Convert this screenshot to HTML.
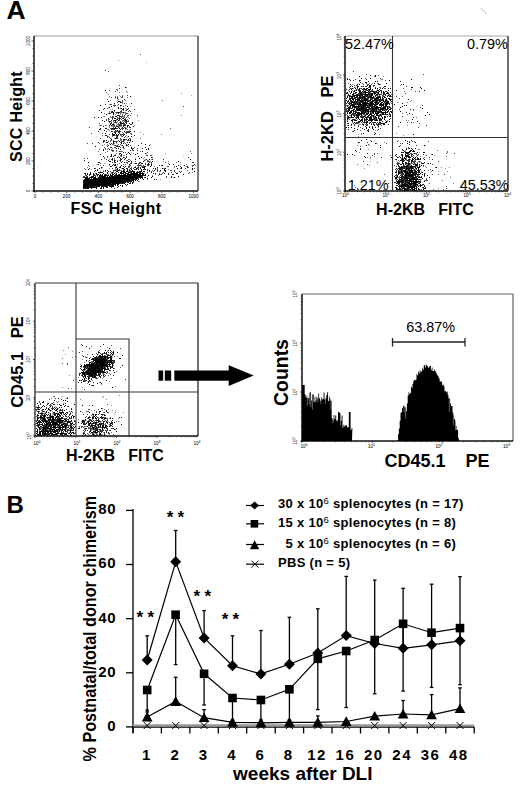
<!DOCTYPE html>
<html><head><meta charset="utf-8"><style>
html,body{margin:0;padding:0;background:#fff;width:520px;height:785px;overflow:hidden}
svg{display:block}
text{font-family:"Liberation Sans", sans-serif;fill:#000}
</style></head><body>
<svg width="520" height="785" viewBox="0 0 520 785" font-family='"Liberation Sans", sans-serif'><rect width="520" height="785" fill="#fff"/><line x1="481" y1="8" x2="486.5" y2="14" stroke="#bbb" stroke-width="1"/><defs><filter id="bl" x="0" y="0" width="1" height="1"><feGaussianBlur stdDeviation="0.45"/></filter></defs><g filter="url(#bl)"><g transform="translate(0.5 0.5)" stroke-linecap="square" stroke-width="1" fill="none"><path stroke="#bbb" d="M183 156h0M146 62h0"/><path stroke="#aaa" d="M131 152h0M119 95h0M165 153h0M191 95h0"/><path stroke="#999" d="M143 134h0M108 94h0M118 60h0"/><path stroke="#888" d="M127 171h0M87 167h0M130 160h0M121 168h0M116 145h0M145 160h0M95 170h0M87 176h0M142 166h0M138 163h0M116 170h0M120 167h0M118 170h0M94 174h0M102 167h0M114 158h0M140 165h0M135 158h0M101 168h0M135 166h0M109 168h0M129 167h0M133 153h0M110 173h0M100 171h0M138 168h0M103 173h0M99 173h0M91 169h0M134 163h0M111 172h0M144 157h0M151 159h0M125 164h0M119 169h0M106 175h0M109 159h0M119 169h0M151 163h0M109 168h0M131 167h0M150 144h0M124 155h0M134 167h0M131 167h0M102 174h0M115 169h0M98 164h0M115 154h0M85 175h0M103 173h0M107 173h0M93 165h0M137 167h0M89 166h0M93 174h0M104 163h0M140 165h0M114 164h0M148 160h0M121 170h0M113 171h0M103 170h0M102 175h0M111 173h0M90 172h0M85 169h0M111 172h0M99 176h0M84 177h0M148 160h0M129 130h0M147 162h0M85 175h0M149 161h0M109 165h0M117 160h0M115 167h0M119 160h0M98 164h0M100 165h0M85 169h0M94 174h0M115 160h0M83 176h0M127 170h0M131 168h0M144 157h0M97 176h0M154 166h0M191 153h0M142 178h0M174 166h0M140 164h0M144 173h0M139 165h0M160 174h0M163 168h0M147 173h0M180 164h0M155 174h0M160 171h0M163 161h0M174 167h0M195 165h0M173 177h0M141 171h0M152 175h0M160 179h0M168 161h0M147 179h0M157 168h0M139 181h0M187 166h0M139 174h0M180 162h0M121 136h0M120 140h0M128 117h0M118 131h0M115 135h0M124 142h0M114 124h0M121 126h0M110 116h0M121 139h0M109 143h0M113 151h0M124 116h0M120 96h0M118 108h0M121 116h0M111 138h0M110 140h0M119 127h0M117 89h0M121 136h0M113 120h0M129 126h0M123 112h0M117 100h0M120 142h0M113 126h0M124 148h0M112 126h0M125 110h0M117 105h0M123 113h0M132 150h0M118 127h0M107 129h0M117 96h0M117 117h0M124 115h0M116 116h0M108 121h0M109 122h0M118 107h0M125 121h0M110 138h0M119 141h0M117 124h0M127 153h0M125 121h0M106 125h0M123 124h0M120 106h0M123 117h0M120 126h0M113 124h0M116 146h0M128 115h0M130 106h0M111 126h0M120 102h0M119 141h0M120 111h0M123 118h0M116 143h0M125 124h0M126 109h0M119 153h0M127 92h0M132 122h0M130 141h0M117 115h0M127 142h0M116 120h0M117 135h0M125 119h0M112 119h0M113 121h0M107 144h0M123 112h0M122 102h0M122 127h0M118 135h0M115 112h0M126 135h0M120 142h0M116 123h0M115 120h0M103 116h0M121 145h0M125 125h0M104 144h0M117 121h0M130 138h0M108 107h0M109 104h0M115 114h0M119 122h0M127 119h0M112 125h0M111 121h0M111 125h0M122 121h0M113 125h0M123 155h0M110 109h0M111 117h0M109 126h0M112 151h0M122 118h0M122 147h0M126 103h0M114 155h0M123 109h0M116 130h0M125 118h0M109 119h0M121 156h0M121 140h0M122 151h0M115 138h0M109 127h0M118 127h0M114 104h0M124 112h0M115 98h0M118 135h0M113 141h0M120 156h0M114 143h0M120 112h0M125 129h0M123 128h0M114 120h0M116 153h0M108 121h0M101 125h0M131 124h0M115 96h0M105 149h0M109 125h0M126 135h0M108 120h0M109 130h0M120 114h0M120 105h0M130 115h0M120 123h0M122 103h0M131 133h0M107 145h0M99 125h0M119 126h0M124 155h0M105 152h0M117 141h0M143 158h0M138 120h0M107 157h0M112 109h0M119 141h0M120 135h0M129 140h0M140 132h0M127 163h0M104 157h0M120 118h0M119 124h0M127 137h0M131 133h0M123 116h0M116 151h0M120 129h0M161 134h0M181 93h0M126 87h0M181 115h0M349 102h0M370 106h0M377 111h0M380 120h0M375 106h0M349 106h0M367 118h0M365 116h0M359 115h0M381 106h0M360 105h0M363 91h0M364 123h0M372 101h0M365 108h0M377 106h0M357 87h0M372 99h0M354 96h0M358 105h0M383 76h0M376 105h0M375 88h0M381 103h0M353 88h0M378 97h0M368 117h0M355 104h0M356 103h0M365 104h0M351 88h0M379 114h0M359 103h0M374 117h0M371 101h0M364 103h0M370 106h0M378 110h0M362 110h0M371 102h0M369 83h0M368 99h0M388 92h0M368 90h0M381 79h0M361 92h0M357 101h0M385 108h0M381 113h0M370 99h0M365 111h0M349 110h0M373 111h0M377 101h0M374 108h0M378 110h0M375 110h0M356 117h0M367 97h0M363 101h0M357 89h0M359 107h0M352 90h0M367 99h0M383 95h0M384 116h0M359 90h0M388 110h0M372 98h0M376 105h0M349 99h0M348 111h0M352 121h0M377 130h0M375 99h0M366 99h0M356 110h0M377 107h0M360 94h0M370 101h0M376 110h0M378 94h0M370 105h0M348 83h0M357 101h0M379 102h0M347 101h0M371 117h0M369 91h0M357 102h0M369 108h0M360 108h0M380 110h0M389 98h0M371 98h0M380 100h0M379 134h0M385 120h0M363 104h0M377 106h0M353 102h0M370 93h0M367 96h0M359 107h0M385 117h0M350 104h0M371 107h0M369 122h0M350 102h0M364 113h0M375 104h0M369 85h0M364 107h0M372 97h0M366 103h0M363 109h0M366 124h0M376 110h0M376 115h0M372 122h0M386 104h0M373 93h0M371 98h0M369 101h0M388 107h0M358 136h0M376 91h0M370 116h0M363 92h0M387 120h0M389 95h0M365 106h0M373 103h0M371 108h0M384 97h0M367 106h0M368 112h0M363 105h0M370 98h0M364 94h0M367 104h0M357 112h0M380 87h0M376 90h0M368 93h0M374 93h0M374 94h0M360 100h0M388 115h0M384 103h0M376 91h0M372 89h0M362 109h0M372 119h0M368 99h0M380 108h0M355 90h0M362 99h0M357 100h0M360 104h0M375 130h0M372 99h0M367 112h0M357 119h0M363 89h0M358 116h0M369 114h0M364 101h0M375 92h0M390 115h0M356 117h0M358 105h0M362 108h0M361 95h0M356 99h0M376 112h0M352 84h0M358 101h0M371 102h0M360 106h0M366 125h0M384 104h0M381 111h0M390 96h0M349 99h0M384 117h0M364 106h0M383 103h0M360 111h0M360 101h0M374 106h0M378 112h0M360 106h0M379 123h0M380 104h0M356 107h0M357 112h0M353 91h0M374 101h0M378 92h0M364 99h0M357 106h0M375 118h0M376 101h0M366 114h0M347 95h0M366 111h0M363 98h0M351 85h0M382 99h0M371 95h0M372 97h0M348 127h0M346 92h0M365 103h0M372 89h0M377 89h0M374 115h0M364 93h0M380 105h0M362 101h0M369 107h0M375 102h0M350 106h0M364 95h0M368 95h0M355 106h0M374 132h0M389 114h0M370 104h0M364 96h0M382 113h0M356 105h0M363 102h0M362 100h0M358 83h0M358 100h0M365 94h0M366 108h0M351 101h0M359 89h0M357 97h0M388 101h0M371 106h0M353 107h0M368 107h0M347 111h0M362 97h0M368 104h0M359 113h0M351 108h0M369 107h0M353 92h0M352 122h0M378 96h0M364 107h0M361 94h0M377 110h0M350 107h0M366 102h0M367 98h0M376 101h0M368 99h0M366 114h0M366 117h0M375 118h0M374 117h0M387 95h0M373 97h0M362 97h0M369 109h0M370 105h0M359 81h0M354 111h0M363 100h0M372 111h0M363 109h0M361 96h0M353 113h0M368 107h0M356 114h0M381 111h0M352 94h0M360 117h0M354 120h0M364 120h0M348 103h0M358 134h0M360 96h0M364 92h0M377 83h0M367 114h0M370 112h0M357 85h0M359 88h0M362 97h0M355 87h0M358 115h0M361 100h0M358 90h0M381 111h0M381 107h0M372 83h0M374 97h0M357 89h0M349 107h0M378 127h0M354 97h0M388 94h0M362 100h0M353 101h0M346 105h0M347 125h0M364 98h0M372 91h0M360 94h0M355 101h0M371 91h0M408 172h0M420 181h0M409 177h0M404 177h0M406 177h0M409 182h0M402 166h0M401 175h0M415 188h0M398 177h0M408 171h0M414 163h0M407 174h0M406 176h0M412 184h0M409 186h0M403 188h0M410 159h0M405 171h0M409 184h0M401 188h0M414 185h0M401 184h0M411 162h0M415 165h0M413 184h0M399 161h0M420 166h0M400 179h0M415 188h0M413 153h0M418 180h0M406 170h0M409 167h0M399 170h0M410 189h0M405 186h0M400 184h0M415 171h0M398 172h0M406 160h0M409 174h0M415 142h0M407 178h0M407 166h0M405 150h0M408 185h0M412 186h0M397 179h0M412 181h0M417 174h0M414 164h0M410 164h0M415 163h0M415 180h0M418 189h0M414 182h0M419 152h0M411 170h0M413 167h0M415 177h0M420 184h0M400 170h0M407 171h0M407 182h0M408 156h0M408 168h0M405 172h0M412 189h0M410 176h0M408 180h0M412 183h0M411 165h0M397 163h0M418 190h0M395 179h0M411 188h0M416 188h0M407 173h0M409 172h0M403 183h0M418 159h0M408 189h0M403 180h0M397 179h0M412 174h0M404 175h0M409 184h0M398 140h0M406 170h0M403 180h0M400 181h0M408 188h0M407 172h0M412 177h0M405 164h0M411 178h0M406 181h0M421 179h0M412 176h0M399 179h0M400 189h0M407 188h0M407 155h0M417 187h0M403 186h0M419 149h0M402 174h0M410 189h0M402 178h0M420 180h0M395 172h0M408 164h0M403 173h0M415 177h0M404 181h0M419 185h0M405 172h0M412 172h0M414 188h0M414 167h0M403 173h0M402 178h0M408 182h0M401 164h0M409 178h0M402 150h0M419 162h0M409 184h0M404 172h0M396 163h0M396 161h0M407 160h0M419 161h0M407 178h0M419 152h0M409 172h0M409 179h0M404 174h0M406 158h0M404 165h0M404 183h0M412 173h0M413 169h0M403 158h0M420 156h0M413 182h0M412 182h0M407 176h0M404 182h0M404 181h0M411 177h0M414 184h0M400 173h0M409 188h0M406 171h0M409 177h0M416 185h0M418 175h0M407 179h0M399 172h0M410 180h0M409 165h0M409 177h0M409 175h0M410 163h0M416 183h0M399 177h0M409 174h0M399 168h0M421 165h0M408 174h0M410 165h0M403 163h0M425 180h0M400 145h0M427 163h0M407 164h0M410 175h0M411 169h0M397 162h0M399 169h0M401 186h0M404 190h0M425 145h0M398 177h0M411 186h0M422 163h0M429 159h0M399 177h0M423 166h0M415 158h0M412 182h0M402 178h0M424 180h0M420 161h0M402 170h0M415 160h0M425 173h0M418 185h0M398 162h0M401 171h0M404 187h0M410 101h0M411 100h0M408 120h0M400 85h0M397 102h0M396 133h0M407 125h0M403 135h0M370 158h0M359 152h0M377 153h0M367 157h0M374 156h0M370 161h0M384 142h0M370 140h0M357 145h0M368 149h0M364 168h0M354 185h0M352 182h0M369 165h0M352 182h0M426 167h0M433 189h0M447 171h0M449 167h0M441 167h0M438 188h0M426 178h0M421 171h0M453 183h0M438 171h0M425 166h0M434 155h0M431 171h0M446 156h0M445 168h0M94 370h0M95 369h0M99 367h0M102 359h0M102 359h0M94 371h0M104 359h0M104 358h0M97 367h0M100 368h0M94 364h0M97 369h0M87 369h0M88 373h0M102 368h0M92 368h0M99 368h0M95 363h0M84 362h0M109 357h0M102 363h0M99 361h0M111 355h0M96 358h0M99 366h0M89 363h0M100 360h0M101 370h0M90 373h0M97 364h0M94 364h0M99 366h0M93 364h0M92 371h0M85 378h0M89 370h0M100 364h0M112 357h0M80 380h0M100 374h0M101 365h0M98 367h0M95 359h0M107 361h0M106 358h0M113 365h0M101 361h0M105 365h0M99 357h0M103 365h0M106 366h0M83 381h0M94 365h0M95 368h0M88 377h0M107 347h0M100 368h0M98 357h0M96 367h0M92 366h0M106 363h0M93 368h0M92 368h0M93 368h0M86 370h0M104 358h0M107 355h0M93 366h0M97 368h0M88 370h0M100 369h0M104 369h0M98 365h0M99 362h0M84 372h0M107 371h0M94 360h0M89 374h0M101 358h0M96 377h0M78 377h0M99 369h0M94 366h0M97 364h0M82 376h0M96 371h0M91 373h0M85 372h0M103 372h0M98 374h0M91 361h0M102 360h0M105 355h0M87 367h0M81 367h0M98 362h0M102 371h0M100 362h0M90 372h0M95 364h0M91 368h0M95 369h0M90 369h0M92 367h0M91 363h0M89 374h0M108 360h0M99 362h0M103 362h0M100 364h0M101 370h0M94 371h0M96 371h0M96 368h0M89 376h0M90 368h0M87 374h0M99 362h0M100 363h0M95 370h0M95 364h0M105 360h0M109 362h0M94 371h0M98 377h0M101 359h0M98 371h0M107 366h0M95 369h0M88 361h0M88 370h0M92 371h0M89 365h0M110 374h0M91 368h0M100 362h0M101 363h0M104 368h0M93 362h0M96 361h0M88 370h0M108 361h0M110 355h0M95 366h0M97 369h0M92 362h0M103 372h0M94 374h0M103 365h0M111 366h0M97 355h0M92 380h0M102 373h0M100 368h0M91 376h0M89 377h0M93 364h0M100 364h0M109 366h0M101 361h0M98 365h0M106 361h0M101 372h0M99 366h0M91 365h0M100 371h0M98 366h0M99 358h0M100 364h0M107 362h0M93 368h0M88 377h0M102 373h0M102 362h0M101 363h0M106 362h0M97 362h0M100 364h0M91 374h0M111 353h0M91 366h0M98 371h0M92 367h0M99 363h0M98 370h0M102 365h0M109 373h0M106 357h0M97 365h0M85 357h0M93 374h0M98 373h0M100 371h0M111 378h0M92 363h0M101 358h0M117 356h0M82 387h0M99 382h0M87 383h0M98 366h0M91 346h0M85 356h0M111 366h0M94 364h0M80 364h0M87 369h0M82 359h0M115 386h0M101 384h0M95 378h0M93 374h0M109 381h0M95 361h0M83 370h0M99 376h0M103 376h0M87 357h0M105 356h0M85 368h0M86 361h0M95 377h0M96 375h0M105 357h0M102 378h0M107 356h0M106 371h0M63 420h0M47 422h0M68 425h0M65 431h0M60 430h0M58 428h0M36 420h0M53 424h0M64 422h0M45 416h0M53 429h0M41 431h0M48 425h0M57 427h0M37 434h0M45 426h0M58 426h0M58 430h0M45 420h0M55 421h0M53 423h0M61 434h0M49 413h0M41 419h0M55 417h0M50 426h0M56 425h0M38 425h0M54 425h0M67 417h0M49 410h0M45 412h0M64 425h0M47 426h0M57 411h0M63 421h0M51 426h0M65 421h0M49 428h0M42 423h0M62 435h0M63 421h0M59 431h0M57 431h0M41 419h0M69 418h0M59 416h0M61 423h0M57 430h0M62 423h0M51 428h0M41 427h0M45 427h0M65 430h0M58 408h0M37 423h0M47 421h0M44 428h0M52 434h0M42 414h0M42 430h0M60 426h0M63 418h0M61 429h0M70 413h0M73 418h0M54 427h0M55 406h0M43 409h0M37 408h0M60 422h0M48 423h0M44 421h0M62 432h0M42 433h0M52 425h0M48 424h0M47 417h0M51 430h0M74 433h0M42 430h0M53 414h0M55 431h0M43 421h0M54 413h0M50 433h0M38 421h0M43 411h0M71 432h0M44 424h0M59 429h0M36 420h0M52 425h0M46 429h0M52 411h0M50 422h0M47 410h0M47 423h0M60 425h0M38 426h0M62 415h0M65 416h0M51 419h0M36 425h0M61 410h0M61 419h0M66 419h0M50 411h0M46 424h0M50 425h0M63 414h0M59 427h0M57 423h0M49 434h0M42 412h0M53 430h0M44 428h0M49 425h0M52 423h0M51 432h0M57 427h0M66 429h0M46 433h0M43 422h0M59 426h0M47 423h0M58 417h0M68 433h0M52 413h0M51 410h0M62 426h0M43 426h0M38 425h0M48 425h0M42 402h0M56 421h0M47 417h0M52 429h0M53 423h0M49 425h0M58 420h0M58 435h0M59 411h0M53 412h0M69 432h0M75 426h0M71 424h0M101 430h0M98 427h0M86 426h0M93 420h0M100 425h0M85 420h0M82 421h0M103 429h0M85 423h0M89 425h0M103 432h0M93 432h0M102 424h0M92 421h0M93 431h0M99 431h0M94 427h0M104 427h0M105 424h0M99 418h0M101 427h0M89 428h0M92 419h0M107 419h0M92 413h0M98 417h0M103 430h0M87 418h0M109 418h0M86 426h0M92 416h0M87 414h0M110 417h0M101 431h0M97 427h0M99 430h0M88 420h0M100 433h0M99 427h0M111 405h0M102 426h0M79 427h0M84 429h0M89 427h0M99 434h0M93 430h0M93 433h0M101 421h0M88 424h0M99 424h0M94 431h0M83 432h0M109 422h0M98 427h0M85 426h0M95 424h0M101 424h0M91 430h0M98 419h0M90 430h0M109 426h0M81 421h0M92 416h0M102 434h0M101 423h0M107 421h0M86 428h0M92 423h0M95 424h0M91 429h0M115 412h0M109 425h0M104 434h0M102 424h0M114 414h0M98 419h0M109 434h0M98 429h0M110 426h0M109 422h0M92 424h0M104 424h0M82 412h0M88 420h0M107 426h0M108 433h0M86 422h0M96 421h0M101 434h0M114 435h0M107 430h0M100 422h0M92 425h0M102 418h0M103 412h0M95 432h0M93 418h0M56 401h0M53 396h0M63 403h0M57 413h0M67 397h0M41 412h0M58 401h0M63 429h0M62 396h0M56 417h0M40 427h0M70 414h0M46 405h0M71 433h0M53 413h0M43 409h0M66 398h0M50 430h0M48 429h0M50 429h0M37 433h0M115 410h0M82 426h0M118 418h0M119 395h0M80 399h0M100 421h0M123 412h0M112 410h0M89 405h0M103 396h0M106 399h0M102 397h0M91 410h0M102 410h0M72 351h0M71 388h0M72 357h0M65 354h0M75 356h0M69 375h0M63 350h0M62 387h0"/><path stroke="#666" d="M93 177h0M118 172h0M124 157h0M147 164h0M111 149h0M97 176h0M141 166h0M128 171h0M85 175h0M135 169h0M95 173h0M114 155h0M129 159h0M84 168h0M97 164h0M129 165h0M116 169h0M120 166h0M84 176h0M140 165h0M146 153h0M115 174h0M140 151h0M124 171h0M100 176h0M147 161h0M145 159h0M112 173h0M120 161h0M95 175h0M88 165h0M87 176h0M106 174h0M145 163h0M129 171h0M123 169h0M111 150h0M133 168h0M147 165h0M112 160h0M137 165h0M90 172h0M126 160h0M108 160h0M131 168h0M84 158h0M130 170h0M123 164h0M138 167h0M141 177h0M193 165h0M152 170h0M142 166h0M159 173h0M168 173h0M141 175h0M179 171h0M159 171h0M192 166h0M175 172h0M187 170h0M154 170h0M168 163h0M141 165h0M176 162h0M151 171h0M168 169h0M142 174h0M192 172h0M144 177h0M186 166h0M138 181h0M186 164h0M180 168h0M158 175h0M140 174h0M164 168h0M143 171h0M147 176h0M121 97h0M113 125h0M123 126h0M117 146h0M120 108h0M125 108h0M119 153h0M115 168h0M106 131h0M113 144h0M109 96h0M123 148h0M122 158h0M120 118h0M125 113h0M118 123h0M120 144h0M107 146h0M114 147h0M122 132h0M117 121h0M113 120h0M121 135h0M127 113h0M122 95h0M127 126h0M124 140h0M107 99h0M125 100h0M103 140h0M119 120h0M113 140h0M113 150h0M126 91h0M110 141h0M110 121h0M109 90h0M112 118h0M115 147h0M116 136h0M122 112h0M120 139h0M121 102h0M118 115h0M113 127h0M127 140h0M115 130h0M121 122h0M118 156h0M119 92h0M113 116h0M114 111h0M122 141h0M121 110h0M114 138h0M117 118h0M120 170h0M127 116h0M112 144h0M122 115h0M118 144h0M111 120h0M110 100h0M126 128h0M121 123h0M114 111h0M113 117h0M125 112h0M116 119h0M123 147h0M109 112h0M124 120h0M110 128h0M104 113h0M123 134h0M121 128h0M125 129h0M110 117h0M115 121h0M110 113h0M114 138h0M131 113h0M120 101h0M108 141h0M114 105h0M114 106h0M109 111h0M123 110h0M128 146h0M128 120h0M108 148h0M112 129h0M121 134h0M116 113h0M112 134h0M123 126h0M120 144h0M125 127h0M118 115h0M125 136h0M125 121h0M117 100h0M118 118h0M126 144h0M122 120h0M104 116h0M117 112h0M111 111h0M108 113h0M118 126h0M102 135h0M127 115h0M121 145h0M127 127h0M118 125h0M127 97h0M114 118h0M128 121h0M114 159h0M120 101h0M120 151h0M129 138h0M105 125h0M116 131h0M132 148h0M125 121h0M125 105h0M112 148h0M98 151h0M134 125h0M104 147h0M140 138h0M127 131h0M112 136h0M129 132h0M128 159h0M117 126h0M108 136h0M103 142h0M99 143h0M116 166h0M128 111h0M107 149h0M102 133h0M119 112h0M127 129h0M134 147h0M120 155h0M190 151h0M162 100h0M170 128h0M108 71h0M140 54h0M363 99h0M357 99h0M347 116h0M367 109h0M350 115h0M363 88h0M356 105h0M350 106h0M362 111h0M352 119h0M375 107h0M366 104h0M365 124h0M357 110h0M370 98h0M375 109h0M359 99h0M363 109h0M365 98h0M359 80h0M365 116h0M375 110h0M374 117h0M358 108h0M382 96h0M363 100h0M370 104h0M370 118h0M376 117h0M353 99h0M370 95h0M363 99h0M378 116h0M364 95h0M358 103h0M362 86h0M380 115h0M363 112h0M347 112h0M374 100h0M358 116h0M375 104h0M357 104h0M356 90h0M388 106h0M356 103h0M349 99h0M369 109h0M382 105h0M382 102h0M382 118h0M359 103h0M373 100h0M363 94h0M369 120h0M374 116h0M356 111h0M371 98h0M368 90h0M364 94h0M372 110h0M365 117h0M348 94h0M351 96h0M363 114h0M355 106h0M372 113h0M362 119h0M364 103h0M379 109h0M363 93h0M350 115h0M359 107h0M374 97h0M361 115h0M361 106h0M359 104h0M384 110h0M369 114h0M369 126h0M379 121h0M366 114h0M368 103h0M365 111h0M376 104h0M369 92h0M354 106h0M363 111h0M367 121h0M384 92h0M370 118h0M363 106h0M376 107h0M375 120h0M371 97h0M389 112h0M383 110h0M369 103h0M391 103h0M367 102h0M377 103h0M364 107h0M372 91h0M385 110h0M377 119h0M362 111h0M368 96h0M350 106h0M356 120h0M348 90h0M362 99h0M362 91h0M347 105h0M359 100h0M352 113h0M369 103h0M364 115h0M366 112h0M375 109h0M371 112h0M362 108h0M380 88h0M361 109h0M354 124h0M384 93h0M372 102h0M367 95h0M372 100h0M387 100h0M361 102h0M354 108h0M363 104h0M385 95h0M367 125h0M358 123h0M359 95h0M384 94h0M365 93h0M375 103h0M354 107h0M364 92h0M385 100h0M377 98h0M370 93h0M380 90h0M371 110h0M354 101h0M387 92h0M370 92h0M363 110h0M371 123h0M354 113h0M368 108h0M362 102h0M378 75h0M365 111h0M373 123h0M368 89h0M351 112h0M352 113h0M366 79h0M372 109h0M372 110h0M362 117h0M365 96h0M379 114h0M362 116h0M370 122h0M365 97h0M387 109h0M366 107h0M375 113h0M369 126h0M362 123h0M372 116h0M365 105h0M352 131h0M380 98h0M347 120h0M386 110h0M387 103h0M383 105h0M369 90h0M353 110h0M362 97h0M363 101h0M350 101h0M355 114h0M352 95h0M362 99h0M373 92h0M387 121h0M379 95h0M379 102h0M379 118h0M364 94h0M363 99h0M357 99h0M346 114h0M367 119h0M348 109h0M384 88h0M365 126h0M360 88h0M357 110h0M360 97h0M358 97h0M362 117h0M388 95h0M368 90h0M356 111h0M365 103h0M372 101h0M385 110h0M377 109h0M359 101h0M366 95h0M369 95h0M384 109h0M366 120h0M358 110h0M371 112h0M371 105h0M379 121h0M349 87h0M364 100h0M362 93h0M382 107h0M358 105h0M360 124h0M361 112h0M368 107h0M360 104h0M359 124h0M356 102h0M370 100h0M375 107h0M360 114h0M383 100h0M362 115h0M351 108h0M357 113h0M373 98h0M383 110h0M377 95h0M353 110h0M367 121h0M346 110h0M362 92h0M369 102h0M368 129h0M387 114h0M356 111h0M376 101h0M364 108h0M367 98h0M371 116h0M373 96h0M360 107h0M368 87h0M361 133h0M375 87h0M365 92h0M357 112h0M359 108h0M365 114h0M355 115h0M348 105h0M377 99h0M349 115h0M359 90h0M367 111h0M366 95h0M352 114h0M384 94h0M383 99h0M355 114h0M356 112h0M369 96h0M371 102h0M353 100h0M363 97h0M358 93h0M391 94h0M362 111h0M360 105h0M364 97h0M347 110h0M376 117h0M376 104h0M371 115h0M374 114h0M374 108h0M390 102h0M368 98h0M354 114h0M387 109h0M346 108h0M365 89h0M356 104h0M374 116h0M374 76h0M360 98h0M383 95h0M357 88h0M371 103h0M353 93h0M380 84h0M375 108h0M360 102h0M363 112h0M382 104h0M349 96h0M378 83h0M365 78h0M379 87h0M352 108h0M368 99h0M372 105h0M349 98h0M362 97h0M358 86h0M376 99h0M361 134h0M381 93h0M366 107h0M382 79h0M375 88h0M365 90h0M364 121h0M360 130h0M366 117h0M360 80h0M382 95h0M349 104h0M400 182h0M409 171h0M409 167h0M402 183h0M407 173h0M411 182h0M400 185h0M405 163h0M407 185h0M412 184h0M414 178h0M401 183h0M413 184h0M419 177h0M408 181h0M400 170h0M407 171h0M408 176h0M403 150h0M404 181h0M396 179h0M407 176h0M407 169h0M418 174h0M411 148h0M404 190h0M403 163h0M410 180h0M408 189h0M417 172h0M415 181h0M406 189h0M397 188h0M413 174h0M412 163h0M407 189h0M399 184h0M399 188h0M416 154h0M403 184h0M396 175h0M413 170h0M423 188h0M412 180h0M413 176h0M416 179h0M417 182h0M415 167h0M402 187h0M401 186h0M410 181h0M403 164h0M398 164h0M413 161h0M405 183h0M415 167h0M402 166h0M403 186h0M411 176h0M418 176h0M412 166h0M405 178h0M406 173h0M408 183h0M413 183h0M406 186h0M406 189h0M414 182h0M410 183h0M407 186h0M408 154h0M414 187h0M409 154h0M412 184h0M411 181h0M409 179h0M402 170h0M409 189h0M400 173h0M411 169h0M407 163h0M409 173h0M414 141h0M411 175h0M397 182h0M419 171h0M419 165h0M396 176h0M399 176h0M406 174h0M407 189h0M405 170h0M412 167h0M408 184h0M404 185h0M405 151h0M400 177h0M406 186h0M399 186h0M404 187h0M399 187h0M413 172h0M407 182h0M416 166h0M397 162h0M409 185h0M405 176h0M409 172h0M411 160h0M412 176h0M399 187h0M418 182h0M406 165h0M410 169h0M398 160h0M408 167h0M406 188h0M409 178h0M404 187h0M400 175h0M408 186h0M407 180h0M399 176h0M405 173h0M413 175h0M406 176h0M403 185h0M396 180h0M407 186h0M409 176h0M417 162h0M413 173h0M407 154h0M408 184h0M419 182h0M414 173h0M409 176h0M407 176h0M416 153h0M406 180h0M408 185h0M411 183h0M409 165h0M416 156h0M416 159h0M406 190h0M412 173h0M399 163h0M402 187h0M414 160h0M411 174h0M406 159h0M409 181h0M401 173h0M416 168h0M418 179h0M421 189h0M406 170h0M409 158h0M414 181h0M400 175h0M412 183h0M418 173h0M412 171h0M405 184h0M402 187h0M411 189h0M401 189h0M408 170h0M401 168h0M408 147h0M408 185h0M422 185h0M418 161h0M432 174h0M409 141h0M413 178h0M410 167h0M409 167h0M417 182h0M411 150h0M404 189h0M414 164h0M412 141h0M417 158h0M418 174h0M419 172h0M409 164h0M414 167h0M409 175h0M406 187h0M405 186h0M411 180h0M418 149h0M404 171h0M402 96h0M413 110h0M407 114h0M406 120h0M413 122h0M402 113h0M407 102h0M404 91h0M403 88h0M419 123h0M416 117h0M407 122h0M368 144h0M369 145h0M377 153h0M374 153h0M354 155h0M390 155h0M370 157h0M384 174h0M377 162h0M357 164h0M436 167h0M438 174h0M450 177h0M435 167h0M429 183h0M437 150h0M427 180h0M442 180h0M447 151h0M431 154h0M424 157h0M447 152h0M100 367h0M100 364h0M98 366h0M111 359h0M95 370h0M101 363h0M99 365h0M105 360h0M98 374h0M96 370h0M93 367h0M97 358h0M105 362h0M92 363h0M88 374h0M113 361h0M93 371h0M98 360h0M89 384h0M101 363h0M89 370h0M91 367h0M103 353h0M101 371h0M103 363h0M104 374h0M103 362h0M93 373h0M102 370h0M108 366h0M87 374h0M98 365h0M105 362h0M103 365h0M94 369h0M86 380h0M89 381h0M101 361h0M100 364h0M97 370h0M88 377h0M94 364h0M94 374h0M98 361h0M100 358h0M100 372h0M103 368h0M103 360h0M92 374h0M103 366h0M112 363h0M88 379h0M99 366h0M92 369h0M93 366h0M102 368h0M96 365h0M110 360h0M91 363h0M105 362h0M88 368h0M96 360h0M95 367h0M102 361h0M87 369h0M101 365h0M95 361h0M93 372h0M105 358h0M83 380h0M101 366h0M89 366h0M112 361h0M98 362h0M97 367h0M92 373h0M108 354h0M95 367h0M85 377h0M97 367h0M97 365h0M106 361h0M98 371h0M96 367h0M90 367h0M89 366h0M88 372h0M95 369h0M94 364h0M90 364h0M103 365h0M98 362h0M97 369h0M90 374h0M89 376h0M95 366h0M97 378h0M103 361h0M88 370h0M84 373h0M94 371h0M92 374h0M85 366h0M98 372h0M101 368h0M104 358h0M112 355h0M88 375h0M101 368h0M104 359h0M100 363h0M97 363h0M106 358h0M97 367h0M102 366h0M107 357h0M98 366h0M86 365h0M97 362h0M91 372h0M97 367h0M107 364h0M96 368h0M92 372h0M92 370h0M103 377h0M96 362h0M96 357h0M92 370h0M90 362h0M91 367h0M87 376h0M105 367h0M96 365h0M86 378h0M103 362h0M95 371h0M104 364h0M101 370h0M85 381h0M91 369h0M101 367h0M88 370h0M92 362h0M83 372h0M95 364h0M100 371h0M92 362h0M102 365h0M103 362h0M96 365h0M100 365h0M88 367h0M86 373h0M94 374h0M104 359h0M90 371h0M97 366h0M109 361h0M85 375h0M99 367h0M96 364h0M94 365h0M99 350h0M99 366h0M93 372h0M98 367h0M90 366h0M85 381h0M101 369h0M83 367h0M89 371h0M86 374h0M96 367h0M107 354h0M104 360h0M93 367h0M107 358h0M94 366h0M98 369h0M95 364h0M92 367h0M94 371h0M91 378h0M106 364h0M104 358h0M97 375h0M92 375h0M92 364h0M96 372h0M89 370h0M99 362h0M89 371h0M101 368h0M96 363h0M108 375h0M95 365h0M120 367h0M82 355h0M99 371h0M110 374h0M91 375h0M100 357h0M105 372h0M88 369h0M87 354h0M98 366h0M112 352h0M116 371h0M109 373h0M107 351h0M96 369h0M87 368h0M96 374h0M95 361h0M86 357h0M110 366h0M96 364h0M103 373h0M99 373h0M95 366h0M90 362h0M101 372h0M99 374h0M98 353h0M94 370h0M92 359h0M111 345h0M95 363h0M86 371h0M66 427h0M41 410h0M41 424h0M49 416h0M67 413h0M44 426h0M48 427h0M47 429h0M59 426h0M45 422h0M57 417h0M72 425h0M57 420h0M53 416h0M37 420h0M41 414h0M38 406h0M49 407h0M43 405h0M63 422h0M50 424h0M51 398h0M69 422h0M38 426h0M37 426h0M42 423h0M50 424h0M54 415h0M43 413h0M51 421h0M64 418h0M49 405h0M54 432h0M41 428h0M57 431h0M52 415h0M54 428h0M49 416h0M38 421h0M73 430h0M45 418h0M52 424h0M48 430h0M40 427h0M42 409h0M58 428h0M36 416h0M57 434h0M50 419h0M38 408h0M61 421h0M52 418h0M71 418h0M55 424h0M57 433h0M70 428h0M55 419h0M43 434h0M38 413h0M40 408h0M50 415h0M41 430h0M50 428h0M45 434h0M39 413h0M51 434h0M74 420h0M43 428h0M53 420h0M58 422h0M40 427h0M52 424h0M55 419h0M68 426h0M44 429h0M48 428h0M48 418h0M67 406h0M38 425h0M49 418h0M47 435h0M53 420h0M42 430h0M40 417h0M47 422h0M56 433h0M42 428h0M47 428h0M47 421h0M37 435h0M47 420h0M49 431h0M59 420h0M43 435h0M37 426h0M54 430h0M53 414h0M40 431h0M57 435h0M39 401h0M49 435h0M68 425h0M47 433h0M46 430h0M42 414h0M50 424h0M57 402h0M57 427h0M48 430h0M60 429h0M45 421h0M57 404h0M44 432h0M43 425h0M45 420h0M59 424h0M39 430h0M54 430h0M47 417h0M45 433h0M51 425h0M41 416h0M38 420h0M59 428h0M52 433h0M64 427h0M51 433h0M71 425h0M58 426h0M68 420h0M47 434h0M53 424h0M50 432h0M44 413h0M43 433h0M58 417h0M116 421h0M91 424h0M93 432h0M84 435h0M103 419h0M91 421h0M89 428h0M90 420h0M106 430h0M96 430h0M89 432h0M107 420h0M89 424h0M93 414h0M87 422h0M98 417h0M97 427h0M105 430h0M102 408h0M88 420h0M92 427h0M95 415h0M93 435h0M92 423h0M90 425h0M98 417h0M85 429h0M95 435h0M103 427h0M86 426h0M88 422h0M109 424h0M86 411h0M97 424h0M93 422h0M100 424h0M98 431h0M99 426h0M90 417h0M83 430h0M91 415h0M96 430h0M90 425h0M94 427h0M90 423h0M89 431h0M101 427h0M86 416h0M94 428h0M91 428h0M88 422h0M91 423h0M98 418h0M97 429h0M92 429h0M92 426h0M83 432h0M93 433h0M111 432h0M95 427h0M101 430h0M83 424h0M98 418h0M95 433h0M84 428h0M94 421h0M87 422h0M87 422h0M104 409h0M91 423h0M102 429h0M83 427h0M92 421h0M115 429h0M87 418h0M100 434h0M87 411h0M97 429h0M95 432h0M94 410h0M96 432h0M88 427h0M105 423h0M82 422h0M111 423h0M96 412h0M96 432h0M99 429h0M98 420h0M108 433h0M82 435h0M89 420h0M108 409h0M105 415h0M98 427h0M94 434h0M98 427h0M47 403h0M75 423h0M39 402h0M53 416h0M57 430h0M67 412h0M70 412h0M118 421h0M81 426h0M110 417h0M84 432h0M102 415h0M81 427h0M108 412h0M78 419h0M62 358h0M68 347h0M73 380h0M62 363h0"/><path stroke="#444" d="M151 162h0M130 165h0M137 167h0M87 143h0M90 173h0M85 169h0M134 169h0M147 164h0M131 168h0M143 166h0M99 172h0M117 170h0M119 157h0M141 166h0M104 176h0M147 160h0M124 171h0M94 175h0M130 168h0M146 155h0M114 145h0M113 172h0M120 159h0M86 176h0M99 149h0M147 155h0M127 160h0M105 175h0M128 166h0M143 166h0M138 164h0M95 173h0M97 169h0M86 176h0M107 170h0M142 151h0M119 154h0M142 163h0M99 168h0M99 168h0M131 167h0M108 174h0M136 168h0M130 171h0M93 176h0M123 152h0M115 165h0M103 171h0M150 155h0M151 163h0M124 170h0M111 172h0M103 165h0M148 161h0M124 167h0M149 164h0M147 152h0M119 169h0M111 166h0M95 168h0M104 158h0M144 166h0M115 167h0M131 162h0M122 161h0M89 168h0M133 168h0M87 173h0M85 174h0M150 161h0M135 161h0M89 175h0M152 157h0M139 163h0M127 168h0M95 176h0M180 166h0M194 168h0M167 166h0M192 165h0M143 173h0M187 167h0M174 170h0M138 166h0M188 173h0M174 171h0M181 171h0M188 167h0M157 171h0M165 162h0M187 167h0M173 164h0M163 159h0M166 177h0M180 166h0M171 172h0M170 170h0M142 176h0M168 166h0M192 162h0M144 160h0M142 177h0M120 108h0M111 104h0M130 145h0M114 131h0M127 125h0M111 111h0M119 153h0M122 118h0M123 122h0M124 137h0M108 129h0M130 124h0M124 124h0M124 117h0M117 138h0M116 146h0M115 121h0M115 127h0M128 131h0M118 99h0M127 95h0M125 132h0M120 124h0M123 146h0M118 146h0M113 105h0M117 131h0M114 125h0M124 115h0M107 136h0M117 102h0M122 100h0M116 135h0M116 89h0M121 162h0M125 114h0M113 164h0M124 121h0M121 112h0M117 98h0M115 91h0M121 139h0M112 131h0M113 123h0M123 110h0M109 134h0M130 133h0M107 151h0M120 123h0M128 140h0M108 141h0M119 163h0M110 147h0M112 135h0M111 156h0M131 134h0M116 128h0M120 149h0M123 133h0M118 134h0M119 125h0M124 124h0M109 125h0M116 125h0M121 111h0M121 151h0M116 134h0M137 148h0M118 140h0M119 115h0M121 105h0M116 150h0M128 121h0M124 103h0M120 147h0M122 128h0M112 117h0M125 122h0M126 139h0M126 117h0M123 106h0M121 141h0M120 125h0M110 104h0M122 116h0M113 129h0M129 127h0M126 113h0M119 85h0M130 129h0M123 120h0M121 119h0M111 143h0M127 132h0M121 116h0M125 152h0M111 140h0M126 131h0M124 125h0M119 116h0M126 121h0M129 110h0M119 133h0M118 127h0M124 123h0M112 135h0M125 143h0M120 113h0M111 128h0M123 135h0M122 101h0M114 132h0M119 130h0M106 119h0M116 138h0M119 124h0M118 131h0M111 123h0M114 125h0M120 138h0M118 104h0M128 115h0M129 161h0M122 97h0M127 131h0M121 124h0M120 118h0M113 135h0M113 143h0M116 112h0M106 92h0M121 122h0M120 144h0M128 167h0M127 121h0M127 113h0M125 128h0M118 124h0M122 114h0M107 137h0M117 90h0M117 128h0M111 122h0M129 118h0M113 121h0M101 159h0M120 113h0M116 122h0M103 109h0M104 140h0M116 142h0M108 160h0M98 142h0M126 156h0M105 148h0M116 141h0M126 133h0M99 123h0M87 158h0M101 117h0M110 171h0M91 133h0M104 141h0M125 139h0M117 145h0M89 127h0M118 132h0M100 129h0M107 108h0M100 163h0M106 159h0M108 119h0M130 139h0M102 145h0M105 70h0M92 143h0M183 106h0M376 100h0M377 102h0M366 103h0M350 101h0M373 101h0M357 97h0M358 89h0M347 78h0M388 108h0M376 109h0M376 124h0M371 113h0M377 114h0M369 97h0M365 114h0M369 111h0M363 98h0M369 94h0M371 111h0M377 93h0M358 94h0M354 106h0M390 118h0M364 107h0M354 93h0M380 100h0M370 100h0M372 97h0M364 116h0M370 98h0M381 105h0M380 104h0M379 110h0M361 122h0M350 101h0M362 124h0M368 100h0M362 108h0M371 84h0M352 106h0M373 117h0M383 99h0M373 108h0M372 115h0M375 100h0M378 125h0M359 90h0M364 110h0M378 91h0M359 102h0M354 101h0M372 90h0M373 103h0M381 114h0M359 107h0M378 112h0M352 119h0M377 99h0M378 99h0M371 98h0M376 95h0M359 106h0M356 114h0M360 102h0M379 95h0M376 104h0M370 95h0M369 105h0M380 124h0M361 95h0M363 101h0M368 92h0M375 107h0M377 104h0M367 100h0M353 80h0M360 90h0M380 99h0M362 118h0M367 95h0M368 106h0M357 106h0M358 106h0M359 99h0M364 122h0M384 118h0M354 91h0M360 102h0M358 109h0M379 100h0M363 105h0M362 94h0M384 112h0M383 109h0M347 117h0M363 102h0M357 102h0M390 108h0M365 108h0M351 102h0M382 105h0M370 94h0M365 110h0M351 104h0M367 106h0M376 107h0M361 116h0M378 94h0M350 108h0M366 96h0M383 107h0M354 104h0M351 103h0M375 111h0M385 88h0M361 97h0M354 108h0M381 90h0M356 101h0M368 116h0M391 96h0M362 102h0M373 86h0M370 110h0M379 110h0M355 99h0M381 115h0M346 105h0M358 103h0M350 95h0M356 116h0M371 113h0M352 117h0M357 104h0M371 109h0M356 101h0M358 95h0M356 116h0M352 106h0M353 105h0M354 103h0M372 115h0M375 95h0M369 109h0M370 102h0M364 105h0M358 126h0M369 111h0M385 102h0M357 107h0M381 120h0M360 121h0M367 84h0M358 98h0M372 104h0M351 100h0M371 107h0M374 122h0M364 114h0M375 110h0M374 108h0M361 113h0M374 111h0M352 98h0M381 99h0M349 119h0M361 107h0M364 109h0M378 100h0M370 117h0M362 113h0M378 96h0M368 81h0M361 92h0M359 101h0M367 121h0M364 107h0M369 87h0M359 104h0M371 90h0M355 104h0M351 125h0M353 112h0M390 107h0M354 111h0M365 111h0M348 103h0M362 112h0M364 105h0M385 116h0M369 100h0M360 97h0M372 102h0M371 97h0M367 119h0M366 104h0M357 109h0M360 106h0M370 110h0M367 110h0M370 117h0M382 109h0M386 102h0M352 120h0M368 89h0M365 119h0M362 104h0M377 95h0M383 104h0M375 119h0M363 100h0M369 115h0M356 112h0M380 112h0M389 114h0M361 102h0M391 101h0M374 120h0M387 104h0M372 91h0M350 101h0M361 105h0M364 114h0M365 120h0M347 101h0M380 101h0M360 120h0M374 124h0M376 108h0M356 103h0M361 100h0M373 107h0M368 104h0M375 107h0M386 100h0M383 107h0M360 127h0M382 98h0M386 105h0M359 105h0M365 124h0M377 112h0M362 109h0M362 124h0M356 117h0M364 110h0M369 104h0M358 125h0M371 106h0M355 119h0M375 118h0M349 99h0M380 96h0M357 112h0M364 114h0M366 123h0M378 109h0M371 110h0M374 107h0M379 116h0M353 91h0M378 115h0M350 106h0M365 86h0M370 95h0M359 105h0M357 101h0M361 101h0M350 111h0M370 87h0M369 91h0M353 71h0M356 118h0M376 104h0M376 101h0M352 120h0M355 79h0M373 85h0M352 98h0M371 93h0M365 117h0M354 115h0M356 123h0M359 105h0M371 95h0M358 95h0M351 104h0M373 118h0M369 100h0M363 89h0M383 87h0M355 117h0M389 94h0M385 80h0M363 89h0M362 108h0M370 109h0M376 114h0M371 99h0M378 108h0M367 103h0M366 112h0M351 98h0M366 83h0M359 93h0M365 109h0M349 97h0M362 83h0M380 128h0M403 168h0M413 162h0M410 179h0M410 153h0M407 188h0M399 182h0M411 179h0M416 189h0M411 178h0M406 162h0M411 163h0M398 183h0M424 176h0M405 178h0M412 190h0M405 168h0M406 186h0M409 160h0M410 173h0M406 176h0M411 187h0M411 177h0M407 164h0M413 155h0M410 180h0M407 185h0M418 179h0M400 180h0M404 179h0M405 172h0M412 185h0M401 183h0M411 184h0M404 170h0M419 164h0M419 185h0M407 183h0M399 168h0M409 172h0M415 175h0M408 173h0M415 161h0M405 156h0M407 166h0M404 188h0M404 184h0M414 187h0M412 186h0M406 183h0M412 185h0M408 157h0M414 182h0M415 178h0M408 190h0M417 182h0M396 183h0M408 181h0M412 185h0M403 160h0M411 168h0M404 184h0M407 186h0M407 176h0M399 171h0M402 181h0M410 170h0M412 156h0M396 156h0M408 174h0M398 184h0M406 175h0M409 167h0M409 161h0M421 172h0M406 184h0M404 176h0M407 171h0M405 175h0M416 188h0M405 171h0M411 156h0M408 180h0M409 176h0M411 171h0M417 176h0M411 182h0M416 174h0M401 184h0M397 183h0M416 173h0M410 179h0M407 171h0M414 166h0M420 179h0M403 179h0M401 187h0M414 182h0M421 163h0M417 184h0M411 188h0M413 180h0M404 170h0M412 174h0M409 166h0M405 175h0M411 169h0M408 180h0M407 170h0M403 178h0M407 174h0M402 181h0M412 186h0M403 186h0M414 186h0M412 177h0M406 157h0M406 155h0M408 161h0M403 186h0M400 182h0M397 141h0M413 176h0M402 159h0M419 179h0M397 163h0M403 150h0M404 181h0M401 168h0M395 159h0M414 175h0M410 181h0M401 158h0M409 177h0M414 151h0M394 182h0M402 179h0M403 164h0M406 184h0M405 153h0M406 179h0M409 167h0M417 175h0M403 179h0M410 177h0M401 154h0M400 143h0M400 181h0M416 188h0M413 174h0M406 162h0M424 185h0M412 186h0M430 163h0M417 157h0M406 180h0M405 184h0M419 161h0M428 163h0M414 174h0M414 171h0M415 153h0M395 175h0M417 166h0M405 152h0M402 171h0M398 180h0M407 171h0M398 166h0M399 186h0M408 165h0M420 185h0M424 173h0M428 170h0M399 171h0M397 179h0M428 141h0M406 155h0M419 179h0M420 186h0M400 171h0M430 169h0M416 183h0M422 187h0M403 167h0M415 171h0M419 159h0M421 162h0M412 114h0M405 93h0M402 116h0M418 127h0M415 91h0M396 96h0M413 109h0M411 89h0M423 74h0M420 107h0M411 122h0M356 151h0M386 143h0M367 153h0M381 157h0M372 155h0M374 154h0M360 146h0M376 143h0M359 142h0M367 164h0M363 161h0M355 187h0M388 183h0M352 181h0M432 164h0M436 190h0M438 161h0M443 189h0M423 154h0M446 188h0M444 174h0M432 159h0M429 157h0M446 186h0M446 153h0M426 155h0M454 153h0M93 365h0M94 365h0M105 366h0M102 362h0M98 367h0M98 358h0M93 367h0M99 360h0M83 372h0M89 371h0M88 371h0M105 356h0M106 366h0M95 366h0M85 376h0M89 369h0M93 372h0M102 363h0M101 368h0M93 373h0M83 376h0M104 368h0M100 362h0M99 371h0M93 371h0M89 371h0M97 364h0M111 363h0M99 360h0M93 369h0M90 369h0M89 372h0M93 366h0M99 364h0M106 354h0M113 354h0M100 353h0M101 368h0M99 368h0M102 369h0M99 355h0M97 375h0M101 359h0M113 362h0M91 369h0M104 362h0M105 364h0M99 369h0M91 370h0M103 367h0M92 363h0M97 371h0M86 367h0M100 367h0M96 371h0M82 374h0M99 360h0M99 367h0M101 364h0M96 368h0M93 372h0M96 372h0M101 363h0M99 360h0M87 368h0M101 364h0M95 363h0M83 369h0M104 355h0M93 369h0M102 371h0M85 369h0M95 363h0M102 367h0M97 364h0M91 370h0M106 360h0M103 364h0M112 366h0M102 367h0M87 371h0M103 362h0M106 365h0M109 355h0M89 366h0M85 373h0M100 361h0M93 373h0M99 361h0M91 362h0M89 374h0M92 361h0M89 364h0M99 361h0M96 368h0M111 351h0M95 370h0M93 364h0M97 365h0M93 371h0M90 374h0M106 363h0M114 368h0M97 372h0M104 367h0M96 364h0M97 368h0M102 364h0M104 358h0M103 371h0M97 364h0M90 364h0M95 362h0M96 371h0M94 362h0M97 372h0M112 362h0M104 363h0M102 360h0M95 376h0M110 362h0M97 360h0M103 365h0M98 369h0M91 371h0M114 356h0M94 374h0M101 364h0M97 364h0M84 374h0M106 357h0M89 368h0M99 362h0M110 357h0M89 369h0M85 369h0M102 372h0M98 366h0M102 366h0M98 373h0M90 369h0M93 375h0M108 361h0M96 366h0M97 359h0M99 363h0M99 363h0M104 371h0M83 371h0M98 370h0M83 377h0M95 366h0M93 372h0M108 358h0M102 371h0M104 355h0M98 352h0M101 370h0M84 375h0M94 358h0M85 380h0M94 365h0M89 377h0M86 370h0M94 363h0M112 367h0M105 363h0M93 373h0M92 367h0M98 363h0M93 369h0M106 365h0M92 377h0M96 359h0M98 365h0M92 368h0M107 368h0M101 361h0M84 380h0M89 376h0M94 366h0M94 367h0M85 375h0M79 374h0M90 374h0M110 370h0M100 376h0M100 360h0M86 366h0M106 362h0M101 383h0M82 351h0M92 376h0M109 364h0M81 344h0M96 353h0M114 361h0M81 375h0M90 357h0M102 353h0M98 351h0M84 381h0M109 366h0M108 368h0M94 369h0M91 385h0M101 358h0M92 370h0M85 367h0M84 364h0M107 372h0M107 365h0M87 374h0M92 385h0M89 364h0M94 374h0M86 346h0M97 368h0M105 375h0M67 431h0M39 433h0M36 421h0M61 399h0M72 428h0M56 422h0M60 420h0M70 431h0M46 424h0M37 414h0M40 426h0M46 433h0M70 424h0M64 433h0M49 431h0M62 426h0M37 415h0M64 426h0M39 411h0M44 415h0M51 405h0M61 429h0M50 429h0M42 410h0M65 421h0M42 429h0M43 421h0M44 428h0M38 421h0M52 407h0M66 421h0M56 419h0M70 429h0M50 432h0M42 421h0M40 435h0M70 422h0M47 432h0M66 420h0M41 424h0M50 422h0M45 424h0M62 411h0M39 422h0M53 426h0M61 410h0M67 423h0M41 420h0M57 421h0M74 421h0M38 418h0M40 434h0M53 429h0M51 427h0M63 432h0M49 399h0M46 422h0M50 429h0M59 433h0M50 435h0M40 418h0M45 427h0M57 427h0M50 429h0M58 420h0M41 415h0M70 422h0M59 424h0M72 412h0M56 424h0M45 434h0M38 422h0M60 421h0M61 420h0M59 417h0M61 432h0M70 429h0M49 434h0M57 427h0M68 420h0M39 428h0M54 421h0M58 422h0M66 412h0M51 405h0M45 428h0M40 435h0M37 423h0M43 422h0M67 427h0M46 407h0M55 427h0M42 432h0M68 420h0M60 426h0M54 424h0M44 411h0M75 430h0M44 429h0M39 435h0M52 422h0M53 402h0M43 433h0M61 421h0M36 425h0M47 434h0M66 433h0M43 430h0M55 408h0M58 418h0M47 433h0M42 433h0M40 403h0M38 417h0M52 409h0M42 420h0M48 421h0M47 415h0M61 435h0M66 428h0M48 433h0M49 429h0M62 420h0M59 426h0M39 435h0M37 416h0M55 414h0M41 422h0M40 404h0M42 421h0M43 430h0M62 409h0M51 408h0M69 415h0M57 409h0M46 430h0M43 417h0M55 423h0M39 422h0M57 413h0M50 419h0M55 433h0M67 429h0M42 424h0M49 423h0M36 428h0M47 428h0M53 435h0M46 425h0M46 427h0M56 427h0M63 413h0M46 428h0M39 431h0M51 403h0M58 431h0M45 421h0M57 423h0M40 429h0M56 407h0M49 428h0M46 420h0M48 422h0M49 429h0M54 425h0M51 432h0M50 405h0M68 430h0M47 420h0M67 430h0M57 425h0M55 419h0M62 430h0M46 421h0M46 428h0M58 432h0M46 428h0M56 424h0M40 432h0M49 429h0M65 418h0M100 423h0M94 421h0M97 425h0M112 426h0M96 412h0M83 434h0M104 419h0M93 416h0M113 428h0M91 426h0M94 427h0M101 418h0M103 422h0M99 426h0M101 424h0M103 424h0M102 420h0M94 423h0M94 431h0M96 434h0M93 427h0M92 428h0M84 420h0M105 417h0M90 433h0M112 428h0M96 424h0M104 432h0M94 426h0M97 435h0M99 413h0M95 424h0M104 433h0M93 418h0M107 418h0M106 418h0M101 418h0M98 422h0M96 416h0M99 420h0M84 421h0M106 426h0M98 425h0M98 431h0M95 429h0M90 427h0M79 426h0M94 435h0M96 433h0M104 412h0M104 414h0M96 419h0M100 417h0M107 428h0M94 422h0M91 435h0M85 417h0M101 432h0M89 409h0M96 411h0M99 435h0M103 430h0M96 429h0M88 421h0M94 428h0M93 418h0M87 421h0M90 433h0M95 420h0M94 426h0M113 434h0M102 425h0M95 424h0M99 432h0M98 409h0M107 430h0M105 420h0M100 421h0M98 420h0M107 426h0M88 428h0M104 417h0M95 431h0M109 430h0M103 414h0M88 411h0M112 423h0M101 427h0M92 421h0M88 422h0M104 435h0M89 416h0M99 412h0M106 427h0M91 420h0M98 431h0M99 433h0M98 414h0M104 428h0M91 426h0M107 423h0M85 424h0M71 428h0M44 432h0M51 425h0M51 419h0M49 415h0M71 430h0M50 404h0M55 418h0M67 401h0M52 403h0M43 420h0M71 421h0M107 404h0M89 419h0M102 414h0M87 414h0M87 433h0M106 410h0M88 409h0M88 434h0M67 364h0M68 388h0M67 363h0"/><path stroke="#333" d="M103 181h0M89 182h0M96 180h0M109 178h0M94 181h0M95 181h0M98 181h0M92 186h0M101 180h0M121 182h0M111 184h0M132 175h0M110 180h0M121 179h0M113 178h0M129 181h0M113 176h0M113 178h0M94 185h0M96 181h0M103 182h0M105 180h0M118 182h0M95 181h0M97 180h0M122 179h0M110 179h0M99 184h0M86 185h0M126 175h0M133 174h0M106 182h0M124 176h0M120 177h0M84 182h0M100 183h0M101 175h0M136 178h0M110 181h0M121 180h0M124 174h0M124 177h0M110 181h0M91 182h0M83 176h0M98 184h0M90 185h0M118 180h0M102 182h0M116 178h0M100 183h0M127 180h0M97 181h0M142 172h0M103 179h0M128 179h0M142 174h0M134 175h0M121 178h0M121 178h0M98 184h0M95 182h0M97 184h0M120 179h0M112 183h0M133 176h0M86 178h0M134 176h0M98 183h0M124 177h0M122 178h0M101 183h0M95 182h0M139 174h0M117 180h0M110 179h0M115 185h0M84 181h0M86 185h0M111 178h0M92 180h0M123 175h0M86 183h0M110 179h0M99 182h0M103 184h0M116 178h0M107 180h0M129 176h0M130 179h0M87 182h0M130 178h0M122 181h0M105 183h0M114 175h0M99 180h0M116 175h0M114 181h0M105 183h0M85 184h0M84 179h0M108 183h0M124 180h0M115 183h0M108 179h0M131 176h0M96 179h0M121 178h0M126 179h0M103 181h0M122 180h0M104 186h0M103 182h0M143 175h0M121 179h0M89 187h0M107 177h0M101 186h0M102 183h0M100 177h0M87 181h0M131 172h0M119 183h0M89 185h0M89 187h0M99 183h0M106 181h0M97 182h0M86 185h0M125 178h0M139 175h0M139 176h0M83 182h0M84 180h0M89 183h0M115 177h0M101 186h0M98 181h0M84 187h0M95 180h0M108 180h0M90 182h0M121 177h0M85 184h0M105 174h0M130 180h0M91 187h0M90 183h0M101 180h0M107 183h0M111 180h0M118 183h0M121 176h0M128 176h0M105 181h0M87 180h0M110 183h0M109 181h0M94 178h0M85 186h0M113 176h0M92 182h0M89 183h0M144 171h0M97 179h0M101 185h0M93 184h0M102 184h0M125 179h0M101 181h0M96 183h0M110 180h0M86 183h0M93 180h0M84 180h0M101 182h0M116 179h0M98 181h0M115 178h0M113 179h0M85 185h0M99 184h0M117 176h0M115 180h0M109 177h0M93 180h0M117 184h0M98 186h0M142 172h0M111 178h0M98 179h0M87 181h0M129 175h0M127 175h0M96 182h0M119 178h0M119 177h0M135 177h0M98 185h0M88 182h0M96 185h0M116 176h0M119 178h0M123 174h0M116 179h0M118 184h0M96 183h0M119 174h0M83 183h0M117 180h0M122 171h0M126 178h0M98 182h0M121 177h0M120 180h0M94 186h0M101 184h0M99 185h0M140 178h0M130 181h0M110 180h0M130 177h0M86 184h0M88 182h0M92 181h0M116 182h0M102 180h0M96 185h0M84 182h0M120 181h0M111 183h0M109 180h0M109 186h0M91 178h0M104 184h0M104 181h0M112 181h0M88 180h0M93 184h0M138 177h0M120 177h0M88 184h0M85 182h0M122 179h0M91 187h0M112 178h0M120 181h0M102 178h0M98 184h0M98 185h0M104 178h0M105 183h0M102 185h0M91 182h0M105 180h0M133 174h0M114 181h0M92 187h0M122 181h0M85 182h0M123 179h0M105 186h0M133 175h0M100 184h0M86 179h0M86 181h0M137 180h0M93 181h0M122 179h0M119 179h0M91 181h0M107 180h0M97 182h0M87 180h0M97 183h0M85 182h0M123 172h0M121 181h0M95 182h0M109 178h0M118 178h0M134 178h0M107 183h0M84 181h0M111 176h0M93 187h0M121 176h0M83 183h0M117 176h0M121 178h0M96 183h0M96 187h0M131 177h0M111 178h0M93 181h0M93 183h0M124 183h0M127 182h0M110 185h0M123 178h0M123 176h0M107 178h0M94 181h0M135 179h0M106 180h0M87 185h0M90 182h0M87 181h0M84 183h0M126 175h0M124 179h0M105 183h0M114 181h0M85 179h0M93 180h0M118 174h0M116 181h0M124 180h0M107 175h0M107 178h0M106 175h0M99 178h0M86 180h0M114 176h0M86 182h0M133 174h0M91 180h0M90 183h0M113 183h0M111 183h0M106 180h0M118 178h0M129 180h0M108 177h0M111 185h0M101 185h0M133 171h0M102 184h0M130 182h0M137 173h0M102 179h0M112 183h0M105 174h0M96 178h0M118 184h0M110 180h0M101 182h0M106 177h0M103 176h0M128 174h0M94 178h0M114 182h0M89 180h0M96 181h0M112 183h0M95 180h0M101 184h0M108 179h0M112 181h0M83 182h0M93 180h0M92 185h0M110 182h0M99 180h0M92 184h0M90 183h0M85 181h0M107 184h0M86 186h0M107 182h0M104 186h0M115 178h0M107 186h0M104 180h0M103 181h0M92 177h0M121 180h0M87 183h0M109 179h0M130 178h0M112 178h0M137 173h0M113 181h0M117 178h0M95 180h0M98 182h0M87 183h0M143 171h0M84 188h0M122 181h0M99 183h0M114 177h0M87 182h0M104 181h0M89 185h0M93 175h0M126 179h0M98 181h0M83 182h0M103 186h0M124 178h0M115 178h0M110 181h0M90 180h0M90 180h0M95 183h0M106 179h0M127 180h0M97 184h0M138 172h0M124 177h0M124 179h0M114 179h0M105 181h0M118 179h0M106 178h0M108 182h0M126 177h0M101 178h0M113 182h0M95 184h0M123 178h0M84 183h0M113 182h0M114 177h0M101 181h0M97 185h0M110 183h0M127 177h0M110 180h0M130 177h0M106 182h0M135 175h0M89 181h0M100 181h0M115 182h0M114 182h0M121 182h0M84 183h0M124 174h0M107 178h0M95 186h0M94 186h0M107 178h0M96 182h0M91 186h0M89 185h0M122 182h0M125 175h0M106 179h0M94 183h0M111 186h0M122 181h0M117 179h0M112 177h0M119 179h0M86 180h0M98 183h0M102 180h0M111 176h0M96 184h0M91 188h0M95 183h0M99 184h0M123 174h0M134 175h0M113 184h0M114 184h0M106 175h0M90 183h0M90 183h0M128 174h0M110 183h0M107 183h0M130 175h0M84 186h0M106 178h0M88 179h0M117 177h0M103 181h0M110 179h0M84 183h0M118 181h0M99 183h0M92 183h0M106 182h0M106 183h0M138 172h0M106 178h0M122 180h0M90 181h0M84 181h0M120 180h0M128 177h0M88 181h0M125 184h0M88 182h0M86 180h0M96 182h0M110 182h0M88 181h0M113 181h0M137 171h0M96 184h0M90 181h0M119 182h0M122 179h0M108 182h0M139 172h0M136 169h0M124 182h0M128 179h0M121 176h0M91 183h0M115 182h0M131 179h0M86 185h0M137 175h0M88 186h0M115 179h0M137 175h0M115 181h0M85 183h0M93 184h0M106 184h0M106 178h0M143 171h0M106 181h0M119 178h0M101 177h0M107 184h0M108 183h0M103 181h0M94 182h0M112 180h0M116 180h0M88 182h0M119 179h0M116 178h0M131 180h0M110 179h0M138 178h0M95 177h0M93 181h0M114 184h0M95 183h0M105 183h0M135 175h0M129 177h0M92 182h0M127 173h0M116 181h0M84 185h0M126 179h0M89 179h0M91 182h0M113 177h0M123 176h0M132 177h0M93 183h0M96 183h0M103 180h0M124 175h0M91 180h0M90 181h0M109 178h0M109 184h0M130 172h0M108 178h0M133 182h0M97 184h0M104 184h0M108 181h0M120 176h0M93 184h0M86 185h0M134 173h0M126 180h0M121 178h0M105 179h0M139 173h0M110 181h0M84 182h0M99 177h0M87 187h0M125 175h0M96 186h0M113 181h0M120 183h0M131 180h0M83 185h0M114 178h0M86 180h0M126 176h0M112 185h0M124 177h0M110 184h0M100 188h0M97 180h0M126 180h0M128 177h0M102 182h0M103 179h0M123 179h0M95 185h0M117 181h0M103 182h0M124 180h0M86 187h0M90 182h0M136 173h0M95 180h0M94 184h0M116 179h0M113 179h0M118 181h0M101 180h0M110 176h0M137 174h0M87 181h0M105 178h0M118 186h0M101 177h0M120 179h0M127 176h0M125 181h0M104 179h0M98 182h0M94 183h0M140 176h0M97 184h0M102 177h0M87 182h0M118 182h0M100 180h0M135 173h0M87 184h0M113 181h0M130 176h0M138 175h0M115 181h0M106 184h0M84 182h0M99 183h0M125 176h0M91 187h0M124 178h0M132 174h0M119 176h0M130 174h0M90 180h0M121 176h0M91 186h0M115 182h0M86 182h0M113 183h0M115 176h0M96 178h0M129 176h0M114 180h0M135 173h0M117 179h0M133 177h0M120 181h0M123 183h0M105 181h0M85 183h0M93 185h0M108 180h0M108 181h0M109 181h0M122 178h0M92 184h0M95 185h0M131 174h0M99 182h0M129 176h0M89 186h0M85 180h0M122 182h0M118 178h0M124 183h0M140 172h0M133 176h0M109 180h0M144 177h0M109 178h0M99 179h0M121 180h0M128 179h0M116 183h0M84 186h0M116 176h0M134 179h0M130 174h0M128 181h0M107 181h0M92 179h0M123 179h0M130 182h0M132 170h0M109 185h0M134 174h0M133 172h0M119 175h0M130 171h0M109 184h0M133 174h0M130 171h0M103 181h0M85 179h0M121 183h0M132 174h0M86 180h0M119 176h0M88 187h0M98 184h0M116 175h0M118 179h0M104 180h0M133 175h0M87 186h0M88 183h0M124 177h0M117 177h0M103 180h0M136 174h0M114 176h0M88 184h0M126 185h0M101 177h0M128 178h0M116 179h0M121 174h0M92 177h0M114 188h0M107 184h0M86 180h0M99 178h0M109 181h0M88 181h0M113 182h0M106 184h0M100 178h0M112 177h0M130 179h0M85 185h0M137 175h0M133 175h0M103 183h0M108 179h0M132 174h0M112 181h0M83 180h0M89 177h0M110 180h0M93 174h0M103 181h0M103 180h0M85 185h0M137 174h0M95 183h0M130 177h0M88 184h0M110 176h0M86 184h0M85 184h0M103 176h0M100 181h0M115 178h0M104 177h0M107 183h0M118 178h0M129 176h0M97 179h0M130 173h0M84 180h0M108 179h0M105 180h0M120 183h0M96 180h0M136 177h0M92 182h0M106 183h0M86 185h0M129 177h0M123 177h0M104 181h0M112 182h0M123 178h0M94 182h0M105 182h0M127 179h0M120 176h0M84 182h0M109 178h0M95 182h0M87 180h0M130 178h0M123 180h0M106 183h0M86 184h0M139 176h0M103 178h0M117 178h0M130 176h0M83 183h0M103 188h0M131 178h0M118 176h0M126 178h0M125 178h0M107 180h0M89 182h0M109 183h0M120 182h0M134 175h0M110 179h0M116 178h0M112 177h0M142 175h0M91 181h0M87 184h0M101 182h0M131 175h0M98 186h0M97 182h0M103 178h0M123 180h0M126 179h0M84 186h0M114 179h0M125 175h0M90 185h0M121 176h0M106 180h0M117 182h0M84 182h0M84 176h0M121 177h0M137 180h0M128 180h0M107 178h0M111 178h0M89 181h0M93 182h0M125 177h0M101 186h0M98 181h0M95 183h0M92 184h0M120 179h0M104 180h0M94 178h0M89 184h0M133 175h0M114 184h0M114 179h0M118 178h0M117 180h0M87 181h0M83 184h0M100 181h0M106 178h0M104 179h0M104 181h0M117 187h0M119 176h0M97 184h0M118 181h0M101 183h0M135 173h0M84 182h0M113 179h0M98 179h0M92 182h0M98 181h0M131 176h0M142 175h0M124 179h0M93 183h0M83 185h0M107 184h0M92 182h0M134 177h0M112 178h0M89 185h0M107 184h0M117 175h0M95 181h0M99 180h0M98 183h0M127 178h0M105 175h0M111 180h0M110 179h0M125 175h0M98 182h0M111 179h0M107 185h0M141 171h0M118 176h0M95 182h0M117 183h0M117 176h0M85 181h0M93 181h0M84 183h0M116 182h0M133 180h0M122 181h0M97 186h0M112 177h0M115 178h0M103 181h0M125 176h0M120 177h0M131 176h0M92 176h0M103 185h0M101 179h0M107 182h0M95 184h0M118 180h0M97 182h0M112 176h0M92 185h0M104 177h0M120 178h0M103 185h0M116 181h0M85 184h0M101 188h0M84 181h0M117 184h0M126 178h0M89 183h0M124 175h0M97 178h0M86 180h0M121 176h0M131 175h0M91 181h0M113 179h0M93 184h0M91 180h0M89 182h0M94 182h0M98 184h0M125 182h0M83 184h0M122 181h0M94 184h0M111 178h0M84 182h0M128 182h0M88 184h0M88 183h0M131 178h0M114 182h0M124 180h0M117 178h0M138 174h0M95 185h0M92 186h0M94 182h0M129 175h0M89 182h0M115 175h0M103 184h0M106 181h0M124 175h0M86 188h0M88 182h0M121 177h0M91 182h0M105 185h0M93 178h0M115 177h0M97 181h0M89 183h0M114 182h0M101 181h0M128 180h0M111 159h0M95 176h0M136 163h0M123 168h0M104 175h0M112 168h0M115 170h0M94 168h0M119 170h0M99 168h0M115 172h0M126 162h0M130 163h0M94 171h0M99 175h0M136 169h0M126 144h0M91 176h0M123 170h0M123 172h0M130 163h0M139 162h0M114 162h0M131 163h0M138 165h0M115 145h0M87 173h0M90 174h0M149 162h0M119 167h0M87 176h0M129 166h0M151 155h0M130 154h0M114 170h0M118 170h0M83 177h0M110 156h0M138 167h0M112 162h0M87 176h0M147 165h0M146 159h0M98 164h0M97 174h0M135 154h0M110 174h0M127 170h0M133 148h0M121 171h0M134 167h0M120 166h0M148 165h0M104 174h0M106 175h0M84 173h0M108 175h0M107 170h0M105 171h0M142 148h0M126 157h0M109 161h0M91 176h0M85 177h0M137 168h0M110 161h0M143 165h0M134 169h0M89 174h0M145 153h0M147 169h0M185 168h0M161 174h0M149 171h0M180 172h0M156 179h0M168 173h0M153 173h0M194 164h0M147 178h0M159 165h0M172 174h0M178 165h0M189 172h0M171 176h0M162 173h0M157 170h0M171 170h0M142 177h0M188 157h0M166 176h0M157 169h0M147 172h0M163 172h0M176 166h0M145 169h0M161 165h0M173 174h0M155 169h0M153 168h0M153 171h0M168 174h0M193 162h0M129 131h0M117 115h0M117 119h0M118 112h0M112 116h0M115 130h0M119 132h0M129 131h0M114 126h0M121 125h0M123 126h0M115 141h0M122 136h0M123 152h0M115 133h0M118 120h0M102 120h0M112 134h0M125 120h0M114 135h0M118 131h0M117 117h0M122 109h0M124 127h0M114 122h0M127 162h0M124 99h0M112 112h0M119 151h0M112 165h0M130 111h0M117 137h0M123 123h0M127 145h0M110 123h0M114 129h0M122 96h0M134 109h0M131 103h0M126 122h0M122 129h0M119 124h0M107 156h0M115 105h0M123 112h0M115 131h0M129 123h0M118 120h0M121 122h0M117 164h0M119 88h0M137 153h0M114 103h0M121 117h0M120 121h0M120 111h0M115 147h0M111 120h0M131 124h0M123 128h0M119 117h0M115 121h0M105 104h0M130 127h0M120 116h0M135 159h0M111 97h0M126 110h0M132 149h0M117 135h0M134 135h0M100 125h0M114 155h0M123 140h0M99 110h0M111 147h0M100 138h0M126 154h0M126 132h0M114 141h0M106 120h0M132 141h0M120 131h0M137 115h0M108 145h0M100 154h0M122 134h0M114 120h0M117 136h0M138 145h0M109 137h0M359 108h0M373 103h0M353 113h0M364 88h0M383 98h0M349 102h0M360 107h0M360 97h0M365 104h0M349 102h0M359 95h0M374 108h0M347 115h0M365 104h0M378 111h0M362 98h0M372 112h0M350 103h0M348 100h0M361 109h0M370 122h0M355 111h0M359 119h0M382 110h0M373 104h0M367 95h0M366 107h0M377 103h0M355 110h0M359 94h0M372 122h0M356 101h0M378 90h0M358 122h0M364 113h0M362 95h0M349 95h0M367 100h0M356 99h0M368 117h0M388 124h0M352 114h0M385 97h0M349 103h0M347 108h0M365 119h0M382 97h0M364 112h0M359 112h0M362 107h0M346 98h0M349 98h0M376 114h0M347 106h0M362 108h0M358 90h0M346 103h0M365 108h0M367 102h0M360 92h0M390 92h0M364 100h0M389 96h0M385 104h0M364 94h0M361 108h0M359 105h0M386 100h0M375 87h0M348 95h0M366 79h0M356 109h0M371 118h0M354 111h0M369 96h0M373 109h0M373 103h0M377 115h0M348 107h0M369 107h0M360 90h0M362 96h0M388 93h0M356 114h0M349 106h0M354 103h0M360 98h0M367 102h0M384 116h0M381 100h0M369 115h0M391 99h0M356 118h0M368 115h0M380 124h0M360 90h0M355 106h0M376 117h0M386 114h0M385 101h0M386 112h0M380 107h0M369 115h0M370 97h0M366 94h0M386 106h0M384 118h0M359 100h0M366 102h0M359 98h0M349 117h0M374 91h0M377 96h0M389 103h0M351 100h0M385 91h0M377 104h0M373 97h0M354 108h0M369 103h0M383 96h0M370 103h0M364 94h0M364 111h0M357 114h0M367 99h0M369 105h0M355 99h0M357 106h0M383 104h0M362 110h0M361 98h0M362 120h0M375 101h0M357 103h0M387 116h0M360 120h0M358 115h0M371 101h0M376 117h0M373 111h0M374 98h0M379 99h0M360 104h0M356 99h0M367 121h0M371 106h0M365 108h0M353 114h0M368 84h0M353 100h0M368 116h0M377 122h0M356 89h0M373 107h0M354 95h0M378 100h0M369 118h0M384 96h0M389 96h0M381 99h0M366 110h0M374 119h0M366 98h0M390 108h0M382 99h0M347 112h0M378 91h0M365 107h0M363 100h0M367 117h0M377 111h0M373 101h0M360 114h0M377 97h0M379 104h0M361 106h0M360 95h0M380 118h0M371 95h0M362 113h0M379 110h0M388 103h0M363 92h0M376 99h0M362 128h0M376 111h0M363 99h0M369 107h0M369 106h0M348 100h0M351 117h0M380 110h0M357 99h0M351 97h0M381 99h0M374 100h0M382 114h0M379 112h0M367 96h0M372 89h0M359 102h0M369 93h0M372 98h0M348 108h0M367 98h0M372 106h0M361 117h0M370 94h0M386 101h0M358 102h0M387 107h0M376 107h0M379 104h0M358 112h0M375 91h0M375 109h0M354 119h0M359 104h0M351 103h0M373 106h0M375 91h0M368 103h0M367 106h0M360 101h0M369 108h0M378 108h0M363 103h0M382 123h0M369 101h0M377 108h0M367 106h0M355 98h0M384 106h0M364 107h0M372 95h0M363 104h0M353 103h0M369 108h0M364 104h0M363 112h0M372 115h0M361 98h0M384 101h0M384 102h0M363 94h0M378 117h0M367 107h0M362 97h0M376 123h0M373 107h0M382 110h0M347 123h0M378 124h0M350 107h0M371 98h0M385 95h0M370 96h0M373 85h0M371 105h0M377 125h0M371 91h0M360 114h0M353 94h0M358 93h0M348 108h0M366 90h0M368 96h0M366 74h0M363 114h0M374 106h0M354 104h0M363 84h0M370 89h0M365 104h0M346 109h0M363 102h0M382 113h0M391 111h0M350 80h0M357 100h0M382 117h0M378 117h0M367 97h0M363 103h0M351 117h0M364 113h0M371 116h0M380 112h0M354 119h0M363 92h0M363 89h0M364 89h0M376 103h0M368 98h0M362 112h0M376 104h0M381 103h0M370 93h0M379 84h0M385 111h0M370 99h0M385 86h0M358 112h0M379 109h0M366 105h0M359 106h0M388 90h0M362 118h0M385 94h0M378 98h0M365 96h0M372 109h0M353 98h0M359 122h0M360 106h0M350 100h0M362 97h0M360 114h0M381 94h0M358 97h0M356 107h0M369 119h0M362 102h0M347 93h0M380 111h0M356 122h0M380 78h0M363 103h0M364 105h0M386 109h0M382 95h0M356 95h0M367 98h0M364 102h0M370 75h0M361 101h0M356 112h0M357 123h0M353 114h0M356 114h0M378 115h0M372 119h0M365 122h0M351 114h0M375 92h0M377 115h0M366 98h0M372 105h0M378 103h0M366 119h0M365 115h0M369 109h0M357 116h0M356 94h0M384 114h0M375 104h0M355 92h0M373 113h0M362 111h0M384 96h0M385 105h0M358 100h0M361 114h0M364 99h0M355 101h0M366 105h0M368 120h0M381 104h0M369 103h0M371 104h0M374 105h0M372 126h0M375 116h0M364 110h0M360 103h0M363 88h0M361 100h0M348 110h0M355 120h0M364 107h0M357 112h0M368 130h0M355 93h0M363 109h0M356 111h0M365 92h0M368 112h0M378 91h0M358 97h0M356 101h0M367 100h0M360 98h0M371 108h0M390 109h0M357 122h0M356 111h0M358 100h0M372 109h0M377 108h0M374 111h0M367 110h0M386 102h0M381 105h0M364 118h0M382 114h0M383 94h0M378 84h0M370 110h0M358 90h0M384 102h0M346 98h0M360 98h0M367 95h0M362 94h0M366 95h0M368 105h0M347 105h0M384 92h0M346 109h0M365 98h0M365 93h0M373 101h0M351 104h0M372 103h0M351 110h0M385 122h0M372 111h0M363 125h0M379 115h0M355 102h0M352 114h0M359 101h0M373 92h0M369 90h0M377 124h0M360 98h0M358 102h0M355 103h0M386 99h0M372 101h0M378 111h0M354 85h0M379 124h0M391 108h0M368 115h0M366 118h0M381 125h0M369 91h0M349 89h0M376 106h0M374 107h0M354 97h0M361 88h0M387 104h0M361 97h0M369 94h0M384 110h0M366 104h0M367 124h0M385 99h0M375 93h0M367 109h0M362 121h0M380 97h0M352 99h0M361 107h0M348 94h0M367 103h0M369 107h0M388 111h0M388 102h0M355 110h0M349 91h0M366 88h0M359 101h0M358 109h0M352 113h0M354 111h0M363 125h0M350 88h0M389 116h0M364 99h0M362 104h0M363 112h0M352 96h0M361 110h0M389 103h0M362 95h0M370 114h0M369 109h0M356 97h0M380 94h0M347 111h0M361 94h0M358 108h0M350 99h0M361 93h0M390 114h0M356 85h0M364 106h0M361 98h0M359 104h0M361 102h0M366 111h0M360 97h0M375 104h0M388 101h0M353 115h0M368 129h0M359 106h0M365 92h0M375 99h0M359 115h0M364 104h0M359 88h0M354 87h0M363 100h0M376 104h0M351 97h0M361 107h0M383 106h0M369 119h0M367 90h0M354 95h0M380 120h0M389 104h0M402 172h0M411 174h0M405 163h0M414 181h0M415 170h0M409 179h0M403 188h0M425 187h0M416 165h0M402 185h0M411 186h0M398 189h0M420 190h0M396 181h0M409 187h0M408 172h0M408 180h0M418 172h0M402 169h0M404 170h0M400 181h0M407 181h0M406 177h0M418 154h0M395 172h0M404 170h0M411 182h0M415 181h0M404 187h0M409 163h0M407 156h0M411 165h0M411 180h0M404 188h0M407 187h0M405 169h0M411 188h0M420 179h0M396 170h0M414 174h0M400 189h0M417 163h0M407 186h0M415 175h0M403 163h0M402 184h0M409 166h0M410 174h0M406 168h0M415 183h0M417 185h0M417 167h0M399 178h0M413 162h0M413 176h0M409 181h0M406 153h0M408 166h0M404 151h0M411 186h0M412 181h0M406 169h0M416 176h0M406 175h0M406 165h0M411 148h0M411 168h0M409 175h0M402 184h0M403 160h0M406 184h0M403 164h0M398 163h0M408 188h0M411 184h0M404 168h0M405 172h0M398 181h0M405 183h0M401 189h0M413 175h0M401 186h0M407 187h0M412 183h0M424 170h0M420 159h0M409 184h0M408 165h0M401 177h0M418 170h0M412 176h0M408 164h0M402 182h0M404 157h0M407 175h0M415 185h0M406 171h0M408 163h0M402 182h0M405 162h0M415 166h0M402 177h0M411 162h0M412 185h0M414 171h0M408 177h0M403 182h0M407 160h0M397 177h0M416 172h0M400 188h0M407 176h0M410 178h0M402 184h0M419 189h0M409 169h0M410 178h0M413 180h0M406 181h0M415 168h0M410 190h0M404 171h0M401 171h0M402 162h0M404 190h0M400 167h0M426 179h0M405 163h0M404 177h0M408 166h0M400 186h0M409 187h0M410 185h0M404 180h0M410 174h0M409 148h0M404 180h0M409 170h0M416 145h0M408 176h0M412 175h0M405 179h0M411 167h0M406 149h0M415 188h0M412 151h0M405 167h0M406 178h0M415 182h0M411 182h0M406 179h0M403 165h0M420 179h0M415 172h0M402 189h0M403 174h0M410 171h0M414 171h0M404 160h0M407 181h0M403 187h0M407 168h0M408 187h0M412 154h0M399 185h0M402 160h0M416 182h0M412 173h0M410 176h0M404 171h0M412 172h0M407 177h0M410 183h0M411 180h0M411 171h0M409 175h0M407 187h0M403 177h0M408 161h0M414 178h0M409 182h0M417 179h0M410 189h0M398 174h0M412 186h0M411 170h0M412 185h0M415 186h0M395 175h0M409 186h0M412 154h0M417 181h0M416 178h0M405 176h0M416 177h0M410 150h0M411 154h0M394 165h0M402 176h0M400 167h0M410 178h0M414 173h0M407 167h0M400 190h0M417 158h0M407 183h0M406 180h0M412 189h0M408 169h0M415 176h0M403 171h0M408 160h0M421 190h0M414 172h0M402 174h0M408 153h0M415 170h0M402 163h0M402 190h0M405 190h0M414 187h0M406 162h0M410 174h0M415 182h0M405 173h0M401 159h0M411 188h0M415 188h0M415 180h0M412 171h0M414 185h0M423 158h0M414 175h0M417 178h0M411 168h0M402 173h0M416 169h0M411 161h0M402 163h0M410 167h0M412 181h0M412 185h0M412 179h0M411 165h0M411 170h0M419 176h0M408 189h0M399 167h0M415 171h0M411 187h0M408 160h0M416 176h0M403 184h0M405 162h0M403 173h0M399 183h0M412 175h0M408 189h0M412 174h0M399 182h0M404 170h0M414 162h0M411 185h0M416 189h0M414 170h0M399 166h0M412 173h0M410 168h0M408 162h0M411 172h0M407 184h0M403 188h0M402 182h0M407 174h0M402 180h0M408 173h0M408 159h0M404 181h0M400 185h0M420 158h0M408 175h0M407 181h0M406 182h0M413 177h0M412 149h0M413 181h0M414 187h0M404 167h0M416 187h0M414 182h0M402 179h0M399 183h0M407 171h0M399 172h0M397 177h0M401 186h0M421 176h0M416 187h0M403 184h0M411 177h0M410 186h0M418 183h0M407 186h0M420 185h0M406 155h0M396 159h0M398 180h0M400 175h0M422 184h0M396 183h0M409 181h0M411 180h0M416 182h0M407 185h0M400 172h0M402 184h0M413 166h0M409 182h0M399 163h0M406 181h0M406 163h0M399 156h0M400 173h0M412 161h0M408 177h0M401 189h0M408 148h0M399 188h0M404 186h0M397 176h0M410 178h0M407 183h0M404 176h0M411 161h0M414 161h0M411 153h0M409 144h0M415 178h0M416 154h0M427 175h0M426 180h0M403 185h0M403 167h0M411 166h0M414 189h0M402 152h0M398 157h0M419 189h0M418 159h0M402 171h0M407 171h0M410 183h0M415 173h0M395 169h0M415 185h0M409 169h0M414 173h0M407 171h0M412 151h0M402 149h0M410 153h0M428 163h0M415 164h0M413 168h0M410 167h0M412 168h0M411 161h0M399 109h0M401 84h0M413 117h0M413 117h0M404 105h0M406 86h0M398 126h0M400 81h0M426 125h0M411 87h0M406 112h0M399 98h0M419 91h0M422 105h0M410 109h0M360 148h0M364 156h0M367 142h0M360 149h0M368 144h0M380 145h0M97 369h0M100 356h0M103 365h0M94 364h0M95 375h0M95 366h0M92 368h0M106 353h0M100 365h0M97 357h0M88 369h0M92 373h0M92 364h0M101 358h0M100 363h0M102 357h0M110 362h0M92 365h0M103 363h0M93 359h0M91 370h0M111 353h0M98 363h0M100 373h0M91 372h0M90 368h0M98 364h0M89 367h0M110 361h0M98 361h0M84 367h0M93 363h0M105 368h0M91 364h0M80 368h0M93 363h0M96 364h0M106 356h0M98 368h0M93 361h0M100 359h0M94 375h0M101 367h0M88 374h0M108 352h0M96 358h0M99 364h0M97 358h0M110 354h0M111 357h0M93 376h0M100 369h0M108 360h0M88 374h0M85 371h0M97 359h0M97 369h0M102 365h0M101 363h0M93 372h0M99 376h0M92 369h0M95 369h0M86 373h0M89 374h0M92 372h0M112 352h0M100 355h0M105 358h0M103 364h0M95 365h0M92 363h0M93 371h0M95 361h0M91 364h0M101 368h0M94 371h0M100 365h0M94 364h0M95 370h0M97 360h0M89 372h0M94 371h0M95 366h0M84 376h0M104 363h0M93 374h0M100 364h0M98 361h0M101 359h0M102 360h0M88 369h0M90 381h0M99 364h0M83 377h0M91 367h0M114 360h0M103 364h0M93 368h0M100 363h0M93 373h0M105 361h0M84 364h0M104 364h0M91 369h0M102 364h0M100 366h0M94 364h0M93 365h0M110 367h0M111 363h0M98 363h0M98 373h0M110 358h0M91 367h0M95 365h0M85 374h0M91 372h0M92 370h0M107 359h0M93 363h0M99 369h0M97 370h0M95 377h0M98 365h0M103 358h0M84 373h0M105 362h0M88 366h0M91 372h0M93 369h0M99 371h0M104 367h0M92 375h0M104 363h0M89 378h0M102 356h0M93 361h0M100 363h0M99 364h0M102 362h0M99 359h0M102 362h0M96 371h0M94 375h0M90 375h0M95 359h0M92 369h0M94 373h0M93 368h0M94 362h0M99 371h0M100 373h0M92 365h0M81 372h0M94 370h0M102 369h0M93 369h0M101 370h0M90 371h0M93 365h0M85 371h0M101 365h0M97 371h0M106 365h0M88 365h0M100 370h0M96 365h0M105 363h0M107 360h0M94 363h0M95 366h0M104 353h0M100 370h0M120 348h0M104 362h0M94 374h0M88 370h0M96 373h0M87 370h0M85 375h0M92 369h0M103 368h0M101 365h0M90 367h0M97 362h0M91 372h0M94 368h0M98 357h0M101 360h0M96 372h0M83 372h0M102 367h0M90 372h0M104 376h0M101 370h0M103 361h0M98 361h0M88 379h0M87 371h0M94 359h0M91 372h0M109 361h0M107 355h0M97 363h0M93 369h0M100 362h0M92 370h0M95 371h0M93 368h0M94 365h0M96 371h0M98 365h0M84 379h0M89 373h0M90 374h0M96 371h0M99 363h0M109 363h0M94 370h0M101 368h0M101 359h0M110 354h0M96 367h0M97 372h0M97 367h0M90 369h0M89 373h0M101 364h0M106 359h0M102 362h0M89 373h0M106 354h0M91 376h0M99 375h0M100 365h0M94 366h0M106 369h0M105 359h0M117 352h0M104 358h0M95 367h0M91 364h0M104 363h0M99 367h0M95 362h0M95 369h0M100 376h0M98 366h0M101 362h0M100 361h0M91 366h0M99 364h0M99 370h0M102 363h0M99 370h0M104 356h0M95 361h0M92 372h0M101 365h0M94 367h0M92 366h0M101 368h0M84 370h0M99 361h0M100 362h0M97 370h0M90 375h0M93 370h0M101 367h0M102 365h0M93 360h0M99 371h0M98 363h0M94 371h0M106 357h0M95 367h0M95 372h0M100 374h0M99 368h0M91 365h0M88 369h0M100 368h0M98 372h0M95 365h0M86 374h0M89 365h0M101 372h0M105 353h0M91 372h0M94 369h0M104 357h0M95 371h0M92 367h0M90 367h0M113 360h0M94 359h0M96 366h0M96 367h0M98 365h0M102 363h0M100 365h0M93 370h0M101 360h0M113 368h0M103 368h0M106 362h0M96 357h0M86 373h0M86 380h0M100 367h0M97 366h0M95 369h0M99 370h0M107 364h0M101 364h0M97 365h0M85 369h0M99 374h0M99 367h0M97 366h0M100 382h0M97 369h0M97 372h0M92 368h0M102 368h0M97 365h0M101 358h0M92 366h0M110 357h0M100 358h0M99 364h0M104 361h0M95 366h0M101 365h0M88 365h0M96 365h0M96 362h0M82 374h0M89 367h0M83 372h0M94 364h0M99 358h0M98 362h0M94 367h0M92 366h0M90 373h0M102 365h0M107 358h0M99 363h0M103 360h0M84 369h0M97 369h0M93 363h0M92 375h0M109 361h0M106 363h0M109 360h0M87 371h0M100 355h0M99 372h0M109 363h0M98 370h0M98 368h0M100 366h0M112 352h0M90 375h0M93 375h0M96 371h0M104 361h0M111 358h0M93 371h0M102 362h0M108 358h0M97 364h0M104 364h0M87 374h0M102 355h0M103 357h0M98 364h0M96 369h0M80 373h0M99 359h0M101 361h0M83 376h0M85 369h0M93 377h0M97 361h0M101 375h0M84 369h0M88 364h0M125 379h0M88 368h0M79 352h0M88 382h0M98 372h0M89 358h0M100 365h0M99 375h0M106 360h0M84 376h0M103 363h0M88 369h0M103 364h0M98 364h0M100 346h0M93 369h0M97 372h0M100 367h0M101 359h0M84 389h0M113 375h0M107 365h0M89 348h0M92 354h0M103 374h0M98 368h0M92 359h0M105 356h0M81 366h0M114 362h0M96 375h0M88 376h0M79 375h0M41 422h0M46 422h0M45 422h0M49 417h0M55 435h0M57 408h0M59 428h0M68 429h0M56 430h0M45 432h0M39 425h0M39 434h0M51 422h0M71 429h0M44 428h0M57 423h0M36 409h0M43 421h0M42 415h0M43 426h0M39 428h0M66 426h0M49 434h0M74 416h0M57 421h0M51 428h0M57 409h0M54 431h0M50 413h0M57 426h0M50 426h0M47 431h0M45 413h0M55 410h0M51 432h0M58 427h0M46 422h0M55 432h0M43 425h0M51 422h0M37 411h0M47 430h0M55 426h0M44 428h0M38 435h0M64 424h0M58 417h0M36 407h0M45 426h0M50 423h0M40 417h0M53 419h0M58 422h0M46 422h0M45 420h0M62 417h0M59 418h0M68 416h0M66 423h0M57 433h0M61 414h0M52 409h0M47 430h0M65 430h0M65 434h0M40 424h0M41 414h0M54 429h0M63 429h0M56 417h0M39 421h0M59 426h0M59 429h0M58 413h0M59 429h0M72 422h0M55 413h0M39 407h0M40 428h0M43 433h0M42 423h0M52 429h0M48 433h0M48 403h0M51 434h0M56 421h0M37 407h0M51 426h0M39 433h0M67 419h0M69 411h0M54 430h0M43 420h0M45 427h0M73 424h0M36 410h0M45 416h0M48 426h0M50 418h0M44 420h0M51 424h0M55 398h0M51 421h0M37 414h0M74 433h0M43 418h0M47 426h0M44 423h0M69 421h0M56 417h0M52 418h0M70 425h0M43 429h0M50 424h0M67 421h0M67 432h0M57 432h0M59 418h0M55 418h0M44 424h0M47 423h0M62 418h0M39 431h0M66 431h0M63 412h0M52 433h0M53 428h0M49 433h0M56 421h0M40 415h0M50 432h0M38 405h0M37 430h0M46 426h0M38 422h0M45 421h0M57 430h0M50 425h0M37 434h0M48 409h0M43 415h0M57 431h0M52 409h0M49 423h0M64 414h0M52 423h0M43 402h0M42 428h0M49 426h0M59 414h0M42 432h0M51 435h0M66 409h0M59 425h0M56 435h0M57 427h0M67 424h0M42 411h0M54 396h0M58 418h0M43 428h0M55 414h0M70 432h0M44 418h0M47 426h0M65 424h0M75 432h0M70 421h0M48 425h0M62 422h0M66 433h0M47 434h0M43 419h0M54 420h0M64 426h0M72 427h0M48 424h0M60 410h0M61 429h0M37 417h0M53 426h0M40 419h0M46 427h0M39 429h0M41 418h0M61 430h0M63 431h0M68 433h0M60 410h0M37 409h0M51 417h0M37 425h0M48 412h0M57 422h0M65 403h0M69 425h0M57 421h0M67 425h0M62 417h0M47 430h0M37 431h0M48 425h0M48 419h0M51 424h0M57 418h0M47 433h0M37 423h0M51 432h0M49 419h0M57 422h0M55 432h0M61 432h0M57 431h0M44 425h0M65 420h0M42 417h0M60 418h0M50 433h0M50 430h0M63 431h0M44 430h0M67 412h0M49 433h0M38 434h0M43 415h0M50 419h0M38 425h0M48 420h0M39 417h0M53 419h0M47 425h0M56 421h0M42 427h0M42 406h0M41 420h0M44 420h0M49 434h0M37 424h0M53 422h0M46 417h0M71 418h0M52 416h0M71 408h0M52 408h0M37 424h0M47 404h0M42 427h0M57 430h0M62 427h0M63 433h0M67 427h0M71 417h0M46 428h0M48 422h0M59 410h0M54 430h0M37 431h0M40 432h0M52 424h0M58 421h0M61 421h0M38 421h0M49 421h0M60 423h0M45 431h0M60 415h0M47 426h0M55 434h0M52 406h0M43 427h0M58 420h0M57 413h0M39 423h0M69 418h0M46 434h0M66 418h0M49 423h0M48 419h0M44 421h0M40 424h0M39 431h0M44 421h0M38 422h0M69 428h0M50 420h0M64 424h0M54 425h0M43 420h0M55 417h0M59 428h0M48 422h0M40 413h0M74 424h0M59 427h0M66 424h0M68 427h0M59 422h0M42 424h0M42 419h0M57 422h0M66 426h0M40 426h0M56 417h0M64 430h0M65 429h0M43 430h0M52 433h0M61 435h0M46 434h0M45 425h0M40 429h0M38 424h0M49 426h0M56 434h0M63 416h0M43 422h0M60 433h0M36 431h0M57 415h0M48 432h0M44 427h0M54 422h0M56 420h0M46 431h0M42 431h0M65 431h0M52 429h0M54 432h0M112 424h0M112 420h0M101 435h0M95 417h0M97 422h0M98 414h0M100 431h0M103 426h0M88 425h0M87 430h0M91 421h0M84 422h0M102 430h0M93 414h0M85 424h0M100 427h0M96 430h0M82 426h0M96 430h0M97 434h0M93 415h0M92 418h0M92 433h0M96 420h0M106 432h0M103 425h0M99 421h0M95 425h0M107 420h0M110 424h0M94 425h0M93 417h0M89 424h0M84 431h0M83 424h0M110 418h0M78 428h0M106 431h0M87 421h0M89 421h0M109 422h0M101 417h0M100 433h0M101 424h0M96 423h0M92 421h0M84 422h0M96 424h0M100 424h0M85 434h0M84 433h0M110 430h0M83 414h0M83 422h0M102 431h0M99 429h0M90 428h0M93 428h0M96 424h0M89 420h0M89 419h0M88 423h0M96 418h0M97 422h0M111 421h0M102 423h0M90 430h0M90 429h0M89 435h0M84 426h0M103 427h0M100 425h0M96 426h0M106 422h0M103 424h0M84 424h0M97 431h0M111 422h0M91 421h0M84 423h0M97 420h0M100 427h0M82 422h0M112 424h0M93 422h0M111 428h0M113 428h0M99 411h0M90 430h0M97 417h0M94 429h0M96 428h0M99 424h0M96 422h0M101 431h0M100 431h0M119 417h0M95 414h0"/><path stroke="#111" d="M86 182h0M96 179h0M90 184h0M119 180h0M128 174h0M105 179h0M124 179h0M83 181h0M92 182h0M99 184h0M112 173h0M130 176h0M115 179h0M114 184h0M99 182h0M111 187h0M88 182h0M104 184h0M92 187h0M110 181h0M94 182h0M125 174h0M132 174h0M86 182h0M116 183h0M96 181h0M99 178h0M135 177h0M109 183h0M143 179h0M100 184h0M116 183h0M126 181h0M84 184h0M88 187h0M84 185h0M99 183h0M115 180h0M90 180h0M84 183h0M83 181h0M99 186h0M124 180h0M128 175h0M97 181h0M113 181h0M101 183h0M112 183h0M89 182h0M127 175h0M107 185h0M102 180h0M106 180h0M88 188h0M91 180h0M100 181h0M97 181h0M89 184h0M133 181h0M109 181h0M100 179h0M89 180h0M109 183h0M130 180h0M83 184h0M98 180h0M108 183h0M129 179h0M130 183h0M97 180h0M129 175h0M107 186h0M103 185h0M99 184h0M107 180h0M98 185h0M88 179h0M94 182h0M101 177h0M106 180h0M87 182h0M124 174h0M126 177h0M124 182h0M109 182h0M123 173h0M134 179h0M122 177h0M124 177h0M120 177h0M102 180h0M111 181h0M108 179h0M88 178h0M95 180h0M141 170h0M121 177h0M92 185h0M86 181h0M122 178h0M129 176h0M84 182h0M116 180h0M92 179h0M113 178h0M97 182h0M140 168h0M96 185h0M99 183h0M120 178h0M118 181h0M122 178h0M129 175h0M123 177h0M94 184h0M100 185h0M123 176h0M99 183h0M99 181h0M111 180h0M115 180h0M123 181h0M112 181h0M132 182h0M106 179h0M125 179h0M98 178h0M87 185h0M117 179h0M83 186h0M126 177h0M113 181h0M101 181h0M117 178h0M99 180h0M114 182h0M111 177h0M97 182h0M92 186h0M122 173h0M93 181h0M106 179h0M131 174h0M133 178h0M96 182h0M117 175h0M95 184h0M113 180h0M85 184h0M110 178h0M110 185h0M93 185h0M138 176h0M107 187h0M129 172h0M137 176h0M99 181h0M99 182h0M123 175h0M101 184h0M108 185h0M100 183h0M100 181h0M85 178h0M87 183h0M98 180h0M86 180h0M117 180h0M109 182h0M84 184h0M85 182h0M115 182h0M110 181h0M100 182h0M107 177h0M121 182h0M136 172h0M131 181h0M124 180h0M129 176h0M124 179h0M107 184h0M106 182h0M142 167h0M129 177h0M124 175h0M84 184h0M93 182h0M102 182h0M113 180h0M106 183h0M108 178h0M109 178h0M117 180h0M105 179h0M120 182h0M125 180h0M101 180h0M136 176h0M94 183h0M85 179h0M86 183h0M114 184h0M121 179h0M121 176h0M122 182h0M117 182h0M102 184h0M122 181h0M130 175h0M87 182h0M113 180h0M103 180h0M103 179h0M86 179h0M113 182h0M83 185h0M117 181h0M133 174h0M118 176h0M92 177h0M116 178h0M90 182h0M90 179h0M134 174h0M113 179h0M94 181h0M99 186h0M88 180h0M104 183h0M125 176h0M125 179h0M104 184h0M102 176h0M84 187h0M88 184h0M85 181h0M121 177h0M105 184h0M99 182h0M98 178h0M90 186h0M99 182h0M123 180h0M96 185h0M142 177h0M103 182h0M105 176h0M112 180h0M126 176h0M137 173h0M92 181h0M86 184h0M100 184h0M107 183h0M88 186h0M110 177h0M115 181h0M87 180h0M130 179h0M133 178h0M137 171h0M91 186h0M106 180h0M111 178h0M92 185h0M113 178h0M118 181h0M96 183h0M106 178h0M120 175h0M118 179h0M117 180h0M119 177h0M95 181h0M125 176h0M93 182h0M128 178h0M107 185h0M112 177h0M101 182h0M102 180h0M129 179h0M111 181h0M119 178h0M90 181h0M88 187h0M107 173h0M140 176h0M87 184h0M86 179h0M119 181h0M124 182h0M86 180h0M108 178h0M109 177h0M113 184h0M85 186h0M111 179h0M122 181h0M90 182h0M85 187h0M114 181h0M105 179h0M102 184h0M105 180h0M95 187h0M108 179h0M111 178h0M112 178h0M107 177h0M125 178h0M127 177h0M126 177h0M120 176h0M97 181h0M131 176h0M89 185h0M113 184h0M110 175h0M96 183h0M98 177h0M138 179h0M123 172h0M139 177h0M131 173h0M121 172h0M83 187h0M136 173h0M92 184h0M131 177h0M94 180h0M103 177h0M84 181h0M116 182h0M109 182h0M89 180h0M115 181h0M86 183h0M87 182h0M136 173h0M99 184h0M98 183h0M113 177h0M96 188h0M88 182h0M96 179h0M107 181h0M139 172h0M100 182h0M93 186h0M119 176h0M95 177h0M109 179h0M125 177h0M144 175h0M97 181h0M112 182h0M104 180h0M126 178h0M139 171h0M132 176h0M115 180h0M94 182h0M107 183h0M121 182h0M110 182h0M96 182h0M90 177h0M92 182h0M99 178h0M133 174h0M91 180h0M125 179h0M112 182h0M98 178h0M95 180h0M109 181h0M120 175h0M118 178h0M113 176h0M116 178h0M132 174h0M84 184h0M94 179h0M90 177h0M138 175h0M115 180h0M109 177h0M103 187h0M133 173h0M85 183h0M122 186h0M129 177h0M125 179h0M89 185h0M92 182h0M111 181h0M122 182h0M120 181h0M90 182h0M91 186h0M132 177h0M98 182h0M120 180h0M130 174h0M115 180h0M104 181h0M89 180h0M99 185h0M101 180h0M86 183h0M100 183h0M99 177h0M95 180h0M121 179h0M101 180h0M128 181h0M129 180h0M137 175h0M110 186h0M108 181h0M85 184h0M122 180h0M93 180h0M94 181h0M93 179h0M90 181h0M132 177h0M134 172h0M125 181h0M114 180h0M129 180h0M96 182h0M122 180h0M112 179h0M89 183h0M108 175h0M93 182h0M114 181h0M113 179h0M110 183h0M95 179h0M94 181h0M93 184h0M111 180h0M96 181h0M122 180h0M102 183h0M90 185h0M85 178h0M110 181h0M100 177h0M112 180h0M110 182h0M91 182h0M90 179h0M130 177h0M94 184h0M121 178h0M127 175h0M117 181h0M110 181h0M94 181h0M94 181h0M109 181h0M124 181h0M125 176h0M138 174h0M127 175h0M106 183h0M98 182h0M127 175h0M113 181h0M99 185h0M131 172h0M91 180h0M109 182h0M97 184h0M102 182h0M87 183h0M85 186h0M119 175h0M106 180h0M90 184h0M98 180h0M89 182h0M108 182h0M85 182h0M98 180h0M94 184h0M93 185h0M129 179h0M100 182h0M111 182h0M95 180h0M96 183h0M111 178h0M113 183h0M124 176h0M144 175h0M109 177h0M125 173h0M124 175h0M98 174h0M99 182h0M86 183h0M101 182h0M91 181h0M85 181h0M112 179h0M87 178h0M125 177h0M107 180h0M127 177h0M119 177h0M95 180h0M102 179h0M84 182h0M135 180h0M115 178h0M104 181h0M89 182h0M91 183h0M104 179h0M141 173h0M107 180h0M113 176h0M108 179h0M128 176h0M94 180h0M133 178h0M84 180h0M97 182h0M123 176h0M119 178h0M107 184h0M96 178h0M114 182h0M92 184h0M128 178h0M109 183h0M94 181h0M134 177h0M90 183h0M103 181h0M124 179h0M119 179h0M111 187h0M99 185h0M121 181h0M111 182h0M116 179h0M90 187h0M89 184h0M103 177h0M126 177h0M112 182h0M105 183h0M125 174h0M100 181h0M117 177h0M91 180h0M122 175h0M127 177h0M114 179h0M103 182h0M123 173h0M105 185h0M88 181h0M97 180h0M119 180h0M121 177h0M107 184h0M89 184h0M99 182h0M111 182h0M92 181h0M83 182h0M110 180h0M112 182h0M132 179h0M106 178h0M91 180h0M122 178h0M96 183h0M90 182h0M125 178h0M133 175h0M112 178h0M113 184h0M143 173h0M124 176h0M95 184h0M102 181h0M123 179h0M99 182h0M91 183h0M103 184h0M100 184h0M94 179h0M116 175h0M127 178h0M109 179h0M113 182h0M113 178h0M107 184h0M100 182h0M91 180h0M118 178h0M106 180h0M114 180h0M112 179h0M126 177h0M128 173h0M87 182h0M114 179h0M95 184h0M84 186h0M111 180h0M126 178h0M99 183h0M129 176h0M123 176h0M115 181h0M102 182h0M115 174h0M110 179h0M131 178h0M112 182h0M102 183h0M124 180h0M88 180h0M93 184h0M116 180h0M87 180h0M89 181h0M130 176h0M123 182h0M115 181h0M87 181h0M128 180h0M122 185h0M114 180h0M105 181h0M117 181h0M90 180h0M95 182h0M124 178h0M119 181h0M86 183h0M97 185h0M115 182h0M109 177h0M111 176h0M106 180h0M116 183h0M116 178h0M96 184h0M102 181h0M84 185h0M105 179h0M131 174h0M120 181h0M127 179h0M104 184h0M116 180h0M134 176h0M114 180h0M97 179h0M122 181h0M99 177h0M126 176h0M119 178h0M115 177h0M115 179h0M112 183h0M111 179h0M137 178h0M84 186h0M99 181h0M125 178h0M101 181h0M134 173h0M127 182h0M90 179h0M114 180h0M115 178h0M126 175h0M112 179h0M94 184h0M135 178h0M84 185h0M109 181h0M114 177h0M88 187h0M103 182h0M104 182h0M141 176h0M115 180h0M114 183h0M103 182h0M96 180h0M100 184h0M83 184h0M122 183h0M129 179h0M117 181h0M134 174h0M105 179h0M110 178h0M133 171h0M86 185h0M84 186h0M118 178h0M91 182h0M135 177h0M140 175h0M93 183h0M108 180h0M106 185h0M114 179h0M101 182h0M94 177h0M103 181h0M124 182h0M111 180h0M112 179h0M101 183h0M120 177h0M94 184h0M101 180h0M106 184h0M110 179h0M97 186h0M116 183h0M125 178h0M93 181h0M112 180h0M107 178h0M96 181h0M112 176h0M107 177h0M120 177h0M119 180h0M105 182h0M118 183h0M109 180h0M94 187h0M88 183h0M90 182h0M137 180h0M102 179h0M107 182h0M116 181h0M129 180h0M89 184h0M130 177h0M120 180h0M109 181h0M86 183h0M108 182h0M117 177h0M93 179h0M100 176h0M113 180h0M107 183h0M105 182h0M117 177h0M115 180h0M101 183h0M130 177h0M109 185h0M98 183h0M131 173h0M91 183h0M120 182h0M133 176h0M84 186h0M124 183h0M87 181h0M100 181h0M141 173h0M110 181h0M115 181h0M84 182h0M87 182h0M87 181h0M109 180h0M125 181h0M104 178h0M125 176h0M115 179h0M89 182h0M106 179h0M133 179h0M90 180h0M113 180h0M101 181h0M100 183h0M139 174h0M114 179h0M89 180h0M90 184h0M98 186h0M122 173h0M110 178h0M101 182h0M103 180h0M87 181h0M109 182h0M126 179h0M127 179h0M108 177h0M97 180h0M116 179h0M96 182h0M99 182h0M106 182h0M110 184h0M140 174h0M109 181h0M91 183h0M126 176h0M102 181h0M103 173h0M86 187h0M126 177h0M88 178h0M132 178h0M93 182h0M99 183h0M106 183h0M117 179h0M103 181h0M96 187h0M106 180h0M95 180h0M96 181h0M109 179h0M94 182h0M98 182h0M131 172h0M104 184h0M117 180h0M94 185h0M118 176h0M108 185h0M88 184h0M127 176h0M124 179h0M114 176h0M106 185h0M85 185h0M116 179h0M91 181h0M126 177h0M125 181h0M104 182h0M130 178h0M102 182h0M125 178h0M104 182h0M104 179h0M127 177h0M100 182h0M84 181h0M114 183h0M112 181h0M93 187h0M87 188h0M128 174h0M92 179h0M98 180h0M101 181h0M117 176h0M114 181h0M86 184h0M97 183h0M128 176h0M86 181h0M136 178h0M98 184h0M89 182h0M119 179h0M88 183h0M101 187h0M112 179h0M133 175h0M99 176h0M121 175h0M87 184h0M111 179h0M114 179h0M119 181h0M114 182h0M129 174h0M104 181h0M93 183h0M85 182h0M91 184h0M136 179h0M117 183h0M85 188h0M94 179h0M95 179h0M113 179h0M91 178h0M98 183h0M129 183h0M95 182h0M106 184h0M128 175h0M104 181h0M83 187h0M88 184h0M94 185h0M113 178h0M121 173h0M97 186h0M109 179h0M91 183h0M99 183h0M127 179h0M108 183h0M141 171h0M101 184h0M125 178h0M93 185h0M135 176h0M84 182h0M132 179h0M122 179h0M124 177h0M110 179h0M102 182h0M86 184h0M119 176h0M96 181h0M100 181h0M114 176h0M113 177h0M134 177h0M119 178h0M144 169h0M142 172h0M94 180h0M99 182h0M102 186h0M84 182h0M120 180h0M141 171h0M127 181h0M101 180h0M117 185h0M110 182h0M104 184h0M119 182h0M133 172h0M127 180h0M116 177h0M140 167h0M96 181h0M132 180h0M98 179h0M132 174h0M89 180h0M99 178h0M132 183h0M124 174h0M138 176h0M93 182h0M115 181h0M98 182h0M111 177h0M109 178h0M103 181h0M110 179h0M137 178h0M106 175h0M120 181h0M116 179h0M85 185h0M90 187h0M115 183h0M113 182h0M119 179h0M101 181h0M91 186h0M122 178h0M123 178h0M99 185h0M130 176h0M94 180h0M102 180h0M96 182h0M117 179h0M86 180h0M122 176h0M117 179h0M87 184h0M117 182h0M105 178h0M110 186h0M94 183h0M136 177h0M133 177h0M104 179h0M89 181h0M133 174h0M145 174h0M117 181h0M141 173h0M99 182h0M112 185h0M100 180h0M85 184h0M110 179h0M111 178h0M120 177h0M140 168h0M123 168h0M84 160h0M90 177h0M146 149h0M149 145h0M96 173h0M114 173h0M113 170h0M103 156h0M124 169h0M90 172h0M141 143h0M118 172h0M129 169h0M142 151h0M121 171h0M144 166h0M84 177h0M113 170h0M121 155h0M151 157h0M116 171h0M108 171h0M123 166h0M120 173h0M85 173h0M105 170h0M125 166h0M99 162h0M116 173h0M137 150h0M116 174h0M104 175h0M145 166h0M129 170h0M133 150h0M110 174h0M117 171h0M143 167h0M142 151h0M116 173h0M139 165h0M97 170h0M109 164h0M123 172h0M148 164h0M108 175h0M98 172h0M117 168h0M124 162h0M131 161h0M87 174h0M101 172h0M129 169h0M135 163h0M132 170h0M110 166h0M136 168h0M121 172h0M102 172h0M86 175h0M96 174h0M88 169h0M143 161h0M135 167h0M123 157h0M87 174h0M152 159h0M145 144h0M152 161h0M140 162h0M138 169h0M132 170h0M90 173h0M115 164h0M113 174h0M117 169h0M140 168h0M157 167h0M144 168h0M149 170h0M187 166h0M142 178h0M177 173h0M178 176h0M152 176h0M160 170h0M150 166h0M144 177h0M184 165h0M148 175h0M176 173h0M154 170h0M147 170h0M139 172h0M159 174h0M145 177h0M155 173h0M143 171h0M171 177h0M177 168h0M165 168h0M117 97h0M119 119h0M112 159h0M113 142h0M116 137h0M116 128h0M128 152h0M109 125h0M117 112h0M112 158h0M112 118h0M118 115h0M125 125h0M132 123h0M113 124h0M115 97h0M115 133h0M105 135h0M119 112h0M118 148h0M113 134h0M118 120h0M123 135h0M121 108h0M113 135h0M122 127h0M124 119h0M118 107h0M120 122h0M120 134h0M112 124h0M123 123h0M126 120h0M103 126h0M106 135h0M119 157h0M119 101h0M111 139h0M128 108h0M117 119h0M119 118h0M115 116h0M116 126h0M103 149h0M123 108h0M134 131h0M106 142h0M133 126h0M109 113h0M109 149h0M123 141h0M129 153h0M115 120h0M115 127h0M118 120h0M123 112h0M114 118h0M120 129h0M126 123h0M125 120h0M113 128h0M113 143h0M95 146h0M106 128h0M127 125h0M114 165h0M105 128h0M111 125h0M124 125h0M128 125h0M129 142h0M115 127h0M106 128h0M104 108h0M107 142h0M127 109h0M98 131h0M101 112h0M127 142h0M105 133h0M114 161h0M126 145h0M103 150h0M115 138h0M135 154h0M113 141h0M126 121h0M138 145h0M123 139h0M117 146h0M117 161h0M121 143h0M99 129h0M363 110h0M347 79h0M359 106h0M355 110h0M367 122h0M367 114h0M375 113h0M363 86h0M363 111h0M383 92h0M378 123h0M386 109h0M378 103h0M369 123h0M374 114h0M379 118h0M368 111h0M359 98h0M350 86h0M375 99h0M381 108h0M357 110h0M384 124h0M372 98h0M354 106h0M372 112h0M368 97h0M362 100h0M362 110h0M368 111h0M385 112h0M363 117h0M355 100h0M379 94h0M371 97h0M348 123h0M389 98h0M368 109h0M374 98h0M354 130h0M352 117h0M361 93h0M360 94h0M363 111h0M373 110h0M364 100h0M365 100h0M359 108h0M363 107h0M380 108h0M373 115h0M382 97h0M366 119h0M349 113h0M378 126h0M378 97h0M391 101h0M373 97h0M382 118h0M373 113h0M366 119h0M359 119h0M358 109h0M365 117h0M361 108h0M366 107h0M373 100h0M364 108h0M351 108h0M359 108h0M375 88h0M361 114h0M370 111h0M357 94h0M355 95h0M376 107h0M378 112h0M365 91h0M359 84h0M360 116h0M358 95h0M378 107h0M367 107h0M361 107h0M350 106h0M366 99h0M383 112h0M363 112h0M362 101h0M389 114h0M376 120h0M366 86h0M382 109h0M379 89h0M354 113h0M381 119h0M350 84h0M387 112h0M378 92h0M376 113h0M354 101h0M371 107h0M354 105h0M364 89h0M363 106h0M370 85h0M348 101h0M360 101h0M380 98h0M372 103h0M354 115h0M388 98h0M352 99h0M354 116h0M380 123h0M360 104h0M346 89h0M381 116h0M357 104h0M371 104h0M367 113h0M353 119h0M366 96h0M356 96h0M373 112h0M376 110h0M365 110h0M371 105h0M350 96h0M378 111h0M351 111h0M354 90h0M374 93h0M351 98h0M363 113h0M348 94h0M350 93h0M363 105h0M370 105h0M373 112h0M370 86h0M372 105h0M380 90h0M348 116h0M357 96h0M374 98h0M375 112h0M363 108h0M350 98h0M362 89h0M363 105h0M359 113h0M372 119h0M375 105h0M369 107h0M356 92h0M370 112h0M364 110h0M380 114h0M361 116h0M374 105h0M369 97h0M363 97h0M380 101h0M359 96h0M384 107h0M371 117h0M383 101h0M347 97h0M348 129h0M359 112h0M390 100h0M354 109h0M380 115h0M363 103h0M370 104h0M379 99h0M385 108h0M362 108h0M362 119h0M383 107h0M363 110h0M366 89h0M381 92h0M366 103h0M376 100h0M380 110h0M353 123h0M357 100h0M353 93h0M371 111h0M357 104h0M367 99h0M360 108h0M350 117h0M358 104h0M368 112h0M374 102h0M370 117h0M380 119h0M358 121h0M375 117h0M361 102h0M389 106h0M375 95h0M369 107h0M356 109h0M371 101h0M362 111h0M374 83h0M348 118h0M352 101h0M379 112h0M367 105h0M380 109h0M371 115h0M366 122h0M384 116h0M347 102h0M378 102h0M364 118h0M357 100h0M362 103h0M355 99h0M362 105h0M377 101h0M364 102h0M384 86h0M376 109h0M383 113h0M370 117h0M362 117h0M354 113h0M373 96h0M378 116h0M355 107h0M371 98h0M377 90h0M372 108h0M352 107h0M351 127h0M371 119h0M362 95h0M362 106h0M365 100h0M366 100h0M366 103h0M373 103h0M362 96h0M362 108h0M355 99h0M358 107h0M360 103h0M350 113h0M371 110h0M374 108h0M375 107h0M354 120h0M367 110h0M359 98h0M373 119h0M365 101h0M381 104h0M372 101h0M383 93h0M365 112h0M368 97h0M362 113h0M375 96h0M355 110h0M364 88h0M363 113h0M373 115h0M364 102h0M355 99h0M365 82h0M377 106h0M371 102h0M387 109h0M375 93h0M376 108h0M381 112h0M357 95h0M351 98h0M367 106h0M361 104h0M383 106h0M356 118h0M349 102h0M371 121h0M355 112h0M376 97h0M358 114h0M385 106h0M379 119h0M366 110h0M368 91h0M380 109h0M363 90h0M353 96h0M353 131h0M358 115h0M385 109h0M356 94h0M386 99h0M353 94h0M363 99h0M385 117h0M368 101h0M361 102h0M350 107h0M361 99h0M354 128h0M382 108h0M349 107h0M355 106h0M366 88h0M369 85h0M358 116h0M366 105h0M372 110h0M364 119h0M372 102h0M358 110h0M377 120h0M357 103h0M382 104h0M361 100h0M361 111h0M351 124h0M366 96h0M372 111h0M382 110h0M365 97h0M364 103h0M357 115h0M372 120h0M383 103h0M349 112h0M364 97h0M360 109h0M364 104h0M369 105h0M377 104h0M367 90h0M384 112h0M368 91h0M384 123h0M376 101h0M380 105h0M352 106h0M382 121h0M384 93h0M359 103h0M383 107h0M372 104h0M374 118h0M355 123h0M364 104h0M370 120h0M365 107h0M376 118h0M365 98h0M358 105h0M364 99h0M360 98h0M391 101h0M357 102h0M381 106h0M356 115h0M364 113h0M379 105h0M352 94h0M383 109h0M386 105h0M362 98h0M371 104h0M390 109h0M362 103h0M364 96h0M369 117h0M370 105h0M363 108h0M358 104h0M375 109h0M352 104h0M376 106h0M378 92h0M347 97h0M358 107h0M360 100h0M375 122h0M362 103h0M358 86h0M347 121h0M359 103h0M355 120h0M366 114h0M346 98h0M359 99h0M380 104h0M370 100h0M376 94h0M349 91h0M361 86h0M388 101h0M377 92h0M384 93h0M367 109h0M364 104h0M375 98h0M363 104h0M368 131h0M356 112h0M352 121h0M382 102h0M354 122h0M361 78h0M379 100h0M374 125h0M362 98h0M377 98h0M372 110h0M383 91h0M358 104h0M373 110h0M353 115h0M357 106h0M378 103h0M378 103h0M364 116h0M381 102h0M369 92h0M346 100h0M359 109h0M382 112h0M357 99h0M348 117h0M357 99h0M376 114h0M366 104h0M377 112h0M360 96h0M362 113h0M380 122h0M378 112h0M368 120h0M370 106h0M356 106h0M357 84h0M366 92h0M372 107h0M378 109h0M370 91h0M349 110h0M368 109h0M376 111h0M367 119h0M371 94h0M369 100h0M351 115h0M377 88h0M353 104h0M374 94h0M360 105h0M353 117h0M356 94h0M373 97h0M375 127h0M355 100h0M365 95h0M353 100h0M363 122h0M367 102h0M366 104h0M364 129h0M354 125h0M387 114h0M359 104h0M388 95h0M350 111h0M376 91h0M386 100h0M379 101h0M354 98h0M389 119h0M365 98h0M389 104h0M354 98h0M374 85h0M375 112h0M359 91h0M366 94h0M364 105h0M365 98h0M353 100h0M353 96h0M359 102h0M390 88h0M364 121h0M378 109h0M358 106h0M348 110h0M361 102h0M385 97h0M368 103h0M387 102h0M383 107h0M387 101h0M360 103h0M390 115h0M360 108h0M364 94h0M359 89h0M379 107h0M365 102h0M370 117h0M385 112h0M369 97h0M379 104h0M374 109h0M346 111h0M375 111h0M361 101h0M373 109h0M371 118h0M358 112h0M362 128h0M387 107h0M348 103h0M373 124h0M367 107h0M369 89h0M369 114h0M357 104h0M355 106h0M371 96h0M350 105h0M371 115h0M381 109h0M376 101h0M368 93h0M387 93h0M361 94h0M365 94h0M382 113h0M372 95h0M354 102h0M366 114h0M374 93h0M367 94h0M349 99h0M389 113h0M359 106h0M384 117h0M377 100h0M377 108h0M380 103h0M359 97h0M364 94h0M358 100h0M362 109h0M373 122h0M377 107h0M375 108h0M350 112h0M357 98h0M357 110h0M390 96h0M409 176h0M401 160h0M400 169h0M407 189h0M422 172h0M396 189h0M410 172h0M408 167h0M404 171h0M399 167h0M412 183h0M401 177h0M412 167h0M405 159h0M411 175h0M409 178h0M403 184h0M407 152h0M404 177h0M409 184h0M410 187h0M399 185h0M404 190h0M402 181h0M402 154h0M406 171h0M409 189h0M397 175h0M402 143h0M401 185h0M399 180h0M406 184h0M407 141h0M407 160h0M420 158h0M396 172h0M421 177h0M400 160h0M414 188h0M415 174h0M414 185h0M403 180h0M409 161h0M415 165h0M407 143h0M407 160h0M416 188h0M414 163h0M407 166h0M415 190h0M403 182h0M407 155h0M408 177h0M402 188h0M417 170h0M405 186h0M399 171h0M413 166h0M422 174h0M404 160h0M406 178h0M415 173h0M401 180h0M403 180h0M401 170h0M409 175h0M408 157h0M406 180h0M404 158h0M405 177h0M401 176h0M407 172h0M413 179h0M416 171h0M409 171h0M395 178h0M396 174h0M408 164h0M403 164h0M406 174h0M412 181h0M398 186h0M406 155h0M406 169h0M406 184h0M402 183h0M420 177h0M418 169h0M412 174h0M412 171h0M409 183h0M398 170h0M402 168h0M398 184h0M398 181h0M410 173h0M401 171h0M404 170h0M418 186h0M402 184h0M405 181h0M409 179h0M401 155h0M400 179h0M404 175h0M410 185h0M412 170h0M402 185h0M405 186h0M421 177h0M405 183h0M402 175h0M397 164h0M416 173h0M411 184h0M402 156h0M397 169h0M408 155h0M406 173h0M411 176h0M403 190h0M408 182h0M405 174h0M404 185h0M413 182h0M411 150h0M415 170h0M404 158h0M414 181h0M409 186h0M408 183h0M408 168h0M419 171h0M398 173h0M409 173h0M411 183h0M412 178h0M415 177h0M413 164h0M402 163h0M394 176h0M403 188h0M412 171h0M402 161h0M401 172h0M406 167h0M405 170h0M403 152h0M417 159h0M402 159h0M407 153h0M397 176h0M396 183h0M414 189h0M410 179h0M406 182h0M406 148h0M406 185h0M408 169h0M408 187h0M414 172h0M414 181h0M403 168h0M398 183h0M409 170h0M410 175h0M405 140h0M404 168h0M410 172h0M413 157h0M412 172h0M409 156h0M407 166h0M395 155h0M413 177h0M407 166h0M416 182h0M400 181h0M402 180h0M405 182h0M405 154h0M406 163h0M409 189h0M411 181h0M416 165h0M409 180h0M415 175h0M406 168h0M405 175h0M407 188h0M408 169h0M405 164h0M406 178h0M401 164h0M413 177h0M416 189h0M416 177h0M401 166h0M405 164h0M402 173h0M416 182h0M410 189h0M405 156h0M413 164h0M415 157h0M413 190h0M402 172h0M405 173h0M417 176h0M401 164h0M419 183h0M409 174h0M411 168h0M411 140h0M399 187h0M415 186h0M418 174h0M413 183h0M410 187h0M405 174h0M411 168h0M402 181h0M405 155h0M415 148h0M408 188h0M415 185h0M406 189h0M410 181h0M406 177h0M409 159h0M408 182h0M408 152h0M405 174h0M409 180h0M411 155h0M397 157h0M406 175h0M412 168h0M414 179h0M406 173h0M404 190h0M409 156h0M416 179h0M409 152h0M398 171h0M410 173h0M396 185h0M411 178h0M423 165h0M401 182h0M415 183h0M410 167h0M400 177h0M405 189h0M406 167h0M407 172h0M415 181h0M404 188h0M412 188h0M407 175h0M406 169h0M413 177h0M417 182h0M411 174h0M400 164h0M408 174h0M405 174h0M412 170h0M406 178h0M409 168h0M418 158h0M405 166h0M420 181h0M406 185h0M406 172h0M403 185h0M406 178h0M423 152h0M409 179h0M413 172h0M423 184h0M404 171h0M407 182h0M405 189h0M418 168h0M418 177h0M413 174h0M411 171h0M409 170h0M414 185h0M414 169h0M421 165h0M412 173h0M413 183h0M414 172h0M399 169h0M419 170h0M402 157h0M407 186h0M397 185h0M410 181h0M412 158h0M404 166h0M412 176h0M402 188h0M406 173h0M400 175h0M403 181h0M413 151h0M399 178h0M406 152h0M398 173h0M410 157h0M411 161h0M418 170h0M399 167h0M408 170h0M396 178h0M408 188h0M410 176h0M414 179h0M405 184h0M396 159h0M414 166h0M400 181h0M400 160h0M409 142h0M414 177h0M415 165h0M396 177h0M412 190h0M397 181h0M410 185h0M406 156h0M411 179h0M420 173h0M432 170h0M423 163h0M424 159h0M429 177h0M423 189h0M419 177h0M403 171h0M420 185h0M401 167h0M409 176h0M425 188h0M411 182h0M407 179h0M424 186h0M424 174h0M417 167h0M413 173h0M402 158h0M408 182h0M422 178h0M394 104h0M417 121h0M403 84h0M406 105h0M413 134h0M429 114h0M408 99h0M411 79h0M421 88h0M420 87h0M425 115h0M424 90h0M427 112h0M400 111h0M396 90h0M409 113h0M375 143h0M366 139h0M391 157h0M352 154h0M358 142h0M85 367h0M94 368h0M97 369h0M105 359h0M101 363h0M97 363h0M96 363h0M104 365h0M102 367h0M99 374h0M95 367h0M101 371h0M95 368h0M106 352h0M104 369h0M89 370h0M89 362h0M91 371h0M94 364h0M94 368h0M99 357h0M96 370h0M101 362h0M110 352h0M96 366h0M90 368h0M81 369h0M99 363h0M89 370h0M95 361h0M97 368h0M95 372h0M89 380h0M104 357h0M94 372h0M97 364h0M94 367h0M96 378h0M93 369h0M104 368h0M103 363h0M97 372h0M95 366h0M95 369h0M94 369h0M94 366h0M93 364h0M105 357h0M94 367h0M99 362h0M101 367h0M89 372h0M95 372h0M97 362h0M107 362h0M91 359h0M108 366h0M102 364h0M96 363h0M102 364h0M91 370h0M96 366h0M92 370h0M100 362h0M114 361h0M105 368h0M95 365h0M112 367h0M90 364h0M113 353h0M88 369h0M93 372h0M86 364h0M90 369h0M102 368h0M98 366h0M96 368h0M78 382h0M89 365h0M104 357h0M102 361h0M111 359h0M94 368h0M97 368h0M96 363h0M101 366h0M93 368h0M97 361h0M105 372h0M101 361h0M102 371h0M105 364h0M91 367h0M95 360h0M98 375h0M104 366h0M97 369h0M84 373h0M98 356h0M96 372h0M97 361h0M98 367h0M95 364h0M98 363h0M111 360h0M93 366h0M85 366h0M93 371h0M95 359h0M93 367h0M98 366h0M98 370h0M101 362h0M102 358h0M103 358h0M101 358h0M96 362h0M97 364h0M100 372h0M93 373h0M96 365h0M95 370h0M105 361h0M90 370h0M84 374h0M92 368h0M89 372h0M120 358h0M96 368h0M107 357h0M98 367h0M84 379h0M96 365h0M92 376h0M89 369h0M100 371h0M96 371h0M88 371h0M102 364h0M97 368h0M96 362h0M81 372h0M90 372h0M93 371h0M79 380h0M97 359h0M95 369h0M88 369h0M101 367h0M97 368h0M103 365h0M102 360h0M85 376h0M102 363h0M90 366h0M87 371h0M100 369h0M113 351h0M102 365h0M93 361h0M92 368h0M92 363h0M92 368h0M92 367h0M91 379h0M84 375h0M88 381h0M92 366h0M87 367h0M92 373h0M93 369h0M95 368h0M87 372h0M101 362h0M100 361h0M122 355h0M98 361h0M91 373h0M100 369h0M108 364h0M94 370h0M105 360h0M100 363h0M89 360h0M92 369h0M93 371h0M94 373h0M100 370h0M100 364h0M106 360h0M99 360h0M98 366h0M94 367h0M102 362h0M96 366h0M98 366h0M105 359h0M98 367h0M94 369h0M112 364h0M90 369h0M96 364h0M98 362h0M91 366h0M90 370h0M113 352h0M98 371h0M93 365h0M96 362h0M105 359h0M103 365h0M100 365h0M98 362h0M98 365h0M94 366h0M105 362h0M95 366h0M94 360h0M104 362h0M86 373h0M103 360h0M100 363h0M91 373h0M105 369h0M90 370h0M102 356h0M95 362h0M83 374h0M95 360h0M90 371h0M82 379h0M85 374h0M99 370h0M99 370h0M94 367h0M105 359h0M87 376h0M99 372h0M94 372h0M97 359h0M96 371h0M105 356h0M98 366h0M95 367h0M92 375h0M99 359h0M98 363h0M95 358h0M97 367h0M100 369h0M102 367h0M94 369h0M86 374h0M96 361h0M95 364h0M97 363h0M103 368h0M89 365h0M104 356h0M113 363h0M99 358h0M98 368h0M95 373h0M102 364h0M96 363h0M96 363h0M102 365h0M86 372h0M104 363h0M88 378h0M101 364h0M107 358h0M93 363h0M100 362h0M95 364h0M89 366h0M98 371h0M88 365h0M94 360h0M92 366h0M89 374h0M88 374h0M95 367h0M84 378h0M104 357h0M104 360h0M94 373h0M95 373h0M100 362h0M103 362h0M99 360h0M100 361h0M97 361h0M95 358h0M90 367h0M94 364h0M96 356h0M90 366h0M101 363h0M103 371h0M93 365h0M98 368h0M98 367h0M93 364h0M87 373h0M101 370h0M103 356h0M103 361h0M95 366h0M101 365h0M101 356h0M87 364h0M110 356h0M106 364h0M97 366h0M107 365h0M91 365h0M97 358h0M97 361h0M109 362h0M105 365h0M83 369h0M96 366h0M110 354h0M107 366h0M101 366h0M101 363h0M94 372h0M100 362h0M107 372h0M88 368h0M119 358h0M108 362h0M93 372h0M102 363h0M106 360h0M94 367h0M92 363h0M102 354h0M104 363h0M92 375h0M98 365h0M111 361h0M105 358h0M109 370h0M103 366h0M97 365h0M100 357h0M102 367h0M101 364h0M101 359h0M94 375h0M95 366h0M102 366h0M100 371h0M111 367h0M84 372h0M99 362h0M104 364h0M89 366h0M93 356h0M96 372h0M99 371h0M108 360h0M111 367h0M101 367h0M103 344h0M106 380h0M93 382h0M91 364h0M104 352h0M91 370h0M86 372h0M108 350h0M99 352h0M122 365h0M89 360h0M106 373h0M93 377h0M83 366h0M88 379h0M103 365h0M95 373h0M94 357h0M99 352h0M89 363h0M110 364h0M86 360h0M99 364h0M102 358h0M106 369h0M113 370h0M84 374h0M92 377h0M100 377h0M102 358h0M88 364h0M104 370h0M98 370h0M92 368h0M90 376h0M94 357h0M61 407h0M62 429h0M60 418h0M56 429h0M42 417h0M53 412h0M65 434h0M45 429h0M60 427h0M73 416h0M71 435h0M50 430h0M57 429h0M61 424h0M56 423h0M70 413h0M53 425h0M51 422h0M67 398h0M67 432h0M48 422h0M63 426h0M54 427h0M68 419h0M43 418h0M43 418h0M59 420h0M42 417h0M53 434h0M55 425h0M55 432h0M65 427h0M53 423h0M52 422h0M41 424h0M47 427h0M43 418h0M38 425h0M43 428h0M51 421h0M54 407h0M70 426h0M67 430h0M53 419h0M61 434h0M50 433h0M45 433h0M51 421h0M45 429h0M47 432h0M40 426h0M49 425h0M61 421h0M46 423h0M66 426h0M52 433h0M53 404h0M40 432h0M64 414h0M46 429h0M74 404h0M38 421h0M71 411h0M62 412h0M48 423h0M63 404h0M40 413h0M56 421h0M67 421h0M55 432h0M37 432h0M43 422h0M48 419h0M55 431h0M39 432h0M57 408h0M45 409h0M54 424h0M45 420h0M37 418h0M60 427h0M54 429h0M37 403h0M74 421h0M41 426h0M53 421h0M50 422h0M61 420h0M71 433h0M57 419h0M57 416h0M48 420h0M51 431h0M58 416h0M56 424h0M41 430h0M55 427h0M73 429h0M62 425h0M72 430h0M50 417h0M73 426h0M54 409h0M60 422h0M65 433h0M52 433h0M65 430h0M45 430h0M43 420h0M44 428h0M60 405h0M41 424h0M38 411h0M69 422h0M66 434h0M50 427h0M46 431h0M61 405h0M58 421h0M56 410h0M42 418h0M45 421h0M69 421h0M45 424h0M50 414h0M60 421h0M52 431h0M41 426h0M54 419h0M52 434h0M54 414h0M41 426h0M60 410h0M50 416h0M71 423h0M45 421h0M61 431h0M62 410h0M44 434h0M54 432h0M69 417h0M63 423h0M49 420h0M57 416h0M63 427h0M42 432h0M75 421h0M45 419h0M60 434h0M48 420h0M67 422h0M62 424h0M47 417h0M52 423h0M59 418h0M59 430h0M37 430h0M75 423h0M70 432h0M58 414h0M55 424h0M41 416h0M54 422h0M56 427h0M64 429h0M42 434h0M46 408h0M55 426h0M42 434h0M45 413h0M52 423h0M56 409h0M43 430h0M44 427h0M47 424h0M63 435h0M40 431h0M42 425h0M62 434h0M61 432h0M54 400h0M60 416h0M71 424h0M60 409h0M49 424h0M55 418h0M60 419h0M63 412h0M48 412h0M58 433h0M46 426h0M52 429h0M46 427h0M55 415h0M69 422h0M37 415h0M63 400h0M51 429h0M37 417h0M53 432h0M54 413h0M37 429h0M46 421h0M58 424h0M44 435h0M47 418h0M43 427h0M40 422h0M39 433h0M43 416h0M59 404h0M73 428h0M42 415h0M46 424h0M60 413h0M46 427h0M57 418h0M70 418h0M38 418h0M46 412h0M53 408h0M57 433h0M63 424h0M42 433h0M59 407h0M48 417h0M41 416h0M42 413h0M52 421h0M59 419h0M50 428h0M59 420h0M45 419h0M61 412h0M61 432h0M50 435h0M69 430h0M54 400h0M44 431h0M45 431h0M59 419h0M53 422h0M48 427h0M68 421h0M45 433h0M55 420h0M41 431h0M58 427h0M59 427h0M52 423h0M65 405h0M57 411h0M47 424h0M36 421h0M47 428h0M39 428h0M49 434h0M66 414h0M41 422h0M62 428h0M64 423h0M56 422h0M42 425h0M46 420h0M50 419h0M52 421h0M51 425h0M51 431h0M69 414h0M55 434h0M58 425h0M64 434h0M61 421h0M50 425h0M68 406h0M45 430h0M63 426h0M39 420h0M48 427h0M52 430h0M64 421h0M53 417h0M51 435h0M69 433h0M42 425h0M40 421h0M42 431h0M48 408h0M37 430h0M48 428h0M48 409h0M50 433h0M53 427h0M49 421h0M64 406h0M67 435h0M67 412h0M60 428h0M38 426h0M59 427h0M64 425h0M57 414h0M45 421h0M50 423h0M62 434h0M94 432h0M90 426h0M90 426h0M95 426h0M107 429h0M102 429h0M101 408h0M110 425h0M99 423h0M107 412h0M116 431h0M112 422h0M93 418h0M93 414h0M92 414h0M92 418h0M88 424h0M101 416h0M83 421h0M102 426h0M109 433h0M86 428h0M100 425h0M106 428h0M89 423h0M93 423h0M103 417h0M98 426h0M100 433h0M92 426h0M95 423h0M103 421h0M95 432h0M93 420h0M81 423h0M103 425h0M105 427h0M82 420h0M84 424h0M104 427h0M98 427h0M92 425h0M94 431h0M121 424h0M98 424h0M106 421h0M102 417h0M105 430h0M85 435h0M98 426h0M93 429h0M98 421h0M92 432h0M88 421h0M93 434h0M99 424h0M106 425h0M98 427h0M95 424h0M91 428h0M102 426h0M121 417h0M110 423h0M93 425h0M107 422h0M95 435h0M96 432h0M85 420h0M80 411h0M98 426h0M100 424h0M88 417h0M89 425h0M93 427h0M111 423h0M89 423h0M97 429h0M93 431h0M100 433h0M94 416h0M90 430h0M86 423h0M104 421h0M108 432h0M98 425h0M93 417h0M109 426h0M95 430h0M83 420h0M105 426h0"/><path stroke="#000" d="M109 182h0M119 178h0M131 178h0M114 177h0M104 177h0M112 180h0M87 185h0M129 179h0M111 179h0M100 178h0M92 186h0M108 182h0M113 181h0M105 181h0M131 177h0M95 178h0M88 186h0M129 176h0M124 177h0M89 182h0M91 177h0M121 178h0M91 184h0M96 183h0M139 173h0M117 181h0M107 179h0M91 183h0M94 185h0M145 175h0M96 183h0M122 178h0M125 176h0M126 178h0M103 183h0M100 182h0M119 178h0M119 182h0M97 178h0M125 178h0M111 185h0M112 181h0M114 176h0M121 179h0M118 176h0M142 174h0M135 177h0M99 183h0M117 177h0M137 177h0M111 185h0M123 178h0M113 186h0M92 183h0M94 182h0M90 180h0M105 186h0M86 179h0M85 184h0M106 177h0M104 180h0M99 181h0M102 182h0M88 185h0M93 183h0M106 182h0M112 185h0M86 183h0M86 183h0M120 179h0M85 185h0M108 180h0M93 182h0M90 185h0M102 175h0M122 182h0M93 185h0M114 182h0M85 180h0M96 180h0M99 180h0M121 173h0M113 180h0M120 177h0M108 177h0M114 181h0M108 181h0M140 171h0M102 183h0M88 184h0M88 182h0M110 179h0M139 175h0M104 182h0M85 182h0M142 173h0M121 176h0M94 179h0M101 184h0M113 181h0M119 181h0M131 179h0M94 178h0M119 174h0M124 177h0M128 178h0M119 177h0M84 179h0M84 182h0M85 185h0M96 179h0M125 179h0M97 185h0M112 179h0M113 185h0M132 178h0M124 175h0M124 179h0M95 183h0M122 177h0M129 177h0M118 181h0M109 183h0M94 182h0M106 177h0M104 180h0M86 183h0M86 178h0M125 178h0M124 177h0M84 184h0M118 180h0M124 178h0M123 175h0M122 182h0M84 183h0M140 175h0M84 180h0M112 180h0M104 181h0M106 180h0M93 182h0M101 188h0M105 177h0M103 179h0M136 177h0M106 180h0M93 181h0M99 182h0M87 182h0M89 181h0M113 180h0M91 183h0M127 174h0M122 181h0M98 180h0M135 175h0M118 180h0M115 181h0M130 179h0M121 180h0M114 177h0M94 182h0M90 183h0M129 180h0M109 178h0M131 176h0M85 186h0M105 181h0M115 177h0M108 184h0M137 173h0M92 182h0M103 185h0M118 181h0M103 183h0M93 179h0M120 182h0M126 177h0M102 184h0M119 179h0M115 178h0M108 183h0M87 182h0M121 178h0M108 185h0M101 181h0M100 182h0M89 181h0M122 178h0M97 185h0M121 178h0M85 179h0M102 183h0M103 182h0M87 184h0M87 179h0M98 180h0M131 177h0M93 180h0M89 183h0M91 182h0M83 181h0M96 179h0M105 183h0M90 183h0M88 186h0M123 175h0M88 185h0M120 181h0M126 171h0M92 179h0M128 179h0M110 180h0M123 176h0M133 173h0M107 184h0M91 182h0M108 185h0M112 181h0M84 186h0M106 185h0M111 179h0M113 181h0M115 178h0M120 178h0M119 178h0M85 185h0M122 177h0M111 178h0M88 181h0M110 183h0M101 183h0M95 185h0M104 183h0M85 179h0M87 180h0M99 175h0M93 183h0M111 175h0M99 181h0M105 182h0M91 187h0M117 181h0M96 182h0M125 179h0M136 172h0M101 176h0M94 184h0M133 176h0M91 180h0M104 180h0M86 183h0M88 183h0M128 178h0M128 176h0M121 179h0M106 181h0M99 180h0M121 179h0M119 180h0M109 178h0M126 179h0M103 180h0M95 182h0M115 181h0M99 184h0M134 176h0M91 183h0M84 182h0M89 180h0M103 184h0M93 180h0M95 181h0M95 185h0M119 178h0M92 182h0M98 182h0M114 181h0M128 179h0M118 178h0M118 178h0M94 183h0M85 182h0M92 183h0M108 184h0M95 180h0M90 184h0M106 179h0M95 179h0M107 182h0M116 178h0M102 177h0M114 177h0M91 180h0M140 177h0M91 183h0M134 171h0M105 182h0M116 178h0M100 182h0M108 179h0M103 180h0M139 176h0M128 172h0M99 179h0M94 183h0M93 181h0M85 184h0M96 182h0M118 180h0M98 182h0M129 175h0M98 182h0M99 181h0M113 180h0M95 177h0M140 173h0M115 184h0M130 174h0M85 184h0M99 183h0M130 174h0M107 182h0M87 182h0M94 185h0M103 178h0M125 181h0M119 181h0M123 177h0M106 187h0M90 184h0M101 182h0M90 181h0M87 182h0M86 180h0M132 177h0M121 175h0M97 183h0M136 174h0M135 174h0M108 182h0M106 183h0M127 175h0M91 185h0M99 184h0M100 181h0M87 183h0M118 178h0M96 179h0M111 181h0M112 174h0M85 180h0M119 178h0M123 176h0M116 179h0M135 176h0M83 182h0M84 187h0M99 184h0M84 180h0M111 180h0M112 186h0M90 183h0M130 174h0M85 182h0M115 179h0M86 180h0M90 181h0M90 180h0M104 184h0M109 178h0M119 179h0M121 177h0M85 180h0M87 177h0M105 181h0M110 179h0M106 180h0M105 180h0M92 179h0M96 184h0M97 185h0M140 176h0M98 182h0M110 179h0M115 177h0M88 182h0M118 176h0M117 180h0M134 175h0M96 182h0M140 176h0M91 179h0M93 183h0M127 184h0M122 175h0M114 179h0M114 177h0M88 184h0M133 173h0M114 181h0M101 184h0M105 178h0M99 181h0M94 187h0M99 183h0M99 181h0M93 180h0M96 180h0M107 181h0M113 179h0M90 181h0M127 174h0M120 181h0M139 174h0M103 178h0M137 176h0M98 181h0M85 178h0M88 183h0M110 182h0M127 178h0M132 177h0M108 177h0M110 185h0M109 179h0M91 179h0M93 180h0M89 185h0M105 181h0M117 178h0M111 178h0M126 180h0M95 184h0M93 182h0M104 179h0M109 181h0M125 177h0M89 181h0M96 180h0M90 184h0M100 175h0M102 181h0M92 184h0M95 181h0M117 178h0M111 184h0M100 181h0M111 181h0M106 182h0M102 183h0M110 179h0M128 182h0M97 185h0M126 177h0M99 186h0M102 181h0M117 178h0M107 184h0M135 178h0M106 181h0M102 183h0M86 178h0M99 182h0M98 178h0M96 183h0M84 181h0M124 177h0M107 179h0M86 184h0M90 179h0M127 175h0M99 182h0M139 172h0M97 182h0M108 180h0M101 179h0M101 184h0M109 180h0M112 179h0M112 177h0M116 182h0M88 188h0M93 182h0M94 182h0M96 182h0M124 175h0M86 182h0M84 183h0M121 182h0M141 173h0M117 180h0M130 177h0M133 174h0M86 182h0M103 187h0M117 183h0M126 173h0M110 179h0M88 183h0M116 180h0M137 173h0M93 184h0M105 175h0M88 183h0M102 178h0M103 182h0M113 177h0M135 173h0M130 178h0M86 181h0M112 179h0M98 181h0M100 184h0M124 177h0M124 180h0M106 183h0M112 183h0M90 183h0M101 180h0M90 181h0M112 180h0M111 178h0M91 179h0M109 184h0M119 177h0M119 175h0M99 181h0M101 186h0M139 174h0M108 177h0M127 179h0M100 188h0M95 184h0M109 182h0M84 185h0M93 182h0M107 179h0M137 177h0M102 183h0M122 177h0M86 177h0M133 179h0M125 177h0M127 180h0M103 182h0M120 178h0M99 180h0M104 181h0M126 176h0M118 181h0M117 184h0M135 175h0M135 175h0M110 175h0M97 178h0M118 181h0M91 181h0M84 185h0M98 184h0M96 182h0M85 179h0M97 180h0M141 173h0M136 178h0M124 174h0M111 180h0M88 184h0M119 179h0M109 183h0M105 181h0M87 182h0M85 179h0M86 179h0M116 180h0M103 178h0M123 181h0M96 188h0M97 175h0M132 178h0M106 182h0M137 172h0M142 175h0M92 180h0M93 183h0M93 181h0M129 179h0M105 182h0M120 179h0M91 183h0M120 176h0M84 186h0M95 182h0M97 182h0M89 183h0M98 186h0M112 184h0M107 182h0M88 180h0M130 176h0M106 184h0M85 185h0M100 179h0M136 173h0M92 182h0M113 183h0M96 180h0M115 181h0M100 179h0M106 182h0M118 176h0M86 180h0M130 179h0M112 180h0M106 179h0M98 185h0M135 174h0M110 182h0M106 181h0M122 179h0M117 178h0M114 180h0M96 183h0M119 180h0M120 176h0M124 178h0M135 176h0M132 173h0M105 179h0M113 177h0M87 186h0M103 184h0M116 176h0M106 186h0M133 179h0M93 184h0M126 176h0M91 182h0M99 186h0M92 182h0M93 181h0M129 179h0M114 179h0M86 183h0M110 185h0M114 175h0M101 181h0M100 185h0M102 182h0M118 182h0M86 186h0M123 178h0M90 182h0M99 182h0M111 178h0M101 184h0M108 180h0M137 174h0M83 186h0M92 185h0M131 178h0M94 175h0M88 184h0M93 179h0M91 183h0M106 182h0M93 179h0M111 179h0M114 180h0M92 179h0M119 177h0M94 182h0M109 176h0M116 179h0M106 182h0M120 176h0M117 176h0M97 180h0M102 185h0M143 169h0M121 179h0M116 177h0M104 179h0M91 180h0M95 182h0M114 178h0M108 180h0M126 175h0M100 179h0M136 172h0M119 180h0M87 183h0M112 181h0M103 180h0M133 180h0M116 183h0M121 177h0M110 178h0M127 178h0M94 184h0M123 177h0M83 188h0M132 171h0M97 180h0M127 176h0M123 176h0M103 179h0M136 175h0M119 183h0M90 182h0M92 181h0M131 176h0M102 184h0M125 182h0M139 174h0M140 174h0M141 175h0M123 177h0M100 181h0M95 180h0M94 179h0M109 181h0M102 180h0M93 184h0M116 177h0M95 182h0M90 186h0M89 185h0M101 188h0M114 179h0M130 175h0M114 179h0M111 180h0M86 179h0M126 178h0M113 182h0M85 184h0M107 183h0M141 173h0M105 180h0M129 174h0M109 180h0M91 182h0M117 180h0M92 186h0M88 182h0M98 178h0M120 185h0M118 182h0M102 183h0M106 182h0M106 185h0M93 178h0M115 181h0M117 181h0M105 182h0M116 179h0M111 182h0M104 178h0M96 182h0M127 175h0M114 178h0M103 176h0M125 172h0M99 179h0M110 183h0M143 169h0M91 182h0M104 185h0M118 178h0M91 185h0M110 181h0M121 177h0M112 181h0M89 184h0M115 177h0M116 177h0M124 174h0M92 185h0M93 178h0M104 178h0M99 180h0M110 181h0M114 184h0M116 182h0M116 179h0M122 180h0M124 177h0M127 174h0M98 178h0M97 182h0M110 183h0M121 179h0M110 179h0M120 178h0M106 181h0M90 182h0M116 182h0M98 180h0M85 185h0M117 181h0M101 182h0M112 175h0M116 183h0M125 175h0M100 181h0M127 174h0M99 180h0M125 177h0M115 177h0M115 180h0M109 181h0M85 186h0M103 184h0M103 180h0M106 184h0M114 176h0M118 184h0M130 176h0M107 180h0M93 180h0M86 181h0M84 182h0M118 175h0M110 179h0M131 171h0M108 179h0M116 179h0M85 182h0M97 181h0M106 185h0M96 182h0M123 176h0M111 182h0M110 180h0M113 181h0M116 178h0M99 180h0M90 184h0M115 184h0M92 182h0M101 184h0M85 182h0M104 178h0M97 182h0M107 179h0M95 182h0M96 187h0M107 177h0M88 187h0M85 179h0M104 179h0M103 178h0M108 179h0M127 171h0M133 176h0M106 177h0M94 182h0M92 181h0M116 178h0M113 179h0M94 181h0M96 184h0M107 180h0M121 179h0M86 178h0M95 185h0M84 182h0M103 180h0M98 184h0M117 185h0M109 179h0M118 186h0M130 178h0M123 182h0M85 180h0M124 180h0M138 174h0M120 181h0M125 176h0M132 174h0M120 180h0M88 181h0M103 184h0M100 180h0M126 177h0M117 183h0M111 180h0M107 176h0M115 184h0M95 182h0M122 182h0M127 180h0M122 183h0M128 178h0M84 185h0M108 177h0M98 177h0M107 184h0M114 182h0M100 182h0M103 176h0M98 180h0M126 177h0M83 184h0M107 182h0M117 180h0M125 179h0M105 178h0M117 184h0M101 183h0M107 184h0M86 184h0M96 183h0M95 184h0M144 171h0M95 178h0M132 177h0M89 178h0M143 174h0M95 185h0M114 177h0M90 181h0M110 183h0M101 178h0M114 176h0M124 178h0M91 181h0M134 176h0M121 178h0M117 181h0M93 187h0M128 177h0M109 181h0M93 182h0M101 182h0M119 180h0M94 179h0M128 179h0M104 179h0M113 180h0M87 180h0M101 182h0M124 175h0M109 182h0M142 175h0M134 173h0M89 184h0M114 180h0M103 180h0M138 172h0M100 184h0M118 177h0M90 174h0M136 174h0M109 181h0M90 187h0M121 173h0M110 180h0M122 179h0M120 177h0M128 174h0M105 184h0M132 174h0M127 179h0M121 180h0M94 181h0M92 183h0M101 178h0M89 183h0M102 181h0M92 180h0M134 175h0M104 182h0M128 177h0M112 181h0M112 182h0M98 183h0M129 178h0M99 181h0M93 182h0M126 179h0M97 181h0M97 182h0M127 175h0M116 182h0M108 179h0M120 179h0M110 185h0M84 184h0M112 177h0M95 181h0M124 180h0M87 187h0M84 183h0M95 170h0M93 176h0M127 169h0M141 157h0M87 177h0M113 156h0M145 147h0M120 167h0M90 174h0M124 172h0M145 164h0M101 167h0M120 172h0M148 163h0M127 170h0M148 148h0M141 163h0M111 155h0M116 167h0M131 148h0M93 174h0M124 159h0M110 161h0M135 159h0M148 149h0M142 163h0M104 176h0M93 173h0M138 156h0M126 168h0M144 167h0M88 162h0M100 172h0M112 172h0M102 174h0M115 162h0M125 172h0M121 165h0M139 158h0M131 169h0M115 165h0M114 160h0M123 171h0M124 171h0M149 159h0M100 174h0M120 160h0M123 172h0M151 164h0M114 173h0M107 172h0M128 161h0M92 176h0M98 162h0M120 158h0M122 168h0M129 164h0M105 174h0M176 166h0M151 172h0M143 169h0M169 164h0M141 177h0M151 177h0M147 178h0M151 165h0M141 169h0M164 169h0M194 171h0M192 168h0M190 159h0M141 176h0M192 169h0M155 168h0M164 173h0M165 170h0M176 173h0M174 177h0M181 168h0M162 165h0M178 161h0M183 174h0M181 167h0M162 168h0M164 170h0M165 171h0M154 179h0M118 113h0M121 142h0M127 106h0M114 134h0M117 135h0M123 109h0M111 129h0M118 108h0M119 141h0M130 131h0M123 147h0M128 144h0M118 120h0M115 132h0M119 131h0M110 144h0M112 150h0M117 130h0M125 87h0M111 112h0M120 123h0M130 96h0M115 118h0M112 128h0M114 120h0M116 116h0M111 131h0M131 136h0M121 154h0M116 134h0M109 107h0M119 125h0M127 126h0M125 158h0M130 140h0M106 140h0M117 126h0M112 111h0M124 139h0M113 124h0M125 119h0M123 143h0M115 122h0M125 128h0M125 120h0M131 147h0M120 149h0M118 101h0M113 114h0M109 121h0M123 118h0M105 90h0M113 112h0M123 125h0M132 122h0M103 141h0M114 110h0M120 102h0M119 146h0M112 133h0M124 131h0M130 150h0M108 118h0M122 123h0M120 105h0M128 132h0M111 154h0M115 128h0M113 113h0M106 114h0M120 153h0M117 157h0M115 155h0M100 105h0M108 101h0M124 134h0M122 145h0M98 117h0M94 168h0M121 159h0M114 128h0M110 124h0M119 128h0M111 106h0M104 121h0M116 148h0M117 171h0M113 135h0M128 139h0M128 136h0M100 128h0M118 134h0M94 117h0M104 130h0M361 99h0M386 93h0M370 88h0M356 90h0M350 88h0M378 113h0M349 104h0M355 95h0M365 99h0M372 95h0M370 99h0M349 79h0M377 107h0M365 115h0M371 102h0M378 117h0M375 102h0M375 107h0M386 122h0M367 92h0M346 93h0M370 113h0M368 112h0M364 92h0M372 101h0M351 91h0M389 109h0M375 76h0M369 114h0M357 108h0M352 96h0M347 92h0M361 109h0M364 120h0M376 119h0M367 116h0M378 111h0M386 98h0M370 103h0M362 104h0M371 120h0M370 113h0M373 111h0M358 107h0M365 104h0M358 117h0M386 91h0M385 114h0M371 118h0M375 116h0M355 103h0M374 104h0M366 108h0M353 104h0M362 109h0M381 111h0M369 90h0M355 92h0M361 97h0M361 95h0M370 99h0M376 104h0M379 91h0M386 100h0M367 100h0M353 102h0M375 113h0M383 100h0M368 107h0M371 107h0M385 117h0M357 108h0M362 113h0M375 88h0M360 82h0M373 116h0M356 101h0M373 108h0M373 97h0M361 97h0M366 86h0M361 99h0M358 106h0M366 113h0M348 109h0M361 115h0M365 101h0M364 96h0M361 102h0M375 133h0M369 127h0M369 114h0M374 92h0M348 111h0M353 100h0M347 118h0M362 108h0M359 92h0M364 118h0M362 121h0M358 100h0M376 98h0M371 101h0M383 104h0M371 103h0M388 93h0M366 119h0M380 99h0M386 103h0M372 104h0M366 103h0M374 122h0M352 88h0M375 111h0M370 108h0M378 98h0M364 102h0M390 99h0M357 86h0M349 108h0M355 110h0M359 99h0M360 109h0M371 114h0M385 100h0M364 106h0M388 101h0M387 96h0M360 91h0M366 109h0M371 93h0M374 99h0M369 120h0M384 119h0M375 120h0M374 104h0M360 96h0M354 91h0M364 96h0M356 101h0M368 94h0M367 111h0M374 110h0M374 134h0M379 97h0M359 80h0M372 93h0M382 100h0M352 104h0M372 109h0M378 103h0M363 122h0M364 108h0M351 103h0M364 105h0M376 101h0M360 91h0M361 111h0M351 89h0M382 99h0M366 121h0M386 83h0M361 104h0M348 107h0M354 96h0M370 102h0M370 119h0M360 104h0M360 110h0M367 106h0M351 101h0M388 88h0M355 100h0M361 112h0M357 103h0M377 112h0M367 121h0M368 109h0M378 93h0M362 97h0M362 94h0M352 102h0M363 106h0M367 130h0M366 104h0M348 125h0M377 81h0M363 107h0M366 103h0M367 111h0M369 104h0M364 104h0M357 117h0M376 107h0M362 94h0M365 106h0M380 109h0M360 93h0M356 120h0M376 109h0M364 120h0M389 109h0M358 99h0M348 127h0M373 96h0M365 93h0M351 92h0M357 109h0M373 129h0M360 98h0M359 95h0M353 105h0M356 108h0M369 86h0M382 108h0M355 93h0M390 116h0M367 101h0M375 117h0M361 105h0M383 108h0M358 113h0M353 112h0M375 107h0M389 121h0M369 108h0M354 95h0M384 112h0M351 116h0M357 113h0M351 96h0M370 99h0M353 104h0M374 108h0M355 104h0M379 105h0M376 109h0M365 103h0M359 108h0M364 91h0M375 81h0M355 97h0M369 86h0M360 98h0M376 115h0M357 100h0M366 113h0M371 119h0M363 103h0M370 103h0M364 112h0M358 112h0M347 121h0M355 88h0M380 104h0M352 120h0M376 92h0M379 111h0M370 96h0M389 80h0M358 107h0M366 100h0M359 95h0M376 106h0M360 104h0M351 117h0M368 115h0M361 105h0M385 103h0M377 113h0M351 112h0M365 89h0M391 112h0M364 118h0M360 113h0M390 95h0M350 98h0M352 97h0M380 107h0M359 114h0M383 93h0M389 107h0M384 108h0M361 107h0M349 113h0M358 118h0M351 103h0M365 103h0M365 110h0M366 123h0M371 102h0M359 104h0M368 110h0M387 92h0M357 96h0M367 101h0M364 105h0M368 103h0M365 101h0M359 102h0M367 106h0M358 104h0M371 111h0M369 104h0M372 100h0M384 116h0M381 105h0M375 112h0M364 100h0M365 105h0M378 129h0M376 102h0M375 75h0M357 101h0M353 110h0M359 100h0M388 95h0M368 101h0M366 108h0M366 88h0M349 117h0M367 103h0M362 95h0M369 108h0M368 109h0M380 110h0M357 101h0M368 89h0M347 113h0M354 107h0M386 104h0M386 105h0M387 103h0M366 127h0M376 102h0M352 105h0M370 100h0M385 113h0M362 103h0M375 95h0M367 116h0M383 105h0M363 124h0M355 95h0M348 100h0M349 109h0M359 121h0M350 111h0M387 106h0M371 124h0M372 107h0M353 106h0M360 120h0M361 115h0M352 105h0M374 109h0M361 104h0M377 94h0M373 91h0M387 108h0M375 98h0M350 100h0M374 106h0M362 110h0M362 110h0M351 110h0M366 104h0M388 102h0M372 104h0M378 118h0M361 111h0M383 105h0M372 97h0M381 104h0M376 97h0M352 86h0M363 116h0M347 96h0M366 82h0M354 106h0M363 133h0M370 105h0M359 76h0M370 117h0M358 104h0M377 114h0M363 96h0M382 118h0M370 78h0M363 109h0M379 96h0M389 99h0M358 109h0M362 104h0M372 94h0M385 105h0M351 110h0M374 102h0M361 92h0M385 104h0M376 97h0M354 101h0M376 101h0M361 106h0M379 120h0M367 107h0M355 103h0M348 111h0M390 109h0M360 96h0M382 88h0M367 99h0M359 110h0M366 117h0M379 122h0M369 119h0M351 120h0M352 94h0M375 100h0M361 120h0M362 100h0M359 109h0M360 103h0M372 128h0M370 89h0M365 111h0M376 117h0M377 97h0M383 124h0M364 120h0M372 104h0M386 99h0M355 112h0M358 106h0M387 111h0M347 119h0M362 97h0M384 97h0M375 108h0M370 116h0M364 108h0M346 127h0M356 101h0M383 114h0M356 102h0M370 97h0M375 103h0M355 113h0M365 109h0M372 127h0M362 91h0M390 111h0M351 102h0M357 109h0M368 111h0M349 96h0M379 96h0M353 95h0M361 101h0M353 111h0M357 106h0M352 99h0M356 114h0M353 99h0M353 109h0M357 98h0M359 90h0M385 107h0M361 119h0M357 100h0M368 109h0M365 92h0M388 110h0M381 123h0M378 98h0M371 99h0M382 109h0M377 107h0M347 97h0M364 103h0M351 101h0M357 87h0M366 121h0M365 100h0M366 128h0M367 85h0M370 122h0M367 106h0M368 113h0M364 98h0M359 92h0M386 121h0M367 88h0M352 102h0M351 105h0M376 117h0M361 97h0M355 112h0M362 107h0M367 100h0M374 99h0M382 117h0M370 118h0M366 99h0M371 95h0M361 113h0M372 91h0M368 111h0M364 105h0M359 113h0M353 106h0M352 110h0M352 98h0M355 93h0M363 102h0M383 123h0M370 114h0M363 107h0M369 95h0M377 107h0M357 110h0M367 95h0M372 101h0M362 101h0M381 91h0M366 125h0M357 129h0M376 99h0M375 102h0M366 94h0M368 94h0M366 107h0M367 92h0M412 160h0M409 151h0M413 150h0M401 174h0M414 172h0M417 165h0M420 184h0M408 173h0M401 166h0M412 172h0M400 157h0M409 174h0M399 168h0M398 180h0M416 184h0M401 181h0M401 174h0M409 187h0M409 184h0M401 187h0M413 184h0M414 183h0M398 189h0M408 178h0M409 172h0M415 175h0M402 186h0M411 169h0M407 156h0M408 168h0M409 174h0M410 180h0M410 185h0M402 180h0M404 179h0M400 168h0M401 181h0M414 181h0M410 166h0M402 180h0M410 171h0M413 177h0M409 170h0M411 178h0M412 189h0M407 190h0M408 185h0M414 182h0M409 182h0M417 155h0M405 176h0M410 186h0M411 188h0M411 174h0M402 180h0M405 180h0M405 171h0M418 189h0M401 177h0M404 172h0M415 185h0M398 174h0M406 167h0M409 182h0M408 177h0M397 182h0M424 188h0M418 167h0M415 167h0M409 170h0M406 184h0M405 180h0M414 158h0M401 179h0M414 172h0M417 178h0M408 177h0M415 165h0M408 180h0M407 189h0M405 158h0M413 159h0M411 170h0M419 164h0M419 189h0M408 173h0M419 172h0M395 182h0M406 179h0M396 171h0M396 187h0M403 166h0M409 171h0M420 169h0M408 163h0M399 173h0M409 180h0M405 182h0M396 168h0M397 175h0M404 189h0M407 178h0M396 166h0M410 174h0M404 184h0M415 171h0M414 182h0M410 151h0M416 186h0M405 184h0M409 164h0M405 182h0M404 183h0M413 181h0M407 188h0M406 169h0M400 177h0M419 166h0M414 187h0M410 173h0M402 180h0M403 170h0M400 186h0M405 188h0M405 181h0M401 181h0M415 182h0M398 172h0M415 183h0M399 181h0M408 180h0M411 162h0M408 178h0M407 188h0M406 173h0M411 184h0M404 178h0M409 164h0M423 184h0M412 178h0M404 184h0M419 167h0M415 184h0M417 165h0M412 189h0M401 185h0M409 154h0M396 188h0M413 178h0M411 171h0M405 152h0M407 184h0M395 187h0M405 180h0M404 157h0M412 190h0M408 183h0M416 182h0M399 187h0M413 189h0M409 157h0M397 176h0M412 166h0M405 190h0M411 176h0M407 179h0M411 171h0M398 182h0M409 175h0M416 164h0M409 174h0M405 178h0M402 182h0M412 186h0M419 179h0M407 168h0M413 187h0M405 172h0M412 183h0M413 185h0M405 190h0M413 187h0M408 163h0M420 186h0M415 171h0M408 163h0M397 181h0M417 164h0M418 188h0M396 185h0M412 177h0M409 164h0M412 187h0M401 186h0M403 161h0M408 175h0M410 179h0M413 178h0M417 165h0M406 186h0M399 146h0M410 181h0M413 173h0M414 184h0M418 177h0M398 165h0M408 177h0M400 157h0M411 182h0M411 187h0M407 177h0M416 190h0M404 168h0M410 174h0M413 179h0M411 186h0M402 178h0M401 172h0M410 175h0M413 186h0M408 156h0M414 183h0M399 173h0M420 158h0M413 187h0M402 163h0M411 160h0M405 173h0M405 171h0M409 176h0M402 188h0M409 180h0M415 142h0M413 184h0M417 170h0M410 184h0M407 189h0M414 188h0M404 168h0M418 181h0M405 177h0M402 167h0M418 188h0M403 180h0M410 171h0M407 179h0M416 181h0M410 170h0M402 186h0M414 178h0M402 159h0M413 189h0M407 180h0M416 186h0M401 179h0M403 159h0M400 167h0M420 173h0M409 174h0M405 172h0M411 182h0M405 173h0M407 185h0M424 175h0M406 178h0M407 165h0M412 174h0M414 153h0M398 180h0M415 179h0M413 181h0M399 169h0M424 145h0M419 174h0M395 172h0M410 185h0M406 166h0M406 171h0M399 183h0M412 170h0M413 182h0M399 179h0M396 154h0M406 179h0M407 186h0M406 177h0M415 185h0M403 176h0M409 189h0M410 167h0M395 177h0M417 179h0M399 189h0M416 168h0M408 188h0M398 172h0M424 152h0M412 159h0M406 163h0M402 155h0M415 184h0M409 175h0M415 181h0M411 167h0M406 166h0M405 162h0M414 151h0M405 180h0M397 189h0M405 180h0M409 174h0M410 186h0M414 187h0M411 188h0M409 163h0M406 175h0M399 188h0M403 150h0M410 187h0M408 186h0M405 189h0M406 174h0M405 185h0M401 178h0M412 179h0M408 164h0M414 186h0M404 172h0M407 173h0M419 183h0M402 162h0M417 174h0M403 186h0M405 181h0M411 175h0M406 176h0M410 183h0M424 181h0M417 184h0M401 152h0M411 167h0M419 181h0M417 152h0M422 163h0M414 190h0M415 159h0M432 154h0M423 187h0M416 173h0M405 170h0M411 166h0M396 171h0M411 171h0M416 190h0M418 159h0M418 171h0M436 167h0M405 178h0M399 168h0M415 175h0M396 187h0M419 164h0M399 182h0M408 164h0M416 180h0M412 175h0M420 182h0M418 169h0M410 174h0M419 167h0M398 168h0M401 169h0M410 187h0M424 162h0M421 185h0M400 122h0M402 106h0M412 87h0M412 119h0M422 108h0M400 107h0M402 103h0M355 150h0M380 147h0M361 140h0M371 141h0M365 157h0M347 154h0M366 145h0M98 365h0M91 366h0M98 365h0M95 368h0M102 368h0M91 367h0M101 363h0M91 363h0M104 369h0M102 363h0M100 367h0M94 373h0M79 373h0M105 359h0M98 362h0M101 357h0M93 358h0M107 369h0M98 362h0M93 365h0M86 368h0M97 362h0M104 360h0M95 372h0M94 373h0M95 376h0M112 354h0M100 371h0M102 359h0M98 368h0M92 368h0M90 366h0M103 364h0M99 369h0M104 360h0M107 356h0M96 364h0M101 365h0M101 364h0M94 372h0M88 372h0M94 365h0M91 370h0M91 368h0M95 370h0M108 357h0M101 360h0M102 368h0M96 372h0M87 370h0M111 363h0M110 359h0M97 371h0M98 360h0M93 372h0M94 375h0M95 361h0M96 363h0M106 360h0M101 362h0M90 370h0M111 361h0M102 354h0M92 370h0M92 373h0M100 369h0M100 362h0M86 365h0M82 375h0M105 365h0M91 368h0M83 372h0M90 372h0M95 369h0M101 363h0M99 368h0M98 366h0M102 362h0M94 371h0M98 363h0M93 370h0M91 370h0M97 367h0M89 362h0M97 369h0M96 368h0M105 369h0M93 361h0M92 364h0M95 369h0M98 367h0M82 373h0M90 364h0M104 356h0M92 374h0M99 370h0M101 364h0M89 364h0M101 363h0M106 365h0M92 372h0M98 368h0M109 360h0M95 371h0M97 364h0M95 357h0M95 360h0M93 368h0M84 368h0M96 364h0M88 368h0M97 363h0M90 375h0M100 371h0M104 369h0M97 366h0M104 367h0M96 368h0M97 361h0M105 365h0M103 359h0M103 372h0M96 367h0M93 368h0M90 368h0M103 359h0M107 366h0M95 360h0M93 365h0M97 360h0M99 365h0M84 375h0M110 368h0M99 364h0M104 370h0M97 357h0M94 371h0M84 372h0M96 368h0M94 372h0M84 369h0M92 367h0M98 371h0M99 362h0M101 360h0M106 360h0M104 356h0M95 367h0M102 359h0M91 368h0M90 371h0M94 370h0M91 366h0M101 361h0M98 366h0M95 367h0M98 363h0M100 367h0M102 369h0M107 367h0M104 361h0M96 363h0M102 364h0M98 370h0M97 366h0M110 357h0M108 355h0M90 370h0M96 368h0M85 372h0M98 372h0M90 365h0M92 371h0M108 357h0M93 373h0M96 365h0M91 364h0M94 365h0M104 372h0M100 370h0M99 364h0M104 366h0M90 372h0M98 359h0M91 375h0M93 374h0M94 365h0M81 382h0M93 371h0M110 360h0M92 365h0M93 370h0M100 359h0M88 370h0M91 374h0M82 372h0M94 377h0M111 356h0M96 374h0M102 363h0M87 366h0M98 368h0M109 365h0M91 364h0M111 358h0M95 367h0M90 373h0M103 365h0M92 376h0M89 362h0M97 361h0M101 365h0M94 362h0M95 376h0M91 367h0M110 362h0M101 360h0M102 365h0M87 365h0M95 370h0M84 374h0M95 374h0M100 362h0M92 365h0M97 362h0M106 364h0M103 358h0M90 362h0M82 372h0M107 363h0M84 365h0M101 359h0M98 372h0M108 369h0M96 368h0M99 368h0M87 373h0M109 348h0M94 366h0M104 358h0M95 366h0M109 364h0M97 359h0M96 360h0M97 361h0M94 376h0M83 371h0M91 364h0M94 368h0M99 369h0M93 368h0M98 374h0M83 374h0M89 375h0M99 372h0M93 361h0M110 366h0M109 357h0M96 372h0M90 366h0M80 366h0M95 373h0M108 355h0M97 371h0M85 377h0M107 361h0M89 370h0M100 360h0M105 360h0M91 366h0M90 371h0M90 368h0M97 363h0M96 363h0M104 361h0M101 368h0M87 371h0M89 374h0M97 366h0M89 363h0M88 379h0M95 365h0M93 372h0M103 356h0M90 371h0M88 372h0M106 362h0M95 367h0M90 375h0M99 355h0M96 358h0M93 370h0M93 366h0M91 367h0M94 375h0M96 359h0M99 363h0M93 367h0M95 359h0M102 365h0M90 371h0M89 368h0M107 363h0M94 375h0M86 371h0M93 359h0M103 359h0M96 362h0M107 363h0M90 362h0M97 370h0M96 370h0M95 364h0M94 369h0M94 372h0M97 368h0M112 365h0M102 372h0M92 364h0M91 365h0M97 370h0M84 366h0M90 373h0M87 365h0M81 380h0M103 375h0M93 369h0M96 374h0M98 366h0M90 371h0M93 371h0M88 369h0M101 359h0M99 361h0M103 361h0M105 365h0M93 372h0M101 363h0M96 365h0M83 381h0M91 370h0M91 366h0M103 359h0M95 366h0M96 368h0M105 357h0M101 369h0M103 362h0M92 369h0M106 366h0M100 369h0M98 361h0M100 356h0M82 370h0M92 358h0M91 371h0M105 356h0M101 366h0M102 371h0M101 362h0M95 369h0M88 372h0M104 363h0M94 366h0M99 364h0M92 359h0M110 350h0M96 362h0M111 362h0M92 364h0M112 360h0M104 359h0M89 368h0M88 370h0M89 368h0M101 369h0M98 363h0M99 369h0M98 369h0M83 373h0M102 361h0M101 367h0M100 367h0M95 361h0M95 365h0M97 372h0M94 368h0M83 356h0M81 365h0M99 356h0M101 369h0M95 360h0M89 367h0M92 374h0M93 385h0M88 373h0M89 373h0M93 363h0M98 352h0M82 345h0M88 377h0M97 354h0M101 354h0M112 387h0M107 355h0M102 361h0M96 366h0M92 369h0M105 350h0M97 383h0M89 384h0M99 366h0M112 366h0M94 365h0M85 365h0M112 364h0M112 363h0M99 360h0M100 355h0M114 372h0M112 364h0M47 435h0M72 432h0M46 429h0M44 418h0M58 429h0M36 423h0M50 428h0M58 398h0M42 432h0M38 409h0M56 433h0M58 413h0M55 430h0M57 414h0M45 428h0M60 412h0M46 422h0M41 417h0M60 425h0M70 430h0M60 413h0M41 420h0M52 419h0M60 422h0M59 415h0M71 427h0M58 433h0M47 431h0M45 434h0M68 427h0M73 429h0M45 432h0M45 430h0M62 418h0M59 428h0M52 420h0M50 406h0M49 430h0M48 427h0M36 428h0M47 435h0M58 429h0M65 419h0M44 420h0M60 425h0M73 416h0M56 417h0M57 424h0M38 427h0M49 424h0M40 413h0M50 429h0M48 427h0M43 421h0M42 420h0M72 430h0M58 424h0M70 434h0M69 428h0M38 415h0M65 425h0M48 414h0M45 420h0M60 427h0M62 420h0M39 422h0M64 419h0M41 413h0M64 423h0M62 421h0M44 420h0M50 430h0M69 417h0M44 419h0M65 431h0M50 410h0M73 417h0M37 429h0M54 426h0M44 423h0M55 428h0M37 422h0M46 411h0M50 425h0M56 434h0M50 418h0M53 426h0M56 423h0M57 420h0M68 427h0M43 427h0M42 413h0M61 420h0M50 427h0M61 427h0M58 424h0M64 423h0M65 426h0M37 423h0M60 433h0M46 426h0M59 407h0M59 422h0M41 420h0M51 416h0M43 425h0M61 427h0M44 418h0M72 423h0M44 406h0M39 432h0M45 415h0M52 416h0M70 423h0M53 432h0M54 423h0M45 427h0M47 415h0M41 407h0M46 425h0M42 421h0M73 433h0M47 421h0M37 434h0M52 420h0M59 429h0M50 422h0M50 415h0M54 429h0M53 431h0M71 420h0M48 428h0M56 413h0M49 428h0M43 411h0M54 431h0M61 425h0M53 424h0M42 424h0M57 414h0M37 417h0M43 429h0M65 421h0M55 430h0M56 413h0M54 432h0M40 417h0M40 416h0M60 428h0M48 431h0M74 427h0M61 417h0M37 429h0M56 431h0M55 434h0M65 415h0M39 409h0M41 420h0M42 429h0M44 434h0M44 416h0M60 420h0M66 426h0M38 422h0M61 434h0M40 433h0M47 428h0M49 409h0M70 427h0M40 426h0M50 416h0M65 428h0M65 423h0M66 416h0M51 416h0M66 425h0M56 431h0M62 430h0M39 424h0M45 428h0M46 414h0M46 424h0M63 433h0M54 430h0M41 420h0M48 432h0M56 433h0M44 428h0M70 431h0M44 414h0M60 422h0M65 430h0M61 413h0M36 433h0M44 415h0M43 409h0M49 422h0M48 425h0M37 431h0M44 419h0M65 400h0M52 434h0M57 416h0M51 426h0M57 430h0M64 419h0M52 418h0M59 412h0M51 433h0M57 433h0M54 432h0M63 427h0M43 434h0M54 404h0M42 402h0M72 415h0M48 422h0M58 419h0M71 416h0M54 434h0M50 424h0M38 412h0M49 425h0M56 434h0M48 423h0M37 423h0M56 427h0M52 419h0M57 424h0M46 422h0M52 424h0M48 434h0M54 431h0M43 418h0M52 417h0M71 426h0M61 418h0M59 419h0M41 424h0M51 420h0M54 412h0M75 426h0M37 407h0M52 422h0M40 433h0M61 434h0M62 427h0M56 416h0M59 423h0M45 434h0M49 419h0M40 434h0M60 420h0M37 420h0M50 418h0M49 426h0M52 430h0M59 431h0M38 425h0M47 423h0M39 427h0M52 423h0M38 427h0M62 426h0M53 422h0M62 433h0M46 431h0M48 427h0M44 426h0M43 432h0M64 426h0M53 425h0M66 420h0M45 426h0M44 433h0M71 409h0M55 423h0M41 431h0M60 425h0M73 432h0M45 433h0M43 419h0M46 433h0M37 419h0M63 433h0M45 426h0M41 435h0M55 415h0M60 429h0M61 424h0M55 417h0M50 432h0M50 431h0M53 418h0M61 422h0M48 423h0M59 421h0M55 428h0M48 428h0M38 434h0M58 420h0M57 422h0M47 430h0M59 415h0M65 413h0M64 410h0M43 431h0M44 427h0M53 420h0M53 432h0M52 427h0M63 420h0M52 430h0M56 424h0M44 417h0M58 427h0M53 429h0M40 435h0M51 416h0M43 419h0M53 416h0M49 430h0M52 433h0M43 401h0M55 422h0M62 429h0M53 426h0M46 425h0M43 430h0M68 422h0M38 407h0M61 433h0M51 421h0M59 426h0M92 423h0M91 420h0M102 428h0M100 430h0M95 414h0M89 424h0M100 434h0M104 434h0M93 434h0M85 430h0M90 422h0M95 422h0M96 414h0M95 417h0M103 423h0M104 415h0M96 427h0M100 417h0M82 405h0M100 429h0M83 433h0M83 423h0M102 425h0M90 431h0M95 415h0M95 418h0M89 412h0M98 431h0M116 428h0M85 428h0M114 422h0M98 419h0M99 411h0M105 425h0M82 421h0M100 411h0M87 426h0M106 411h0M105 425h0M89 417h0M92 427h0M104 418h0M95 428h0M105 418h0M100 426h0M102 418h0M100 426h0M79 428h0M99 429h0M94 432h0M90 423h0M95 435h0M105 425h0M88 422h0M99 424h0M85 419h0M104 415h0M98 427h0M87 426h0M90 419h0M92 417h0M97 430h0M95 431h0M92 405h0M97 420h0M97 428h0M90 423h0M114 429h0M88 418h0M91 424h0M91 425h0M96 430h0M104 418h0M95 425h0M103 426h0M78 422h0M97 432h0M101 414h0M101 423h0M102 427h0M112 418h0M93 428h0M96 422h0M105 418h0M91 432h0M111 425h0M92 434h0M99 434h0"/></g></g><line x1="34" y1="36" x2="198" y2="36" stroke="#999" stroke-width="1.2"/><line x1="198" y1="36" x2="198" y2="191" stroke="#444" stroke-width="1.4"/><line x1="34" y1="36" x2="34" y2="192" stroke="#111" stroke-width="1.5"/><line x1="33" y1="191" x2="198" y2="191" stroke="#111" stroke-width="1.5"/><line x1="345" y1="36" x2="508" y2="36" stroke="#aaa" stroke-width="1.2"/><line x1="508" y1="36" x2="508" y2="191" stroke="#333" stroke-width="1.4"/><line x1="345" y1="36" x2="345" y2="192" stroke="#111" stroke-width="1.5"/><line x1="344" y1="191" x2="508" y2="191" stroke="#111" stroke-width="1.5"/><line x1="35" y1="283" x2="198" y2="283" stroke="#333" stroke-width="1.2"/><line x1="198" y1="283" x2="198" y2="436" stroke="#333" stroke-width="1.4"/><line x1="35" y1="283" x2="35" y2="437" stroke="#444" stroke-width="1.5"/><line x1="34" y1="436" x2="198" y2="436" stroke="#111" stroke-width="1.5"/><line x1="302" y1="294" x2="513" y2="294" stroke="#666" stroke-width="1.2"/><line x1="513" y1="294" x2="513" y2="441" stroke="#777" stroke-width="1.4"/><line x1="302" y1="294" x2="302" y2="442" stroke="#111" stroke-width="1.5"/><line x1="301" y1="441" x2="513" y2="441" stroke="#111" stroke-width="1.5"/><g stroke="#333" stroke-width="1.1"><line x1="392.5" y1="36" x2="392.5" y2="191"/><line x1="345" y1="137.5" x2="508" y2="137.5"/><line x1="76" y1="283" x2="76" y2="436"/><line x1="35" y1="392" x2="198" y2="392"/><polyline fill="none" points="76,339 129,339 129,436"/></g><text x="29.5" y="191" font-size="4.6" fill="#444" font-weight="normal" text-anchor="middle" transform="rotate(-90 29.5 191)">0</text><text x="35.0" y="198" font-size="4.6" fill="#444" font-weight="normal" text-anchor="middle">0</text><text x="29.5" y="161" font-size="4.6" fill="#444" font-weight="normal" text-anchor="middle" transform="rotate(-90 29.5 161)">200</text><text x="66.7" y="198" font-size="4.6" fill="#444" font-weight="normal" text-anchor="middle">200</text><text x="29.5" y="131" font-size="4.6" fill="#444" font-weight="normal" text-anchor="middle" transform="rotate(-90 29.5 131)">400</text><text x="98.4" y="198" font-size="4.6" fill="#444" font-weight="normal" text-anchor="middle">400</text><text x="29.5" y="101" font-size="4.6" fill="#444" font-weight="normal" text-anchor="middle" transform="rotate(-90 29.5 101)">600</text><text x="130.1" y="198" font-size="4.6" fill="#444" font-weight="normal" text-anchor="middle">600</text><text x="29.5" y="71" font-size="4.6" fill="#444" font-weight="normal" text-anchor="middle" transform="rotate(-90 29.5 71)">800</text><text x="161.8" y="198" font-size="4.6" fill="#444" font-weight="normal" text-anchor="middle">800</text><text x="29.5" y="41" font-size="4.6" fill="#444" font-weight="normal" text-anchor="middle" transform="rotate(-90 29.5 41)">1000</text><text x="193.5" y="198" font-size="4.6" fill="#444" font-weight="normal" text-anchor="middle">1000</text><path d="M31.5 191h2.5M35.0 191v2M32.5 183.5h1.5M42.9 191v1.5M32.5 176.0h1.5M50.8 191v1.5M32.5 168.5h1.5M58.7 191v1.5M31.5 161h2.5M66.7 191v2M32.5 153.5h1.5M74.6 191v1.5M32.5 146.0h1.5M82.5 191v1.5M32.5 138.5h1.5M90.4 191v1.5M31.5 131h2.5M98.4 191v2M32.5 123.5h1.5M106.3 191v1.5M32.5 116.0h1.5M114.2 191v1.5M32.5 108.5h1.5M122.1 191v1.5M31.5 101h2.5M130.1 191v2M32.5 93.5h1.5M138.0 191v1.5M32.5 86.0h1.5M145.9 191v1.5M32.5 78.5h1.5M153.8 191v1.5M31.5 71h2.5M161.8 191v2M32.5 63.5h1.5M169.7 191v1.5M32.5 56.0h1.5M177.6 191v1.5M32.5 48.5h1.5M185.5 191v1.5M31.5 41h2.5M193.5 191v2M343 191.0H345M343.7 179.3H345M343.7 172.5H345M343.7 167.7H345M343.7 163.9H345M343.7 160.8H345M343.7 158.3H345M343.7 156.0H345M343.7 154.0H345M343 152.2H345M343.7 140.6H345M343.7 133.8H345M343.7 128.9H345M343.7 125.2H345M343.7 122.1H345M343.7 119.5H345M343.7 117.3H345M343.7 115.3H345M343 113.5H345M343.7 101.8H345M343.7 95.0H345M343.7 90.2H345M343.7 86.4H345M343.7 83.3H345M343.7 80.8H345M343.7 78.5H345M343.7 76.5H345M343 74.8H345M343.7 63.1H345M343.7 56.3H345M343.7 51.4H345M343.7 47.7H345M343.7 44.6H345M343.7 42.0H345M343.7 39.8H345M343.7 37.8H345M345.0 191V193M357.3 191V192.3M364.4 191V192.3M369.5 191V192.3M373.5 191V192.3M376.7 191V192.3M379.4 191V192.3M381.8 191V192.3M383.9 191V192.3M385.8 191V193M398.0 191V192.3M405.2 191V192.3M410.3 191V192.3M414.2 191V192.3M417.5 191V192.3M420.2 191V192.3M422.6 191V192.3M424.6 191V192.3M426.5 191V193M438.8 191V192.3M445.9 191V192.3M451.0 191V192.3M455.0 191V192.3M458.2 191V192.3M460.9 191V192.3M463.3 191V192.3M465.4 191V192.3M467.2 191V193M479.5 191V192.3M486.7 191V192.3M491.8 191V192.3M495.7 191V192.3M499.0 191V192.3M501.7 191V192.3M504.1 191V192.3M506.1 191V192.3M33 436.0H35M33.7 424.5H35M33.7 417.8H35M33.7 413.0H35M33.7 409.3H35M33.7 406.2H35M33.7 403.7H35M33.7 401.5H35M33.7 399.5H35M33 397.8H35M33.7 386.2H35M33.7 379.5H35M33.7 374.7H35M33.7 371.0H35M33.7 368.0H35M33.7 365.4H35M33.7 363.2H35M33.7 361.3H35M33 359.5H35M33.7 348.0H35M33.7 341.3H35M33.7 336.5H35M33.7 332.8H35M33.7 329.7H35M33.7 327.2H35M33.7 325.0H35M33.7 323.0H35M33 321.2H35M33.7 309.7H35M33.7 303.0H35M33.7 298.2H35M33.7 294.5H35M33.7 291.5H35M33.7 288.9H35M33.7 286.7H35M33.7 284.8H35M35.0 436V438M47.3 436V437.3M54.4 436V437.3M59.5 436V437.3M63.5 436V437.3M66.7 436V437.3M69.4 436V437.3M71.8 436V437.3M73.9 436V437.3M75.8 436V438M88.0 436V437.3M95.2 436V437.3M100.3 436V437.3M104.2 436V437.3M107.5 436V437.3M110.2 436V437.3M112.6 436V437.3M114.6 436V437.3M116.5 436V438M128.8 436V437.3M135.9 436V437.3M141.0 436V437.3M145.0 436V437.3M148.2 436V437.3M150.9 436V437.3M153.3 436V437.3M155.4 436V437.3M157.2 436V438M169.5 436V437.3M176.7 436V437.3M181.8 436V437.3M185.7 436V437.3M189.0 436V437.3M191.7 436V437.3M194.1 436V437.3M196.1 436V437.3M300 441.0H302M300.7 426.2H302M300.7 417.6H302M300.7 411.5H302M300.7 406.8H302M300.7 402.9H302M300.7 399.6H302M300.7 396.7H302M300.7 394.2H302M300 392.0H302M300.7 377.2H302M300.7 368.6H302M300.7 362.5H302M300.7 357.8H302M300.7 353.9H302M300.7 350.6H302M300.7 347.7H302M300.7 345.2H302M300 343.0H302M300.7 328.2H302M300.7 319.6H302M300.7 313.5H302M300.7 308.8H302M300.7 304.9H302M300.7 301.6H302M300.7 298.7H302M300.7 296.2H302M302.0 441V443M323.2 441V442.3M335.5 441V442.3M344.3 441V442.3M351.1 441V442.3M356.7 441V442.3M361.4 441V442.3M365.5 441V442.3M369.1 441V442.3M372.3 441V443M393.5 441V442.3M405.8 441V442.3M414.6 441V442.3M421.4 441V442.3M427.0 441V442.3M431.7 441V442.3M435.8 441V442.3M439.4 441V442.3M442.6 441V443M463.8 441V442.3M476.1 441V442.3M484.9 441V442.3M491.7 441V442.3M497.3 441V442.3M502.0 441V442.3M506.1 441V442.3M509.7 441V442.3" stroke="#333" stroke-width="0.8" fill="none"/><text x="345.5" y="197" font-size="4.6" fill="#444" font-weight="normal" text-anchor="middle">10<tspan dy="-1.8" font-size="3.6">0</tspan></text><text x="340.5" y="191.0" font-size="4.6" fill="#444" font-weight="normal" text-anchor="middle" transform="rotate(-90 340.5 191.0)">10<tspan dy="-1.8" font-size="3.6">0</tspan></text><text x="37" y="445" font-size="4.6" fill="#444" font-weight="normal" text-anchor="middle">10<tspan dy="-1.8" font-size="3.6">0</tspan></text><text x="30.5" y="436.0" font-size="4.6" fill="#444" font-weight="normal" text-anchor="middle" transform="rotate(-90 30.5 436.0)">10<tspan dy="-1.8" font-size="3.6">0</tspan></text><text x="386.0" y="197" font-size="4.6" fill="#444" font-weight="normal" text-anchor="middle">10<tspan dy="-1.8" font-size="3.6">1</tspan></text><text x="340.5" y="152.5" font-size="4.6" fill="#444" font-weight="normal" text-anchor="middle" transform="rotate(-90 340.5 152.5)">10<tspan dy="-1.8" font-size="3.6">1</tspan></text><text x="77" y="445" font-size="4.6" fill="#444" font-weight="normal" text-anchor="middle">10<tspan dy="-1.8" font-size="3.6">1</tspan></text><text x="30.5" y="397.7" font-size="4.6" fill="#444" font-weight="normal" text-anchor="middle" transform="rotate(-90 30.5 397.7)">10<tspan dy="-1.8" font-size="3.6">1</tspan></text><text x="426.5" y="197" font-size="4.6" fill="#444" font-weight="normal" text-anchor="middle">10<tspan dy="-1.8" font-size="3.6">2</tspan></text><text x="340.5" y="114.0" font-size="4.6" fill="#444" font-weight="normal" text-anchor="middle" transform="rotate(-90 340.5 114.0)">10<tspan dy="-1.8" font-size="3.6">2</tspan></text><text x="117" y="445" font-size="4.6" fill="#444" font-weight="normal" text-anchor="middle">10<tspan dy="-1.8" font-size="3.6">2</tspan></text><text x="30.5" y="359.4" font-size="4.6" fill="#444" font-weight="normal" text-anchor="middle" transform="rotate(-90 30.5 359.4)">10<tspan dy="-1.8" font-size="3.6">2</tspan></text><text x="467.0" y="197" font-size="4.6" fill="#444" font-weight="normal" text-anchor="middle">10<tspan dy="-1.8" font-size="3.6">3</tspan></text><text x="340.5" y="75.5" font-size="4.6" fill="#444" font-weight="normal" text-anchor="middle" transform="rotate(-90 340.5 75.5)">10<tspan dy="-1.8" font-size="3.6">3</tspan></text><text x="157" y="445" font-size="4.6" fill="#444" font-weight="normal" text-anchor="middle">10<tspan dy="-1.8" font-size="3.6">3</tspan></text><text x="30.5" y="321.1" font-size="4.6" fill="#444" font-weight="normal" text-anchor="middle" transform="rotate(-90 30.5 321.1)">10<tspan dy="-1.8" font-size="3.6">3</tspan></text><text x="507.5" y="197" font-size="4.6" fill="#444" font-weight="normal" text-anchor="middle">10<tspan dy="-1.8" font-size="3.6">4</tspan></text><text x="340.5" y="37.0" font-size="4.6" fill="#444" font-weight="normal" text-anchor="middle" transform="rotate(-90 340.5 37.0)">10<tspan dy="-1.8" font-size="3.6">4</tspan></text><text x="197" y="445" font-size="4.6" fill="#444" font-weight="normal" text-anchor="middle">10<tspan dy="-1.8" font-size="3.6">4</tspan></text><text x="30.5" y="282.8" font-size="4.6" fill="#444" font-weight="normal" text-anchor="middle" transform="rotate(-90 30.5 282.8)">10<tspan dy="-1.8" font-size="3.6">4</tspan></text><text x="304.0" y="448" font-size="4.6" fill="#444" font-weight="normal" text-anchor="middle">10<tspan dy="-1.8" font-size="3.6">0</tspan></text><text x="296.5" y="441" font-size="4.6" fill="#444" font-weight="normal" text-anchor="middle" transform="rotate(-90 296.5 441)">10<tspan dy="-1.8" font-size="3.6">0</tspan></text><text x="371.5" y="448" font-size="4.6" fill="#444" font-weight="normal" text-anchor="middle">10<tspan dy="-1.8" font-size="3.6">1</tspan></text><text x="296.5" y="392" font-size="4.6" fill="#444" font-weight="normal" text-anchor="middle" transform="rotate(-90 296.5 392)">10<tspan dy="-1.8" font-size="3.6">1</tspan></text><text x="439.0" y="448" font-size="4.6" fill="#444" font-weight="normal" text-anchor="middle">10<tspan dy="-1.8" font-size="3.6">2</tspan></text><text x="296.5" y="343" font-size="4.6" fill="#444" font-weight="normal" text-anchor="middle" transform="rotate(-90 296.5 343)">10<tspan dy="-1.8" font-size="3.6">2</tspan></text><text x="506.5" y="448" font-size="4.6" fill="#444" font-weight="normal" text-anchor="middle">10<tspan dy="-1.8" font-size="3.6">3</tspan></text><text x="296.5" y="294" font-size="4.6" fill="#444" font-weight="normal" text-anchor="middle" transform="rotate(-90 296.5 294)">10<tspan dy="-1.8" font-size="3.6">3</tspan></text><text x="6.5" y="19.2" font-size="25" font-weight="bold" text-anchor="start" transform="translate(6.5 0) scale(1.06 1) translate(-6.5 0)">A</text><text x="6.5" y="513" font-size="24" font-weight="bold" text-anchor="start" >B</text><text x="21.5" y="116.5" font-size="16" font-weight="bold" text-anchor="middle" transform="rotate(-90 21.5 116.5)" letter-spacing="0.3">SCC Height</text><text x="116" y="214.3" font-size="16" font-weight="bold" text-anchor="middle" letter-spacing="0.5">FSC Height</text><text x="333" y="118.5" font-size="16.5" font-weight="bold" text-anchor="middle" transform="rotate(-90 333 118.5)" >H-2KD&#160;&#160; PE</text><text x="425" y="214.5" font-size="16" font-weight="bold" text-anchor="middle" >H-2KB&#160;&#160; FITC</text><text x="22.5" y="362" font-size="16.5" font-weight="bold" text-anchor="middle" transform="rotate(-90 22.5 362)" >CD45.1&#160;&#160; PE</text><text x="115" y="460.5" font-size="16" font-weight="bold" text-anchor="middle" >H-2KB&#160;&#160; FITC</text><text x="288" y="372.5" font-size="19.4" font-weight="bold" text-anchor="middle" transform="rotate(-90 288 372.5)" >Counts</text><text x="437" y="466.8" font-size="18" font-weight="bold" text-anchor="middle" >CD45.1&#160;&#160;&#160; PE</text><text x="345" y="48.8" font-size="14.4" font-weight="normal">52.47%</text><text x="507.9" y="49" font-size="14.4" font-weight="normal" text-anchor="end">0.79%</text><text x="347.8" y="190" font-size="14.4" font-weight="normal">1.21%</text><text x="508.5" y="189.8" font-size="14.4" font-weight="normal" text-anchor="end">45.53%</text><text x="406.3" y="331.7" font-size="14.4" font-weight="normal">63.87%</text><g stroke="#222" stroke-width="1.3"><line x1="392.5" y1="342" x2="465" y2="342"/><line x1="392.5" y1="338" x2="392.5" y2="346.5"/><line x1="465" y1="338" x2="465" y2="346.5"/></g><g fill="#000"><rect x="158.5" y="370.5" width="4.6" height="10.2"/><rect x="164.8" y="370.5" width="6.4" height="10.2"/><rect x="174.3" y="370.5" width="56" height="10.2"/><polygon points="228.7,365.2 253.7,375.5 228.7,386"/></g><polygon fill="#000" points="302,441 302.0,385.0 302.9,385.0 302.9,385.0 303.8,385.0 303.8,385.0 304.7,385.0 304.7,394.4 305.6,394.4 305.6,397.4 306.5,397.4 306.5,395.7 307.4,395.7 307.4,398.0 308.3,398.0 308.3,398.3 309.2,398.3 309.2,392.7 310.1,392.7 310.1,392.1 311.0,392.1 311.0,400.4 311.9,400.4 311.9,394.6 312.8,394.6 312.8,394.3 313.7,394.3 313.7,402.0 314.6,402.0 314.6,396.7 315.5,396.7 315.5,400.4 316.4,400.4 316.4,396.8 317.3,396.8 317.3,398.4 318.2,398.4 318.2,393.5 319.1,393.5 319.1,398.3 320.0,398.3 320.0,400.7 320.9,400.7 320.9,397.2 321.8,397.2 321.8,399.4 322.7,399.4 322.7,398.7 323.6,398.7 323.6,392.6 324.5,392.6 324.5,399.6 325.4,399.6 325.4,397.9 326.3,397.9 326.3,395.0 327.2,395.0 327.2,392.3 328.1,392.3 328.1,400.7 329.0,400.7 329.0,396.7 329.9,396.7 329.9,399.2 330.8,399.2 330.8,400.8 331.7,400.8 331.7,418.1 332.6,418.1 332.6,420.2 333.5,420.2 333.5,414.9 334.4,414.9 334.4,419.0 335.3,419.0 335.3,415.4 336.2,415.4 336.2,420.4 337.1,420.4 337.1,419.8 338.0,419.8 338.0,412.0 338.9,412.0 338.9,412.4 339.8,412.4 339.8,413.2 340.7,413.2 340.7,420.7 341.6,420.7 341.6,415.4 342.5,415.4 342.5,427.6 343.4,427.6 343.4,424.7 344.3,424.7 344.3,426.6 345.2,426.6 345.2,425.5 346.1,425.5 346.1,425.2 347.0,425.2 347.0,427.3 347.9,427.3 347.9,427.3 348.8,427.3 348.8,412.0 349.7,412.0 349.7,412.0 350.6,412.0 350.6,430.1 351.5,430.1 351.5,428.1 352.4,428.1 352,441"/><polygon fill="#000" points="397.3,441 397.3,440.6 398.1,440.6 398.1,434.1 398.9,434.1 398.9,428.5 399.7,428.5 399.7,420.7 400.5,420.7 400.5,413.0 401.3,413.0 401.3,412.0 402.1,412.0 402.1,408.1 402.9,408.1 402.9,406.0 403.7,406.0 403.7,405.3 404.5,405.3 404.5,407.4 405.3,407.4 405.3,407.1 406.1,407.1 406.1,411.3 406.9,411.3 406.9,403.5 407.7,403.5 407.7,395.4 408.5,395.4 408.5,392.3 409.3,392.3 409.3,394.2 410.1,394.2 410.1,392.9 410.9,392.9 410.9,386.4 411.7,386.4 411.7,388.0 412.5,388.0 412.5,384.1 413.3,384.1 413.3,380.9 414.1,380.9 414.1,379.7 414.9,379.7 414.9,380.3 415.7,380.3 415.7,379.5 416.5,379.5 416.5,374.1 417.3,374.1 417.3,375.6 418.1,375.6 418.1,371.4 418.9,371.4 418.9,373.5 419.7,373.5 419.7,370.2 420.5,370.2 420.5,372.0 421.3,372.0 421.3,371.5 422.1,371.5 422.1,368.2 422.9,368.2 422.9,369.7 423.7,369.7 423.7,365.8 424.5,365.8 424.5,364.8 425.3,364.8 425.3,367.5 426.1,367.5 426.1,364.8 426.9,364.8 426.9,365.7 427.7,365.7 427.7,366.9 428.5,366.9 428.5,368.1 429.3,368.1 429.3,366.0 430.1,366.0 430.1,365.7 430.9,365.7 430.9,370.1 431.7,370.1 431.7,367.6 432.5,367.6 432.5,371.1 433.3,371.1 433.3,371.1 434.1,371.1 434.1,369.3 434.9,369.3 434.9,371.0 435.7,371.0 435.7,372.5 436.5,372.5 436.5,374.3 437.3,374.3 437.3,375.4 438.1,375.4 438.1,376.7 438.9,376.7 438.9,378.6 439.7,378.6 439.7,381.7 440.5,381.7 440.5,381.1 441.3,381.1 441.3,382.2 442.1,382.2 442.1,385.2 442.9,385.2 442.9,384.4 443.7,384.4 443.7,386.4 444.5,386.4 444.5,391.4 445.3,391.4 445.3,390.7 446.1,390.7 446.1,392.5 446.9,392.5 446.9,391.4 447.7,391.4 447.7,395.3 448.5,395.3 448.5,398.5 449.3,398.5 449.3,398.0 450.1,398.0 450.1,403.4 450.9,403.4 450.9,405.9 451.7,405.9 451.7,406.1 452.5,406.1 452.5,412.2 453.3,412.2 453.3,414.7 454.1,414.7 454.1,419.0 454.9,419.0 454.9,420.8 455.7,420.8 455.7,426.1 456.5,426.1 456.5,429.9 457.3,429.9 457.3,429.8 458.1,429.8 458.1,438.3 458.9,438.3 459,441"/><path d="M307.4 390V405.5M309.3 390V404.4M310.8 390V407.1M312.4 390V409.3M315.7 390V402.7M317.9 390V402.2M320.9 390V404.0M325.4 390V404.0M329.1 390V401.5M330.9 390V409.7M333.1 410V423.3M337.5 410V421.6M340.5 410V425.0M344.5 410V420.1M404.2 401.0V412.4M405.6 404.9V418.8M449.3 395.9V411.9M453.4 410.9V425.2M455.5 419.7V430.4" stroke="#fff" stroke-opacity="0.55" stroke-width="0.7" fill="none"/><g stroke="#000" stroke-width="1.3" fill="none"><line x1="133" y1="509" x2="133" y2="733"/><line x1="133" y1="727" x2="474.2" y2="727"/><line x1="126" y1="726.9" x2="133" y2="726.9"/><line x1="126" y1="672.8" x2="133" y2="672.8"/><line x1="126" y1="618.7" x2="133" y2="618.7"/><line x1="126" y1="564.5" x2="133" y2="564.5"/><line x1="126" y1="510.4" x2="133" y2="510.4"/><line x1="133.0" y1="727" x2="133.0" y2="733.5"/><line x1="161.4" y1="727" x2="161.4" y2="733.5"/><line x1="189.9" y1="727" x2="189.9" y2="733.5"/><line x1="218.3" y1="727" x2="218.3" y2="733.5"/><line x1="246.7" y1="727" x2="246.7" y2="733.5"/><line x1="275.2" y1="727" x2="275.2" y2="733.5"/><line x1="303.6" y1="727" x2="303.6" y2="733.5"/><line x1="332.0" y1="727" x2="332.0" y2="733.5"/><line x1="360.5" y1="727" x2="360.5" y2="733.5"/><line x1="388.9" y1="727" x2="388.9" y2="733.5"/><line x1="417.3" y1="727" x2="417.3" y2="733.5"/><line x1="445.8" y1="727" x2="445.8" y2="733.5"/><line x1="474.2" y1="727" x2="474.2" y2="733.5"/></g><text x="116.5" y="730.8" font-size="15" font-weight="bold" text-anchor="end" letter-spacing="0.8">0</text><text x="116.5" y="676.68" font-size="15" font-weight="bold" text-anchor="end" letter-spacing="0.8">20</text><text x="116.5" y="622.56" font-size="15" font-weight="bold" text-anchor="end" letter-spacing="0.8">40</text><text x="116.5" y="568.4399999999999" font-size="15" font-weight="bold" text-anchor="end" letter-spacing="0.8">60</text><text x="116.5" y="514.3199999999999" font-size="15" font-weight="bold" text-anchor="end" letter-spacing="0.8">80</text><text x="146.0" y="760.2" font-size="15" font-weight="bold" text-anchor="middle" letter-spacing="1.5" dx="1.0">1</text><text x="174.35" y="760.2" font-size="15" font-weight="bold" text-anchor="middle" letter-spacing="1.5" dx="1.0">2</text><text x="202.7" y="760.2" font-size="15" font-weight="bold" text-anchor="middle" letter-spacing="1.5" dx="1.0">3</text><text x="231.05" y="760.2" font-size="15" font-weight="bold" text-anchor="middle" letter-spacing="1.5" dx="1.0">4</text><text x="259.4" y="760.2" font-size="15" font-weight="bold" text-anchor="middle" letter-spacing="1.5" dx="1.0">6</text><text x="287.75" y="760.2" font-size="15" font-weight="bold" text-anchor="middle" letter-spacing="1.5" dx="1.0">8</text><text x="316.1" y="760.2" font-size="15" font-weight="bold" text-anchor="middle" letter-spacing="1.5" dx="1.0">12</text><text x="344.45000000000005" y="760.2" font-size="15" font-weight="bold" text-anchor="middle" letter-spacing="1.5" dx="1.0">16</text><text x="372.8" y="760.2" font-size="15" font-weight="bold" text-anchor="middle" letter-spacing="1.5" dx="1.0">20</text><text x="401.15" y="760.2" font-size="15" font-weight="bold" text-anchor="middle" letter-spacing="1.5" dx="1.0">24</text><text x="429.5" y="760.2" font-size="15" font-weight="bold" text-anchor="middle" letter-spacing="1.5" dx="1.0">36</text><text x="457.85" y="760.2" font-size="15" font-weight="bold" text-anchor="middle" letter-spacing="1.5" dx="1.0">48</text><text x="302.8" y="779.6" font-size="19" font-weight="bold" text-anchor="middle" >weeks after DLI</text><text x="0" y="0" font-size="19" font-weight="bold" text-anchor="middle" transform="translate(95.6 628.7) rotate(-90) scale(0.85 1)">% Postnatal/total donor chimerism</text><polyline fill="none" stroke="#888" stroke-width="2.2" points="147.2,725.5 175.7,725.5 204.1,725.5 232.5,725.5 260.9,725.5 289.4,725.5 317.8,725.5 346.2,725.5 374.7,725.5 403.1,725.5 431.6,725.5 460.0,725.5"/><line x1="133" y1="725.5" x2="474.2" y2="725.5" stroke="#999" stroke-width="2"/><g stroke="#000" stroke-width="1.3"><line x1="147.2" y1="660" x2="147.2" y2="635.8"/><line x1="145.4" y1="635.8" x2="149.0" y2="635.8"/><line x1="147.2" y1="690" x2="147.2" y2="712"/><line x1="145.4" y1="712" x2="149.0" y2="712"/><line x1="147.2" y1="717" x2="147.2" y2="710"/><line x1="145.4" y1="710" x2="149.0" y2="710"/><line x1="175.7" y1="561.8" x2="175.7" y2="530.5"/><line x1="173.8" y1="530.5" x2="177.5" y2="530.5"/><line x1="175.7" y1="614.7" x2="175.7" y2="664.6"/><line x1="173.8" y1="664.6" x2="177.5" y2="664.6"/><line x1="175.7" y1="701.5" x2="175.7" y2="677.3"/><line x1="173.8" y1="677.3" x2="177.5" y2="677.3"/><line x1="204.1" y1="638" x2="204.1" y2="610.6"/><line x1="202.3" y1="610.6" x2="205.9" y2="610.6"/><line x1="204.1" y1="673.8" x2="204.1" y2="705"/><line x1="202.3" y1="705" x2="205.9" y2="705"/><line x1="204.1" y1="717.7" x2="204.1" y2="709.6"/><line x1="202.3" y1="709.6" x2="205.9" y2="709.6"/><line x1="232.5" y1="665.8" x2="232.5" y2="635.8"/><line x1="230.7" y1="635.8" x2="234.3" y2="635.8"/><line x1="232.5" y1="698" x2="232.5" y2="720"/><line x1="230.7" y1="720" x2="234.3" y2="720"/><line x1="260.9" y1="673.9" x2="260.9" y2="630.5"/><line x1="259.1" y1="630.5" x2="262.8" y2="630.5"/><line x1="260.9" y1="700" x2="260.9" y2="720"/><line x1="259.1" y1="720" x2="262.8" y2="720"/><line x1="289.4" y1="664.2" x2="289.4" y2="617.3"/><line x1="287.6" y1="617.3" x2="291.2" y2="617.3"/><line x1="289.4" y1="689.3" x2="289.4" y2="720"/><line x1="287.6" y1="720" x2="291.2" y2="720"/><line x1="317.8" y1="653" x2="317.8" y2="608.8"/><line x1="316.0" y1="608.8" x2="319.6" y2="608.8"/><line x1="317.8" y1="658.8" x2="317.8" y2="709.6"/><line x1="316.0" y1="709.6" x2="319.6" y2="709.6"/><line x1="317.8" y1="722.3" x2="317.8" y2="715.9"/><line x1="316.0" y1="715.9" x2="319.6" y2="715.9"/><line x1="346.2" y1="635.6" x2="346.2" y2="576.4"/><line x1="344.4" y1="576.4" x2="348.1" y2="576.4"/><line x1="346.2" y1="651" x2="346.2" y2="707.5"/><line x1="344.4" y1="707.5" x2="348.1" y2="707.5"/><line x1="374.7" y1="643.5" x2="374.7" y2="580.2"/><line x1="372.9" y1="580.2" x2="376.5" y2="580.2"/><line x1="374.7" y1="640" x2="374.7" y2="693.8"/><line x1="372.9" y1="693.8" x2="376.5" y2="693.8"/><line x1="403.1" y1="648.3" x2="403.1" y2="588.3"/><line x1="401.3" y1="588.3" x2="404.9" y2="588.3"/><line x1="403.1" y1="623.8" x2="403.1" y2="691.1"/><line x1="401.3" y1="691.1" x2="404.9" y2="691.1"/><line x1="403.1" y1="714" x2="403.1" y2="700.5"/><line x1="401.3" y1="700.5" x2="404.9" y2="700.5"/><line x1="431.6" y1="644.8" x2="431.6" y2="584.2"/><line x1="429.8" y1="584.2" x2="433.4" y2="584.2"/><line x1="431.6" y1="632.7" x2="431.6" y2="687.4"/><line x1="429.8" y1="687.4" x2="433.4" y2="687.4"/><line x1="431.6" y1="714.8" x2="431.6" y2="694.6"/><line x1="429.8" y1="694.6" x2="433.4" y2="694.6"/><line x1="460.0" y1="640.8" x2="460.0" y2="576.7"/><line x1="458.2" y1="576.7" x2="461.8" y2="576.7"/><line x1="460.0" y1="628.1" x2="460.0" y2="684.7"/><line x1="458.2" y1="684.7" x2="461.8" y2="684.7"/><line x1="460.0" y1="708.6" x2="460.0" y2="687.9"/><line x1="458.2" y1="687.9" x2="461.8" y2="687.9"/></g><polyline fill="none" stroke="#000" stroke-width="1.2" points="147.2,660 175.7,561.8 204.1,638 232.5,665.8 260.9,673.9 289.4,664.2 317.8,653 346.2,635.6 374.7,643.5 403.1,648.3 431.6,644.8 460.0,640.8"/><polyline fill="none" stroke="#000" stroke-width="1.2" points="147.2,690 175.7,614.7 204.1,673.8 232.5,698 260.9,700 289.4,689.3 317.8,658.8 346.2,651 374.7,640 403.1,623.8 431.6,632.7 460.0,628.1"/><polyline fill="none" stroke="#000" stroke-width="1.2" points="147.2,717 175.7,701.5 204.1,717.7 232.5,722.3 260.9,722.8 289.4,722.3 317.8,722.3 346.2,721.5 374.7,716.2 403.1,714 431.6,714.8 460.0,708.6"/><g fill="#000"><polygon points="141.7,660 147.2,654.5 152.7,660 147.2,665.5"/><rect x="142.9" y="685.7" width="8.6" height="8.6"/><polygon points="141.8,721.4 147.2,711.8 152.6,721.4"/><path d="M143.7 722.0L150.7 729.0M143.7 729.0L150.7 722.0" stroke="#000" stroke-width="1"/><polygon points="170.2,561.8 175.7,556.3 181.2,561.8 175.7,567.3"/><rect x="171.3" y="610.4" width="8.6" height="8.6"/><polygon points="170.2,705.9 175.7,696.3 181.1,705.9"/><path d="M172.2 722.0L179.2 729.0M172.2 729.0L179.2 722.0" stroke="#000" stroke-width="1"/><polygon points="198.6,638 204.1,632.5 209.6,638 204.1,643.5"/><rect x="199.8" y="669.5" width="8.6" height="8.6"/><polygon points="198.7,722.1 204.1,712.5 209.5,722.1"/><path d="M200.6 722.0L207.6 729.0M200.6 729.0L207.6 722.0" stroke="#000" stroke-width="1"/><polygon points="227.0,665.8 232.5,660.3 238.0,665.8 232.5,671.3"/><rect x="228.2" y="693.7" width="8.6" height="8.6"/><polygon points="227.1,726.7 232.5,717.1 237.9,726.7"/><path d="M229.0 722.0L236.0 729.0M229.0 729.0L236.0 722.0" stroke="#000" stroke-width="1"/><polygon points="255.4,673.9 260.9,668.4 266.4,673.9 260.9,679.4"/><rect x="256.6" y="695.7" width="8.6" height="8.6"/><polygon points="255.5,727.2 260.9,717.6 266.3,727.2"/><path d="M257.4 722.0L264.4 729.0M257.4 729.0L264.4 722.0" stroke="#000" stroke-width="1"/><polygon points="283.9,664.2 289.4,658.7 294.9,664.2 289.4,669.7"/><rect x="285.1" y="685.0" width="8.6" height="8.6"/><polygon points="284.0,726.7 289.4,717.1 294.8,726.7"/><path d="M285.9 722.0L292.9 729.0M285.9 729.0L292.9 722.0" stroke="#000" stroke-width="1"/><polygon points="312.3,653 317.8,647.5 323.3,653 317.8,658.5"/><rect x="313.5" y="654.5" width="8.6" height="8.6"/><polygon points="312.4,726.7 317.8,717.1 323.2,726.7"/><path d="M314.3 722.0L321.3 729.0M314.3 729.0L321.3 722.0" stroke="#000" stroke-width="1"/><polygon points="340.8,635.6 346.2,630.1 351.8,635.6 346.2,641.1"/><rect x="341.9" y="646.7" width="8.6" height="8.6"/><polygon points="340.9,725.9 346.2,716.3 351.6,725.9"/><path d="M342.8 722.0L349.8 729.0M342.8 729.0L349.8 722.0" stroke="#000" stroke-width="1"/><polygon points="369.2,643.5 374.7,638.0 380.2,643.5 374.7,649.0"/><rect x="370.4" y="635.7" width="8.6" height="8.6"/><polygon points="369.3,720.6 374.7,711.0 380.1,720.6"/><path d="M371.2 722.0L378.2 729.0M371.2 729.0L378.2 722.0" stroke="#000" stroke-width="1"/><polygon points="397.6,648.3 403.1,642.8 408.6,648.3 403.1,653.8"/><rect x="398.8" y="619.5" width="8.6" height="8.6"/><polygon points="397.7,718.4 403.1,708.8 408.5,718.4"/><path d="M399.6 722.0L406.6 729.0M399.6 729.0L406.6 722.0" stroke="#000" stroke-width="1"/><polygon points="426.1,644.8 431.6,639.3 437.1,644.8 431.6,650.3"/><rect x="427.2" y="628.4" width="8.6" height="8.6"/><polygon points="426.2,719.2 431.6,709.6 436.9,719.2"/><path d="M428.1 722.0L435.1 729.0M428.1 729.0L435.1 722.0" stroke="#000" stroke-width="1"/><polygon points="454.5,640.8 460.0,635.3 465.5,640.8 460.0,646.3"/><rect x="455.7" y="623.8" width="8.6" height="8.6"/><polygon points="454.6,713.0 460.0,703.4 465.4,713.0"/><path d="M456.5 722.0L463.5 729.0M456.5 729.0L463.5 722.0" stroke="#000" stroke-width="1"/></g><text x="136.5" y="623.4" font-size="17" font-weight="bold" text-anchor="start" >*</text><text x="147.4" y="623.4" font-size="17" font-weight="bold" text-anchor="start" >*</text><text x="166.7" y="523.0" font-size="17" font-weight="bold" text-anchor="start" >*</text><text x="177.4" y="523.0" font-size="17" font-weight="bold" text-anchor="start" >*</text><text x="193.6" y="602.0" font-size="17" font-weight="bold" text-anchor="start" >*</text><text x="204.4" y="602.0" font-size="17" font-weight="bold" text-anchor="start" >*</text><text x="221.7" y="625.4" font-size="17" font-weight="bold" text-anchor="start" >*</text><text x="232.4" y="625.4" font-size="17" font-weight="bold" text-anchor="start" >*</text><line x1="246" y1="505.5" x2="264" y2="505.5" stroke="#000" stroke-width="1.2"/><g fill="#000"><polygon points="250.3,505.5 254.6,501.5 258.9,505.5 254.6,509.5"/></g><text x="278" y="508.1" font-size="13" font-weight="bold" letter-spacing="0.3">30 x 10<tspan dy="-4.5" font-size="9.5" font-weight="normal">6</tspan><tspan dy="4.5"> splenocytes (n = 17)</tspan></text><line x1="246" y1="523.8" x2="264" y2="523.8" stroke="#000" stroke-width="1.2"/><g fill="#000"><rect x="250.6" y="520.0" width="7.6" height="7.6"/></g><text x="278" y="527.4" font-size="13" font-weight="bold" letter-spacing="0.3">15 x 10<tspan dy="-4.5" font-size="9.5" font-weight="normal">6</tspan><tspan dy="4.5"> splenocytes (n = 8)</tspan></text><line x1="246" y1="544.5" x2="264" y2="544.5" stroke="#000" stroke-width="1.2"/><g fill="#000"><polygon points="249.9,549.3 254.6,540.3 259.3,549.3"/></g><text x="285.5" y="548.1" font-size="13" font-weight="bold" letter-spacing="0.3">5 x 10<tspan dy="-4.5" font-size="9.5" font-weight="normal">6</tspan><tspan dy="4.5"> splenocytes (n = 6)</tspan></text><line x1="246" y1="564.2" x2="264" y2="564.2" stroke="#000" stroke-width="1.2"/><g fill="#000"><path d="M251.5 560.7L258.5 567.7M251.5 567.7L258.5 560.7" stroke="#000" stroke-width="1"/></g><text x="278" y="567.0" font-size="13" font-weight="bold" letter-spacing="0.3">PBS (n = 5)</text></svg>
</body></html>
